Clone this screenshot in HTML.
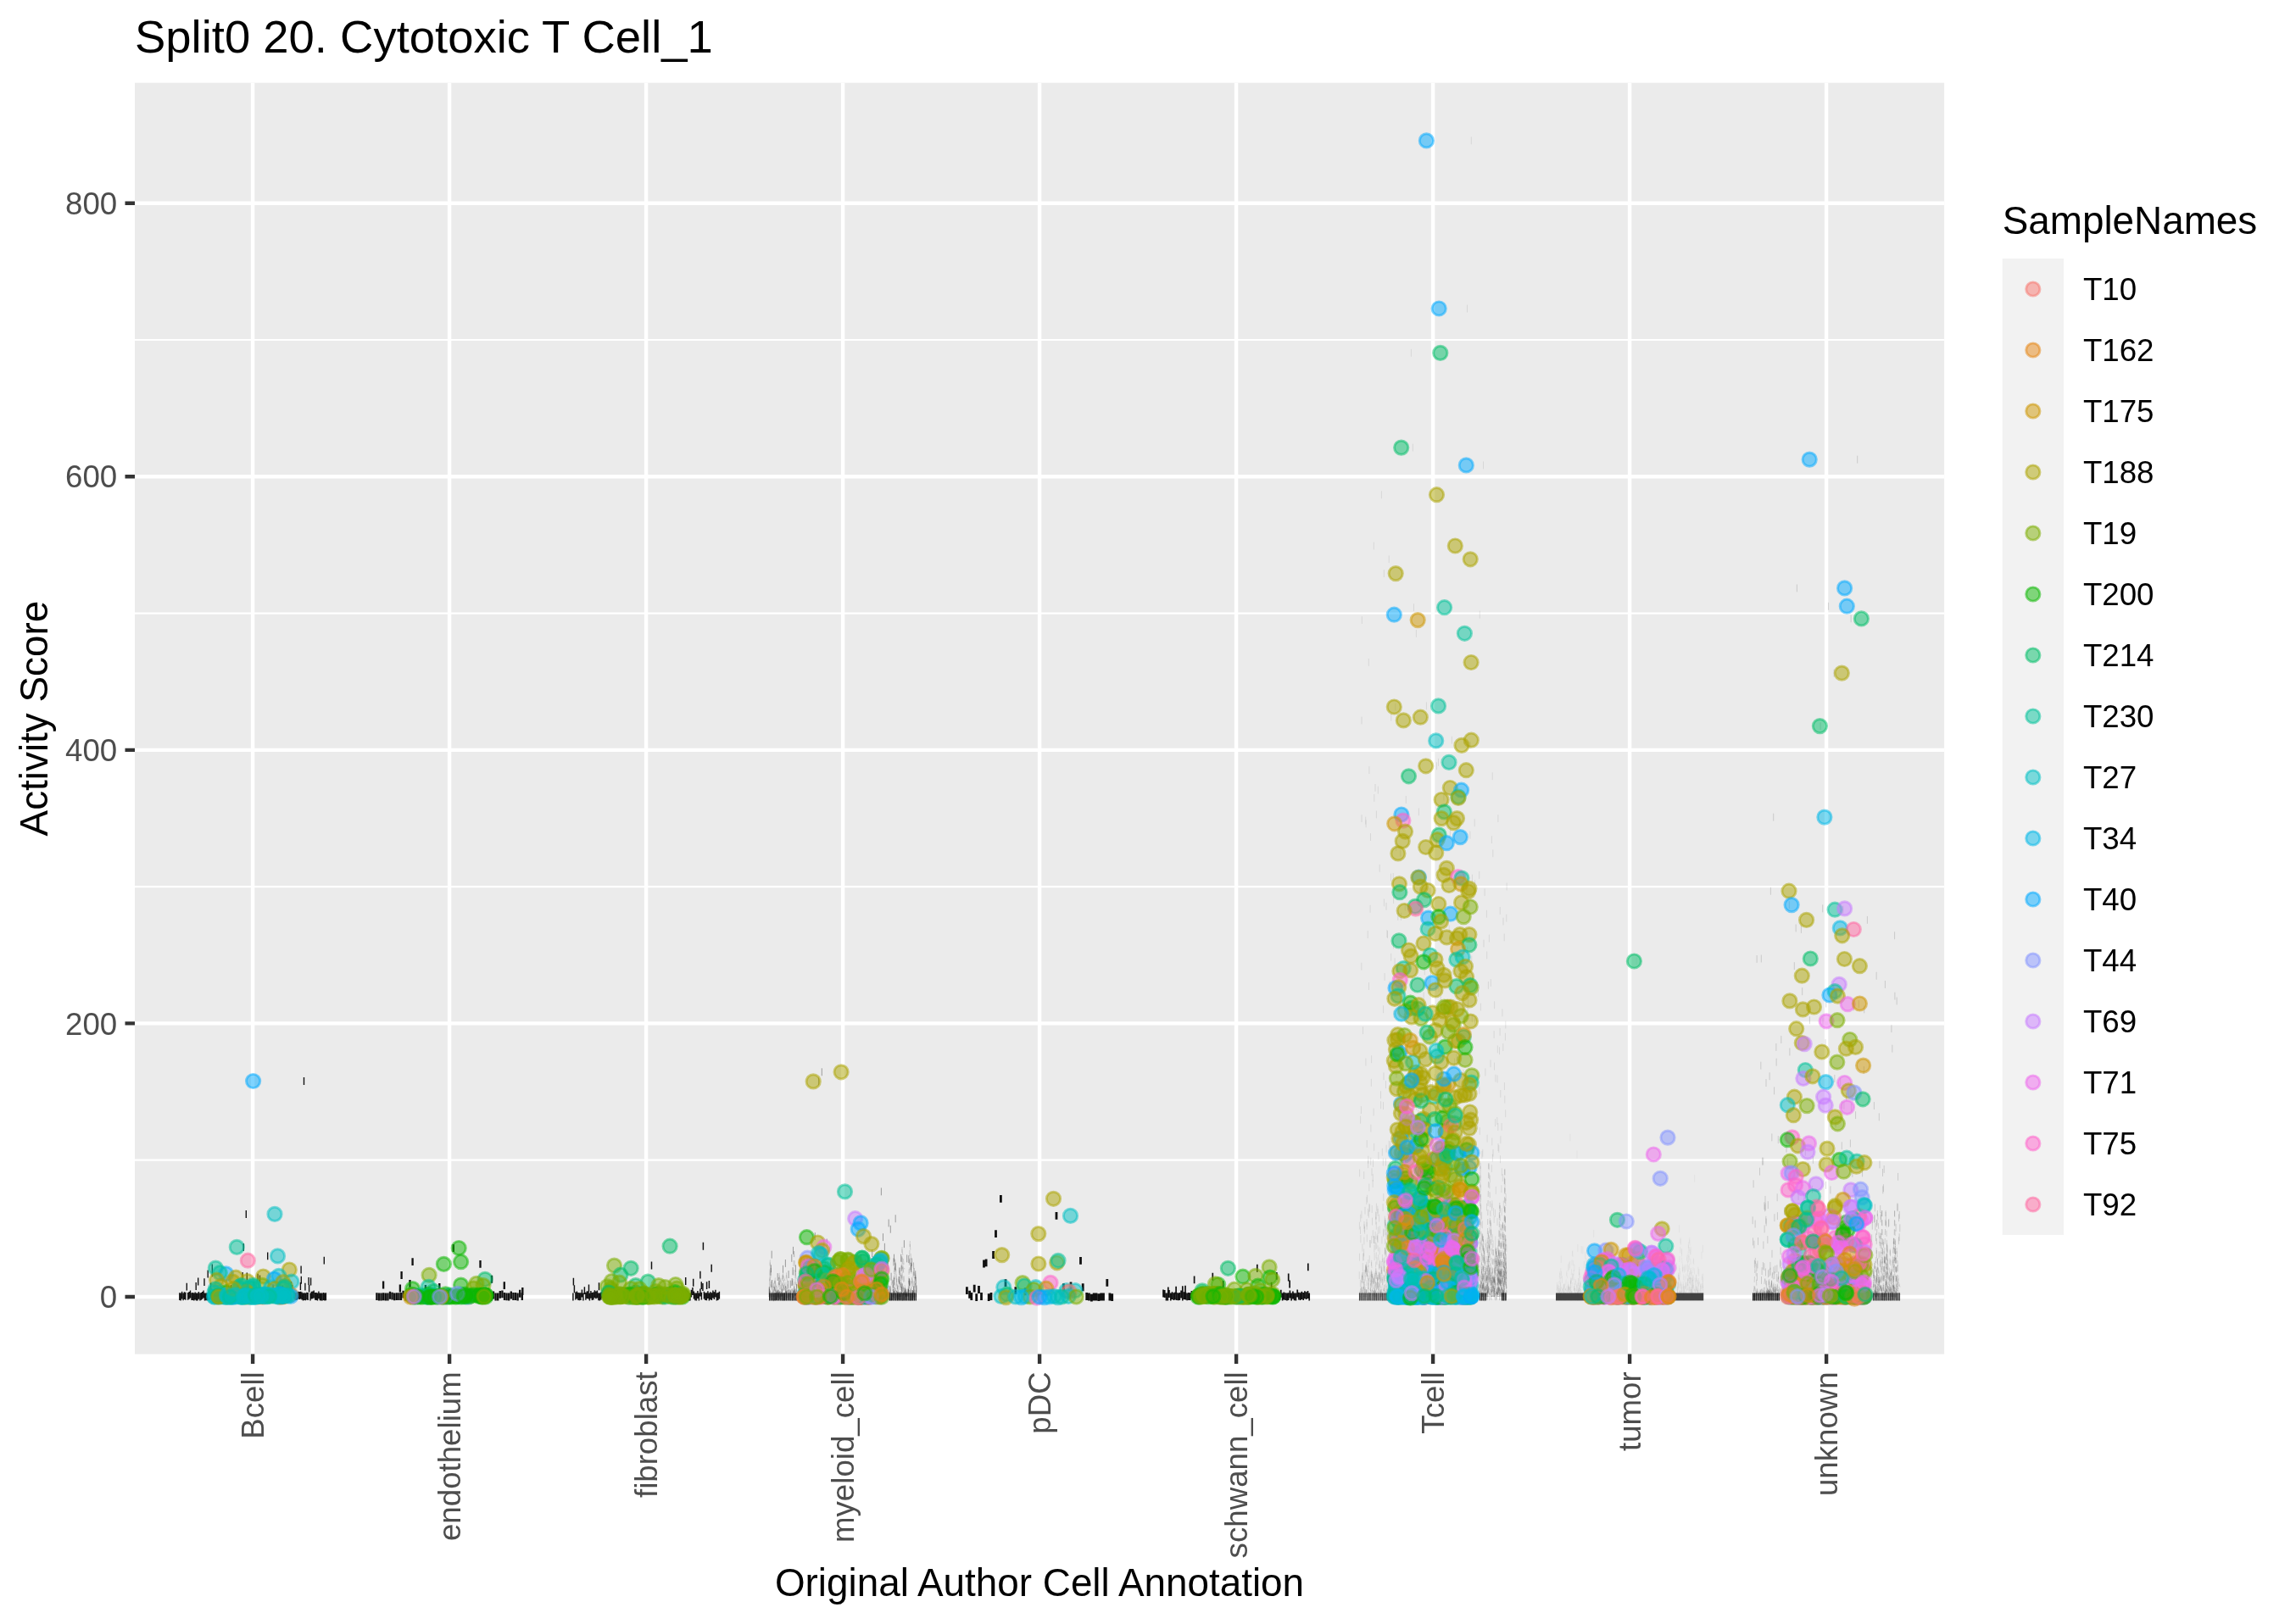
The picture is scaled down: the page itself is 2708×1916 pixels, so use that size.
<!DOCTYPE html><html><head><meta charset="utf-8"><title>plot</title><style>
html,body{margin:0;padding:0;background:#fff}svg{display:block;will-change:transform}text{font-family:"Liberation Sans",sans-serif}
.c0{fill:#F8766D;stroke:#F8766D}
.c1{fill:#E68613;stroke:#E68613}
.c2{fill:#CD9600;stroke:#CD9600}
.c3{fill:#ABA300;stroke:#ABA300}
.c4{fill:#7CAE00;stroke:#7CAE00}
.c5{fill:#0CB702;stroke:#0CB702}
.c6{fill:#00BE67;stroke:#00BE67}
.c7{fill:#00C19A;stroke:#00C19A}
.c8{fill:#00BFC4;stroke:#00BFC4}
.c9{fill:#00B8E7;stroke:#00B8E7}
.c10{fill:#00A9FF;stroke:#00A9FF}
.c11{fill:#8494FF;stroke:#8494FF}
.c12{fill:#C77CFF;stroke:#C77CFF}
.c13{fill:#ED68ED;stroke:#ED68ED}
.c14{fill:#FF61CC;stroke:#FF61CC}
.c15{fill:#FF68A1;stroke:#FF68A1}
</style></head><body>
<svg width="2708" height="1916" viewBox="0 0 2708 1916">
<rect width="2708" height="1916" fill="#fff"/>
<rect x="159.0" y="97.7" width="2134.1" height="1499.9" fill="#EBEBEB"/>
<path d="M159.0 1368.7H2293.1M159.0 1046.2H2293.1M159.0 723.6H2293.1M159.0 401.0H2293.1" stroke="#fff" stroke-width="2.2" fill="none"/>
<path d="M159.0 1530.0H2293.1M159.0 1207.4H2293.1M159.0 884.9H2293.1M159.0 562.3H2293.1M159.0 239.8H2293.1M298.1 97.7V1597.6M530.1 97.7V1597.6M762.1 97.7V1597.6M994.1 97.7V1597.6M1226.1 97.7V1597.6M1458.1 97.7V1597.6M1690.1 97.7V1597.6M1922.1 97.7V1597.6M2154.1 97.7V1597.6" stroke="#fff" stroke-width="4.4" fill="none"/>
<path d="M358.5 1271.0v8.9M290.3 1428.0v8.9M287.2 1467.0v8.9M315.7 1477.4v8.9M382.3 1482.7v8.9M250.3 1491.6v8.9M355.1 1493.6v8.9M245.2 1498.5v8.9M250.4 1497.3v8.9M286.1 1500.9v8.9M291.3 1501.5v8.9M304.1 1502.7v8.9M306.5 1504.6v8.9M355.3 1505.8v8.9M364.1 1507.0v8.9M366.6 1507.6v8.9M233.7 1507.6v8.9M241.0 1508.2v8.9M343.4 1511.9v8.9M359.9 1513.7v8.9M354.4 1513.1v8.9M231.2 1513.1v8.9M289.6 1514.3v8.9M329.2 1520.4v8.9M250.0 1520.4v8.9M361.8 1524.7v8.9M384.4 1525.3v8.9M241.5 1525.5v8.9M275.5 1524.7v8.9M286.8 1514.5v8.9M272.6 1516.0v8.9M285.4 1525.5v8.9M312.2 1522.9v8.9M373.1 1525.0v8.9M248.6 1513.6v8.9M221.7 1524.9v8.9M339.1 1522.9v8.9M305.2 1525.4v8.9M315.1 1524.6v8.9M268.4 1525.0v8.9M251.4 1524.1v8.9M213.2 1525.5v8.9M274.1 1525.5v8.9M298.1 1524.3v8.9M291.0 1524.5v8.9M261.3 1525.5v8.9M349.0 1525.2v8.9M267.0 1524.9v8.9M242.9 1525.4v8.9M244.3 1525.4v8.9M240.1 1522.6v8.9M223.1 1523.9v8.9M353.3 1524.0v8.9M224.5 1522.6v8.9M264.1 1525.5v8.9M228.8 1525.5v8.9M332.1 1525.3v8.9M334.9 1525.5v8.9M308.0 1520.3v8.9M310.8 1525.5v8.9M245.8 1525.3v8.9M337.7 1523.8v8.9M296.7 1524.0v8.9M344.8 1516.1v8.9M231.6 1525.5v8.9M309.4 1524.7v8.9M233.0 1525.5v8.9M346.2 1523.2v8.9M295.3 1523.4v8.9M343.4 1525.5v8.9M254.2 1522.8v8.9M366.0 1525.5v8.9M350.4 1524.6v8.9M293.9 1525.5v8.9M375.9 1523.4v8.9M271.2 1523.6v8.9M322.1 1515.4v8.9M259.9 1525.5v8.9M257.1 1524.9v8.9M278.3 1520.4v8.9M217.5 1524.2v8.9M370.2 1522.5v8.9M368.8 1523.4v8.9M378.7 1525.5v8.9M234.4 1523.9v8.9M299.5 1512.0v8.9M383.0 1525.5v8.9M320.7 1524.7v8.9M220.3 1513.7v8.9M292.4 1519.4v8.9M279.7 1512.1v8.9M230.2 1524.5v8.9M276.9 1525.5v8.9M326.4 1525.1v8.9M333.5 1516.4v8.9M216.1 1525.4v8.9M357.5 1525.5v8.9M374.5 1525.5v8.9M356.1 1524.6v8.9M364.6 1515.7v8.9M313.7 1524.6v8.9M336.3 1525.5v8.9M354.7 1523.7v8.9M235.9 1525.5v8.9M381.6 1525.0v8.9M288.2 1523.8v8.9M360.3 1525.4v8.9M303.8 1525.4v8.9M367.4 1523.7v8.9M371.7 1524.9v8.9M327.8 1522.5v8.9M323.6 1525.5v8.9M262.7 1522.5v8.9M380.1 1525.5v8.9M300.9 1522.8v8.9M342.0 1525.5v8.9M269.8 1524.7v8.9M281.1 1516.0v8.9M319.3 1523.5v8.9M340.5 1525.5v8.9M330.6 1524.5v8.9M238.7 1523.9v8.9M347.6 1524.5v8.9M306.6 1525.3v8.9M316.5 1525.3v8.9M226.0 1525.2v8.9M252.8 1524.1v8.9M325.0 1525.2v8.9M363.2 1525.1v8.9M265.6 1524.5v8.9M214.6 1523.7v8.9M282.5 1524.7v8.9M218.9 1524.8v8.9M317.9 1523.6v8.9M284.0 1524.2v8.9M237.3 1524.9v8.9M377.3 1525.4v8.9M358.9 1525.2v8.9M258.5 1523.9v8.9M227.4 1525.1v8.9M211.8 1525.2v8.9M351.9 1523.7v8.9M302.3 1525.1v8.9M255.7 1524.9v8.9M247.2 1524.6v8.9" stroke="#111" stroke-width="1.37" fill="none"/>
<path d="M534.8 1468.0v8.9M486.6 1484.2v8.9M566.5 1486.9v8.9M473.6 1500.0v8.9M580.0 1504.8v8.9M452.1 1511.6v8.9M594.8 1512.2v8.9M483.5 1509.9v8.9M471.9 1515.6v8.9M501.9 1516.1v8.9M518.3 1513.9v8.9M616.3 1519.0v8.9M553.5 1525.5v8.9M527.5 1525.5v8.9M595.0 1525.0v8.9M550.9 1523.1v8.9M582.0 1523.5v8.9M597.6 1525.4v8.9M486.0 1524.3v8.9M592.4 1522.4v8.9M548.3 1525.0v8.9M488.5 1524.5v8.9M467.8 1525.2v8.9M615.8 1525.2v8.9M600.2 1525.5v8.9M454.8 1525.5v8.9M543.1 1525.4v8.9M491.1 1525.5v8.9M584.6 1525.5v8.9M574.2 1525.5v8.9M498.9 1525.5v8.9M537.9 1523.6v8.9M473.0 1525.1v8.9M608.0 1525.0v8.9M576.8 1523.8v8.9M519.7 1522.7v8.9M545.7 1525.3v8.9M460.0 1523.8v8.9M465.2 1525.4v8.9M540.5 1525.2v8.9M556.1 1525.5v8.9M524.9 1523.0v8.9M480.8 1525.2v8.9M530.1 1525.3v8.9M587.2 1525.5v8.9M449.6 1525.5v8.9M509.3 1525.5v8.9M483.4 1525.5v8.9M602.8 1523.6v8.9M447.0 1525.5v8.9M563.9 1523.6v8.9M558.7 1525.5v8.9M496.3 1525.5v8.9M566.5 1525.3v8.9M517.1 1524.4v8.9M532.7 1525.5v8.9M504.1 1523.7v8.9M475.6 1522.7v8.9M522.3 1525.2v8.9M561.3 1524.9v8.9M452.2 1525.3v8.9M457.4 1525.5v8.9M514.5 1523.3v8.9M493.7 1525.4v8.9M579.4 1525.5v8.9M571.7 1525.4v8.9M605.4 1525.1v8.9M506.7 1525.5v8.9M478.2 1525.5v8.9M569.1 1524.7v8.9M610.6 1525.5v8.9M462.6 1524.7v8.9M589.8 1522.9v8.9M511.9 1524.4v8.9M501.5 1525.8v8.9M613.2 1521.8v8.9M535.3 1524.6v8.9M470.4 1525.2v8.9M444.4 1525.2v8.9" stroke="#111" stroke-width="2.34" fill="none"/>
<path d="M829.4 1465.8v8.9M768.5 1488.6v8.9M839.2 1491.8v8.9M825.9 1499.7v8.9M676.4 1507.7v8.9M827.3 1512.2v8.9M808.7 1507.1v8.9M817.7 1508.8v8.9M706.5 1513.3v8.9M833.6 1512.2v8.9M836.4 1511.1v8.9M694.5 1515.6v8.9M711.9 1520.1v8.9M804.9 1523.5v8.9M717.9 1523.5v8.9M677.4 1516.3v8.9M803.4 1525.5v8.9M816.9 1519.0v8.9M846.9 1525.0v8.9M698.4 1525.1v8.9M779.4 1525.5v8.9M704.4 1522.6v8.9M821.4 1525.5v8.9M732.9 1524.2v8.9M764.4 1523.5v8.9M734.4 1525.5v8.9M788.4 1525.4v8.9M749.4 1525.3v8.9M744.9 1524.0v8.9M701.4 1522.3v8.9M770.4 1525.5v8.9M687.9 1525.5v8.9M689.4 1518.2v8.9M743.4 1525.5v8.9M752.4 1523.5v8.9M762.9 1524.5v8.9M813.9 1525.5v8.9M738.9 1523.3v8.9M812.4 1525.5v8.9M710.4 1522.2v8.9M720.9 1525.4v8.9M719.4 1525.0v8.9M786.9 1523.2v8.9M726.9 1515.4v8.9M783.9 1525.5v8.9M705.9 1525.4v8.9M773.4 1523.5v8.9M728.4 1522.5v8.9M818.4 1523.5v8.9M683.4 1525.3v8.9M686.4 1521.5v8.9M755.4 1523.7v8.9M792.9 1524.6v8.9M696.9 1522.9v8.9M695.4 1525.5v8.9M768.9 1525.5v8.9M690.9 1524.8v8.9M776.4 1523.0v8.9M827.4 1524.7v8.9M809.4 1520.8v8.9M761.4 1524.2v8.9M824.4 1525.5v8.9M815.4 1521.7v8.9M780.9 1525.5v8.9M750.9 1522.7v8.9M785.4 1525.1v8.9M759.9 1524.4v8.9M782.4 1525.5v8.9M722.4 1525.3v8.9M708.9 1524.6v8.9M800.4 1523.7v8.9M801.9 1525.5v8.9M843.9 1521.7v8.9M747.9 1515.9v8.9M702.9 1523.4v8.9M713.4 1525.5v8.9M675.9 1525.5v8.9M789.9 1525.5v8.9M707.4 1525.5v8.9M840.9 1522.6v8.9M839.4 1525.2v8.9M716.4 1525.5v8.9M777.9 1525.0v8.9M806.4 1525.0v8.9M822.9 1523.0v8.9M810.9 1522.7v8.9M825.9 1520.5v8.9M774.9 1525.5v8.9M758.4 1523.4v8.9M845.4 1525.5v8.9M753.9 1525.1v8.9M680.4 1523.4v8.9M794.4 1525.5v8.9M807.9 1524.6v8.9M765.9 1524.3v8.9M771.9 1525.5v8.9M791.4 1521.9v8.9M737.4 1525.4v8.9M746.4 1522.7v8.9M684.9 1525.2v8.9M831.9 1525.2v8.9M723.9 1525.5v8.9M741.9 1524.4v8.9M678.9 1524.6v8.9M725.4 1521.7v8.9M756.9 1525.3v8.9M740.4 1525.5v8.9M735.9 1525.5v8.9M731.4 1524.6v8.9M714.9 1523.8v8.9M798.9 1525.3v8.9M836.4 1525.5v8.9M828.9 1514.0v8.9M699.9 1524.6v8.9M693.9 1523.5v8.9M767.4 1523.5v8.9M729.9 1524.3v8.9M834.9 1523.2v8.9M795.9 1523.6v8.9M842.4 1524.2v8.9M833.4 1525.3v8.9M692.4 1523.2v8.9M797.4 1525.2v8.9M819.9 1525.4v8.9M830.4 1523.7v8.9M837.9 1524.3v8.9M848.4 1523.7v8.9M681.9 1525.0v8.9" stroke="#111" stroke-width="1.46" fill="none"/>
<path d="M969.3 1260.3v8.9M965.5 1271.4v8.9M1039.4 1401.4v8.9M1056.2 1433.3v8.9M1048.2 1438.5v8.9M1050.3 1445.8v8.9M961.3 1454.2v8.9M1066.4 1463.2v8.9M1041.5 1455.2v8.9M975.2 1461.5v8.9M1043.4 1466.8v8.9M935.5 1470.9v8.9M1054.5 1479.7v8.9M1020.8 1485.6v8.9M1028.7 1474.1v8.9M1062.7 1479.7v8.9M1069.7 1480.4v8.9M1075.4 1484.5v8.9M979.8 1487.7v8.9M998.9 1481.4v8.9M1029.5 1482.5v8.9M1054.0 1484.5v8.9M990.6 1491.9v8.9M961.6 1487.7v8.9M1047.3 1489.8v8.9M939.6 1515.0v8.9M1072.6 1508.2v8.9M1076.3 1522.2v8.9M1073.8 1525.5v8.9M1004.2 1518.7v8.9M910.6 1510.0v8.9M957.0 1520.6v8.9M1049.4 1524.3v8.9M917.2 1502.1v8.9M969.9 1518.1v8.9M951.6 1501.3v8.9M925.1 1525.2v8.9M967.8 1518.7v8.9M978.6 1512.1v8.9M1019.6 1491.7v8.9M947.1 1521.1v8.9M1078.0 1496.1v8.9M972.4 1499.7v8.9M1048.6 1525.3v8.9M1007.6 1525.3v8.9M923.9 1525.5v8.9M991.4 1524.9v8.9M1003.4 1524.7v8.9M1025.8 1525.4v8.9M976.1 1494.1v8.9M1077.2 1523.2v8.9M1057.7 1523.2v8.9M1060.6 1505.9v8.9M1005.9 1524.6v8.9M908.1 1522.6v8.9M909.0 1495.9v8.9M921.8 1524.5v8.9M1049.0 1516.8v8.9M941.7 1525.5v8.9M1039.9 1519.3v8.9M922.2 1520.5v8.9M986.4 1524.3v8.9M930.1 1499.1v8.9M1047.8 1524.0v8.9M971.9 1525.5v8.9M976.5 1522.9v8.9M1022.1 1525.4v8.9M932.2 1510.7v8.9M1063.5 1518.2v8.9M1045.3 1519.2v8.9M971.1 1520.0v8.9M1022.9 1519.1v8.9M942.1 1516.4v8.9M1021.6 1520.3v8.9M974.4 1499.9v8.9M909.4 1492.3v8.9M1025.4 1522.2v8.9M1060.2 1524.1v8.9M987.3 1525.1v8.9M907.7 1520.6v8.9M922.6 1525.5v8.9M1021.2 1523.1v8.9M918.1 1524.5v8.9M1071.4 1520.7v8.9M1009.6 1525.5v8.9M915.2 1524.2v8.9M990.2 1525.5v8.9M1072.2 1511.2v8.9M995.6 1525.5v8.9M913.5 1525.2v8.9M924.7 1525.4v8.9M1075.5 1525.5v8.9M999.3 1524.5v8.9M938.4 1492.4v8.9M914.8 1525.1v8.9M946.2 1512.1v8.9M1071.0 1520.7v8.9M964.9 1522.1v8.9M1009.2 1525.5v8.9M1075.9 1524.5v8.9M1040.7 1511.4v8.9M1041.1 1525.0v8.9M977.7 1521.6v8.9M1013.4 1524.9v8.9M1042.0 1511.1v8.9M955.8 1525.5v8.9M963.2 1525.2v8.9M932.6 1522.5v8.9M942.5 1505.5v8.9M970.7 1519.1v8.9M988.5 1525.4v8.9M964.1 1496.8v8.9M1014.6 1523.5v8.9M1007.1 1524.3v8.9M1005.5 1525.5v8.9M1055.2 1518.9v8.9M1004.7 1519.9v8.9M1066.0 1519.3v8.9M962.0 1524.2v8.9M1044.0 1511.8v8.9M1023.3 1525.5v8.9M916.0 1524.6v8.9M1046.5 1522.1v8.9M1073.0 1525.5v8.9M1079.7 1499.4v8.9M956.6 1519.5v8.9M919.7 1523.3v8.9M969.5 1515.1v8.9M1080.1 1506.7v8.9M915.6 1525.1v8.9M986.0 1525.5v8.9M1037.8 1515.7v8.9M1050.2 1517.5v8.9M1006.7 1522.2v8.9M1000.1 1525.5v8.9M993.5 1525.5v8.9M965.3 1525.5v8.9M1032.4 1525.5v8.9M1067.6 1519.5v8.9M1008.8 1507.4v8.9M1049.8 1525.5v8.9M1062.2 1525.3v8.9M952.5 1517.6v8.9M928.9 1522.4v8.9M912.7 1525.2v8.9M961.2 1519.2v8.9M955.0 1519.5v8.9M1005.1 1525.5v8.9M1043.2 1525.5v8.9M1046.9 1525.2v8.9M1016.7 1522.0v8.9M988.1 1507.2v8.9M916.8 1522.5v8.9M962.8 1521.6v8.9M936.7 1517.9v8.9M1018.3 1524.3v8.9M1028.3 1501.2v8.9M1078.8 1521.5v8.9M1002.2 1519.6v8.9M1043.6 1525.4v8.9M929.3 1510.9v8.9M1026.6 1491.2v8.9M911.0 1524.6v8.9M1046.1 1525.0v8.9M1015.9 1521.2v8.9M1056.9 1525.5v8.9M969.0 1500.0v8.9M1030.3 1525.4v8.9M1001.4 1524.1v8.9M918.9 1507.0v8.9M907.3 1518.2v8.9M992.2 1503.7v8.9M968.2 1525.2v8.9M953.3 1495.2v8.9M1027.0 1525.5v8.9M1019.2 1525.5v8.9M1054.4 1523.1v8.9M1033.2 1523.3v8.9M1059.3 1525.5v8.9M967.0 1524.8v8.9M995.1 1504.0v8.9M974.8 1491.9v8.9M1051.9 1524.6v8.9M1059.8 1524.0v8.9M1063.9 1514.2v8.9M984.4 1519.7v8.9M1034.1 1524.4v8.9M923.5 1492.9v8.9M939.2 1525.5v8.9M1061.8 1524.6v8.9M1023.7 1525.5v8.9M924.3 1525.4v8.9M985.6 1525.5v8.9M983.5 1496.9v8.9M1068.5 1521.4v8.9M1058.5 1524.0v8.9M1018.8 1522.7v8.9M982.7 1522.2v8.9M930.5 1524.6v8.9M984.8 1525.5v8.9M1050.7 1525.4v8.9M935.9 1522.7v8.9M919.3 1524.3v8.9M1013.8 1524.0v8.9M1073.4 1525.4v8.9M917.7 1521.6v8.9M996.4 1525.0v8.9M944.6 1516.4v8.9M1032.0 1504.1v8.9M1036.6 1498.0v8.9M997.6 1525.5v8.9M1035.7 1512.6v8.9M1024.1 1524.8v8.9M976.9 1518.6v8.9M1067.2 1523.7v8.9M950.8 1525.4v8.9M1080.5 1521.5v8.9M1032.8 1523.9v8.9M1008.4 1520.7v8.9M1045.7 1523.3v8.9M979.0 1520.5v8.9M945.8 1524.0v8.9M1013.0 1521.9v8.9M1010.9 1516.4v8.9M936.3 1522.2v8.9M1068.9 1525.3v8.9M998.0 1525.5v8.9M973.6 1505.5v8.9M1010.5 1525.5v8.9M956.2 1525.3v8.9M1036.2 1519.8v8.9M950.0 1508.6v8.9M945.0 1525.3v8.9M937.1 1520.3v8.9M949.6 1525.5v8.9M1077.6 1517.3v8.9M993.9 1524.3v8.9M1061.0 1495.6v8.9M1065.6 1524.8v8.9M930.9 1521.3v8.9M1011.7 1510.5v8.9M1066.4 1525.4v8.9M1042.8 1525.5v8.9M1063.1 1524.4v8.9M927.6 1523.4v8.9M938.8 1523.0v8.9M1042.4 1524.9v8.9M960.3 1523.8v8.9M1017.5 1525.5v8.9M945.4 1525.1v8.9M1051.1 1501.7v8.9M966.6 1525.2v8.9M1052.7 1525.2v8.9M1055.6 1525.1v8.9M1001.8 1525.5v8.9M977.3 1518.1v8.9M927.2 1523.6v8.9M941.3 1524.9v8.9M931.8 1525.5v8.9M997.2 1519.8v8.9M1034.5 1521.9v8.9M926.0 1525.2v8.9M980.6 1521.5v8.9M1053.5 1521.0v8.9M1064.3 1525.5v8.9M948.3 1484.8v8.9M910.2 1475.7v8.9M973.2 1488.5v8.9M1074.3 1489.7v8.9M1071.8 1481.2v8.9M1038.2 1481.8v8.9M1027.9 1484.2v8.9M926.4 1486.0v8.9M1074.7 1492.1v8.9M933.8 1479.9v8.9M952.1 1483.6v8.9M1015.4 1479.9v8.9M1037.4 1482.4v8.9M959.5 1484.8v8.9M1035.3 1487.9v8.9M1056.0 1489.7v8.9M962.4 1489.7v8.9M935.1 1495.2v8.9M1003.0 1498.2v8.9M955.4 1499.5v8.9M950.4 1501.9v8.9M1014.2 1500.1v8.9M1008.0 1500.7v8.9M970.3 1499.5v8.9M951.2 1493.4v8.9M986.9 1495.2v8.9M993.1 1492.7v8.9M952.9 1504.3v8.9M981.9 1510.4v8.9M985.2 1507.4v8.9M1053.1 1510.4v8.9M1054.8 1507.4v8.9M1033.7 1510.4v8.9M1000.9 1509.2v8.9M1025.0 1507.4v8.9M934.2 1508.0v8.9M1022.5 1513.5v8.9M964.5 1516.5v8.9M1080.9 1516.5v8.9M926.8 1517.1v8.9M934.6 1525.5v8.9M958.3 1525.5v8.9M940.0 1525.5v8.9M979.4 1525.5v8.9M912.3 1526.3v8.9M966.1 1525.5v8.9M914.4 1525.7v8.9M999.7 1521.4v8.9M1064.7 1525.7v8.9M980.2 1522.6v8.9M967.4 1525.1v8.9" stroke="#111" stroke-width="0.37" fill="none"/>
<path d="M928.1 1518.7L926.5 1530.0M928.1 1519.3L929.6 1523.8M934.0 1520.5L932.8 1530.0M934.0 1520.9L935.1 1525.4M936.6 1476.0L934.5 1530.0M936.6 1476.2L938.6 1523.0M921.1 1508.3L917.6 1530.0M921.1 1510.7L924.6 1521.8M912.4 1520.9L911.1 1530.0M912.4 1523.4L913.7 1527.8M938.4 1501.2L936.2 1530.0M938.4 1502.1L940.0 1523.6M909.0 1512.7L907.0 1530.0M909.0 1514.7L912.1 1528.5M910.2 1523.3L907.5 1530.0M910.2 1526.9L913.0 1529.7M908.3 1486.5L907.0 1530.0M908.3 1489.4L909.7 1520.1M908.1 1504.4L907.0 1530.0M908.1 1506.7L910.8 1522.8M924.8 1515.3L922.8 1530.0M924.8 1517.4L926.9 1524.5M912.8 1517.8L910.3 1530.0M912.8 1518.2L915.3 1524.1M930.4 1519.2L927.8 1530.0M930.4 1521.4L933.1 1527.3M919.4 1511.2L918.1 1530.0M919.4 1514.6L920.8 1524.0M927.6 1501.4L926.1 1530.0M927.6 1504.3L929.2 1518.1M912.6 1513.6L910.2 1530.0M912.6 1517.4L914.9 1526.5M915.4 1517.0L913.8 1530.0M915.4 1517.9L917.1 1522.5M914.3 1507.4L912.7 1530.0M914.3 1510.7L915.8 1521.2M913.8 1510.7L911.0 1530.0M913.8 1511.6L916.6 1524.7M924.8 1509.7L921.9 1530.0M924.8 1513.3L927.6 1523.1M934.4 1510.3L931.4 1530.0M934.4 1510.9L937.4 1524.1M923.7 1502.1L920.4 1530.0M923.7 1504.6L927.1 1513.9M924.0 1516.6L921.3 1530.0M924.0 1518.8L926.7 1522.2M913.9 1516.3L912.7 1530.0M913.9 1517.8L915.2 1524.9M920.5 1523.4L919.4 1530.0M920.5 1526.2L921.6 1526.2M922.3 1522.5L920.9 1530.0M922.3 1526.1L923.6 1529.6M938.6 1521.3L937.4 1530.0M938.6 1524.2L939.9 1528.1M919.4 1501.9L916.4 1530.0M919.4 1504.8L922.4 1529.8M915.9 1520.7L913.6 1530.0M915.9 1522.8L918.2 1528.0M923.2 1503.7L921.3 1530.0M923.2 1505.1L925.0 1524.8" stroke="#1a1a1a" stroke-opacity="0.22" stroke-width=".7" stroke-dasharray="7 4" fill="none"/>
<path d="M1068.1 1523.5L1064.8 1530.0M1068.1 1524.4L1071.4 1528.6M1070.8 1523.7L1067.3 1530.0M1070.8 1525.4L1074.3 1527.0M1064.6 1522.9L1063.0 1530.0M1064.6 1523.5L1066.3 1526.0M1076.2 1507.4L1073.1 1530.0M1076.2 1509.7L1079.3 1526.6M1079.9 1502.5L1078.2 1530.0M1079.9 1504.3L1081.0 1529.6M1079.8 1514.0L1077.6 1530.0M1079.8 1514.1L1081.0 1522.0M1052.2 1509.5L1049.6 1530.0M1052.2 1511.9L1054.8 1519.6M1079.0 1506.3L1076.9 1530.0M1079.0 1507.2L1081.0 1516.4M1065.5 1517.3L1063.2 1530.0M1065.5 1518.5L1067.8 1529.0M1068.7 1520.4L1065.7 1530.0M1068.7 1523.3L1071.8 1528.1M1064.1 1482.4L1062.3 1530.0M1064.1 1483.8L1065.8 1516.2M1056.8 1519.7L1053.6 1530.0M1056.8 1522.1L1060.0 1526.1M1071.8 1521.7L1069.8 1530.0M1071.8 1521.9L1073.8 1525.0M1060.7 1511.2L1058.2 1530.0M1060.7 1511.8L1063.2 1522.1M1077.5 1489.1L1076.2 1530.0M1077.5 1489.9L1078.7 1519.5M1067.2 1522.4L1064.2 1530.0M1067.2 1525.6L1070.1 1528.9M1073.9 1521.7L1072.7 1530.0M1073.9 1525.6L1075.1 1528.3M1060.9 1495.2L1059.3 1530.0M1060.9 1498.7L1062.5 1515.1M1060.0 1505.7L1057.4 1530.0M1060.0 1509.3L1062.7 1518.6M1065.1 1490.3L1062.1 1530.0M1065.1 1494.3L1068.1 1526.4M1056.2 1491.1L1053.5 1530.0M1056.2 1492.7L1058.8 1520.7M1073.2 1484.2L1070.7 1530.0M1073.2 1484.8L1075.6 1510.2M1057.6 1511.3L1054.9 1530.0M1057.6 1515.1L1060.2 1529.2M1055.7 1485.2L1053.2 1530.0M1055.7 1486.4L1058.2 1520.5M1064.0 1471.1L1061.3 1530.0M1064.0 1474.0L1066.8 1497.4M1075.2 1518.2L1073.7 1530.0M1075.2 1521.8L1076.6 1526.1M1072.8 1509.2L1071.2 1530.0M1072.8 1509.3L1074.3 1529.4M1063.4 1490.5L1061.7 1530.0M1063.4 1492.5L1065.1 1527.6M1057.3 1523.1L1055.9 1530.0M1057.3 1523.3L1058.6 1529.7M1074.5 1511.1L1071.7 1530.0M1074.5 1511.2L1077.3 1526.9M1069.3 1523.8L1067.5 1530.0M1069.3 1523.9L1071.1 1528.8M1076.0 1523.6L1073.8 1530.0M1076.0 1526.0L1078.2 1526.9M1055.2 1494.1L1052.2 1530.0M1055.2 1494.5L1058.2 1516.8M1073.3 1464.0L1071.3 1530.0M1073.3 1467.8L1075.3 1495.4" stroke="#1a1a1a" stroke-opacity="0.22" stroke-width=".7" stroke-dasharray="7 4" fill="none"/>
<path d="M907.0 1530.0H940.0" stroke="#1a1a1a" stroke-width="8.9" stroke-dasharray="1.3 .5" stroke-opacity="0.97" fill="none"/>
<path d="M1049.0 1530.0H1081.3" stroke="#1a1a1a" stroke-width="8.9" stroke-dasharray="1.3 .5" stroke-opacity="0.97" fill="none"/>
<path d="M1180.4 1409.9v8.9M1246.0 1429.9v8.9M1174.5 1451.2v8.9M1171.6 1476.1v8.9M1160.5 1486.5v8.9M1163.1 1485.4v8.9M1274.5 1482.9v8.9M1305.8 1508.9v8.9M1186.0 1509.2v8.9M1263.0 1512.6v8.9M1277.2 1514.3v8.9M1254.5 1514.3v8.9M1149.2 1515.7v8.9M1154.5 1517.1v8.9M1140.4 1518.2v8.9M1197.9 1518.2v8.9M1209.2 1519.4v8.9M1143.6 1522.8v8.9M1145.8 1525.0v8.9M1151.7 1526.2v8.9M1157.5 1525.0v8.9M1166.2 1526.2v8.9M1169.0 1525.0v8.9M1281.7 1525.0v8.9M1284.5 1525.6v8.9M1287.4 1526.7v8.9M1290.2 1525.6v8.9M1293.0 1525.6v8.9M1295.9 1526.2v8.9M1298.7 1525.6v8.9M1301.5 1525.6v8.9M1308.9 1525.6v8.9M1311.7 1526.2v8.9" stroke="#111" stroke-width="2.80" fill="none"/>
<path d="M1482.8 1491.8v8.9M1542.8 1490.4v8.9M1430.3 1501.8v8.9M1505.8 1500.9v8.9M1519.7 1502.6v8.9M1408.6 1505.4v8.9M1442.6 1511.1v8.9M1521.1 1510.5v8.9M1499.6 1512.8v8.9M1377.8 1518.4v8.9M1398.0 1516.7v8.9M1394.8 1517.3v8.9M1387.1 1517.8v8.9M1535.2 1524.1v8.9M1442.3 1525.3v8.9M1524.9 1523.6v8.9M1480.9 1525.5v8.9M1414.2 1525.0v8.9M1544.2 1525.5v8.9M1466.9 1523.6v8.9M1526.6 1525.4v8.9M1484.5 1525.1v8.9M1459.9 1521.8v8.9M1463.4 1525.4v8.9M1440.5 1525.5v8.9M1430.0 1525.1v8.9M1452.8 1525.5v8.9M1372.0 1521.5v8.9M1512.6 1525.5v8.9M1424.7 1525.3v8.9M1456.3 1525.4v8.9M1435.3 1524.6v8.9M1380.8 1525.5v8.9M1422.9 1525.2v8.9M1431.7 1524.9v8.9M1507.3 1524.6v8.9M1428.2 1524.9v8.9M1410.6 1522.7v8.9M1521.4 1522.5v8.9M1454.6 1523.3v8.9M1531.9 1524.7v8.9M1540.7 1524.2v8.9M1426.5 1525.5v8.9M1379.0 1522.0v8.9M1493.3 1525.2v8.9M1438.8 1522.0v8.9M1458.1 1522.0v8.9M1486.2 1525.5v8.9M1472.2 1525.3v8.9M1444.0 1525.3v8.9M1394.8 1525.5v8.9M1477.4 1525.3v8.9M1528.4 1525.5v8.9M1542.5 1523.0v8.9M1405.4 1522.9v8.9M1489.7 1524.4v8.9M1433.5 1525.1v8.9M1498.5 1522.9v8.9M1503.8 1525.5v8.9M1479.2 1525.5v8.9M1510.8 1521.8v8.9M1537.2 1525.0v8.9M1389.6 1525.4v8.9M1375.5 1525.5v8.9M1386.0 1524.5v8.9M1449.3 1525.5v8.9M1377.3 1525.5v8.9M1519.6 1525.2v8.9M1502.0 1524.6v8.9M1447.6 1525.5v8.9M1517.9 1525.5v8.9M1451.1 1524.1v8.9M1400.1 1525.4v8.9M1465.1 1525.5v8.9M1445.8 1524.4v8.9M1396.6 1524.2v8.9M1495.0 1524.3v8.9M1523.1 1525.5v8.9M1391.3 1525.1v8.9M1415.9 1522.5v8.9M1500.3 1524.4v8.9M1475.7 1521.9v8.9M1393.1 1522.5v8.9M1488.0 1525.5v8.9M1533.7 1525.2v8.9M1403.6 1525.2v8.9M1407.1 1525.1v8.9M1491.5 1523.5v8.9M1419.4 1525.4v8.9M1437.0 1525.5v8.9M1421.2 1525.5v8.9M1516.1 1525.2v8.9M1408.9 1523.3v8.9M1496.8 1524.5v8.9M1373.7 1522.0v8.9M1530.2 1521.6v8.9M1482.7 1525.5v8.9M1505.6 1524.8v8.9M1387.8 1525.0v8.9M1401.9 1525.1v8.9M1382.5 1524.2v8.9M1398.3 1524.6v8.9M1514.3 1524.6v8.9M1468.6 1524.8v8.9M1412.4 1524.5v8.9M1384.3 1525.2v8.9M1538.9 1523.3v8.9M1417.7 1525.2v8.9M1470.4 1524.4v8.9M1535.4 1523.8v8.9M1461.6 1523.2v8.9M1473.9 1525.0v8.9M1509.1 1525.0v8.9" stroke="#111" stroke-width="1.70" fill="none"/>
<path d="M1735.3 161.4v8.9M1730.5 359.6v8.9M1664.4 411.9v8.9M1666.4 523.6v8.9M1749.5 544.5v8.9M1629.4 579.3v8.9M1620.3 639.6v8.9M1638.2 655.3v8.9M1632.3 672.2v8.9M1667.5 712.3v8.9M1745.3 720.7v8.9M1606.3 727.1v8.9M1670.4 742.9v8.9M1614.3 777.0v8.9M1645.8 829.5v8.9M1682.4 828.4v8.9M1606.0 845.5v8.9M1640.8 841.7v8.9M1727.0 869.4v8.9M1734.2 875.0v8.9M1712.3 868.7v8.9M1696.5 894.9v8.9M1694.5 899.3v8.9M1614.9 904.2v8.9M1760.2 911.3v8.9M1622.0 925.0v8.9M1625.3 927.7v8.9M1658.3 939.0v8.9M1702.9 935.7v8.9M1620.8 937.0v8.9M1623.4 956.5v8.9M1610.7 963.6v8.9M1611.1 967.4v8.9M1673.4 953.4v8.9M1606.0 961.2v8.9M1766.9 961.2v8.9M1739.2 966.3v8.9M1710.4 976.7v8.9M1694.3 988.0v8.9M1733.9 980.7v8.9M1759.4 986.2v8.9M1689.8 990.2v8.9M1616.5 983.1v8.9M1646.6 995.1v8.9M1651.7 1001.7v8.9M1760.8 1002.4v8.9M1627.2 1019.9v8.9M1744.7 1027.9v8.9M1640.5 1030.6v8.9M1697.6 1031.0v8.9M1643.2 1030.1v8.9M1736.4 1031.7v8.9M1715.3 1038.3v8.9M1682.0 1040.1v8.9M1739.6 1038.3v8.9M1751.1 1048.3v8.9M1777.1 1041.6v8.9M1674.8 1046.1v8.9M1730.9 1043.9v8.9M1729.7 1047.2v8.9M1643.6 1057.2v8.9M1733.1 1062.0v8.9M1632.4 1060.5v8.9M1657.3 1065.6v8.9M1635.0 1064.9v8.9M1616.1 1067.8v8.9M1769.2 1070.0v8.9M1753.4 1073.8v8.9M1652.4 1077.1v8.9M1776.8 1078.7v8.9M1648.8 1077.1v8.9M1773.0 1082.6v8.9M1709.2 1091.5v8.9M1635.9 1097.1v8.9M1774.2 1101.5v8.9M1613.2 1098.2v8.9M1636.5 1098.2v8.9M1756.4 1102.6v8.9M1711.7 1105.5v8.9M1643.5 1110.4v8.9M1750.0 1108.6v8.9M1669.1 1115.2v8.9M1730.7 1116.6v8.9M1681.1 1123.7v8.9M1753.7 1122.5v8.9M1735.8 1127.6v8.9M1640.7 1124.8v8.9M1691.7 1127.6v8.9M1645.1 1130.3v8.9M1605.8 1135.8v8.9M1647.9 1138.1v8.9M1669.8 1138.1v8.9M1687.5 1141.4v8.9M1647.8 1140.3v8.9M1708.2 1145.8v8.9M1680.3 1141.4v8.9M1633.1 1148.0v8.9M1734.3 1151.8v8.9M1638.8 1157.6v8.9M1758.3 1155.1v8.9M1614.5 1159.1v8.9M1755.4 1158.0v8.9M1693.7 1160.9v8.9M1697.0 1161.3v8.9M1718.9 1160.2v8.9M1731.2 1163.5v8.9M1665.4 1152.5v8.9M1707.8 1525.4v8.9M1659.7 1497.2v8.9M1740.0 1475.3v8.9M1666.9 1490.2v8.9M1739.8 1500.1v8.9M1715.4 1518.1v8.9M1646.4 1497.8v8.9M1724.9 1524.7v8.9M1655.9 1482.5v8.9M1742.4 1521.2v8.9M1608.9 1459.5v8.9M1730.8 1522.1v8.9M1756.7 1508.5v8.9M1641.1 1525.5v8.9M1628.5 1287.3v8.9M1755.1 1488.2v8.9M1771.3 1523.6v8.9M1640.9 1505.5v8.9M1664.7 1283.2v8.9M1755.2 1517.1v8.9M1701.3 1458.4v8.9M1718.6 1523.0v8.9M1733.6 1447.5v8.9M1620.6 1348.9v8.9M1763.4 1525.5v8.9M1748.9 1525.3v8.9M1704.6 1479.5v8.9M1734.9 1523.3v8.9M1699.8 1421.5v8.9M1637.0 1452.9v8.9M1699.2 1523.8v8.9M1625.0 1457.1v8.9M1642.8 1428.6v8.9M1756.5 1525.5v8.9M1735.1 1502.7v8.9M1610.0 1423.8v8.9M1625.5 1513.2v8.9M1733.6 1508.7v8.9M1678.4 1511.9v8.9M1668.9 1521.2v8.9M1616.6 1514.1v8.9M1719.1 1456.6v8.9M1644.4 1503.1v8.9M1763.8 1458.5v8.9M1635.0 1524.4v8.9M1742.1 1525.5v8.9M1693.5 1477.4v8.9M1610.6 1493.9v8.9M1748.0 1504.1v8.9M1752.2 1520.1v8.9M1688.2 1525.5v8.9M1659.3 1525.5v8.9M1683.2 1431.8v8.9M1688.7 1522.1v8.9M1693.6 1522.7v8.9M1695.1 1473.6v8.9M1743.2 1353.2v8.9M1691.2 1504.8v8.9M1733.8 1360.4v8.9M1758.5 1442.3v8.9M1633.5 1472.0v8.9M1751.2 1514.4v8.9M1752.3 1467.0v8.9M1604.9 1457.2v8.9M1746.7 1437.4v8.9M1776.7 1511.7v8.9M1667.0 1480.9v8.9M1723.0 1498.8v8.9M1619.7 1511.7v8.9M1752.7 1505.1v8.9M1631.2 1525.5v8.9M1710.0 1515.8v8.9M1770.8 1524.6v8.9M1715.5 1476.4v8.9M1736.6 1461.3v8.9M1766.3 1233.5v8.9M1742.6 1506.1v8.9M1708.4 1390.0v8.9M1691.3 1451.0v8.9M1641.0 1509.5v8.9M1645.7 1513.4v8.9M1621.8 1458.6v8.9M1603.1 1525.5v8.9M1710.9 1427.6v8.9M1753.9 1465.3v8.9M1747.9 1357.8v8.9M1664.9 1516.0v8.9M1692.7 1522.2v8.9M1698.7 1451.0v8.9M1733.5 1525.2v8.9M1672.1 1262.4v8.9M1688.1 1523.9v8.9M1762.3 1524.0v8.9M1754.9 1523.2v8.9M1659.9 1496.8v8.9M1622.6 1429.6v8.9M1712.1 1515.7v8.9M1635.8 1450.4v8.9M1652.9 1481.7v8.9M1768.7 1525.3v8.9M1619.3 1451.3v8.9M1707.2 1508.8v8.9M1606.3 1503.4v8.9M1658.9 1333.3v8.9M1774.9 1495.0v8.9M1693.8 1494.0v8.9M1768.1 1460.8v8.9M1664.8 1478.7v8.9M1760.5 1500.2v8.9M1608.1 1478.1v8.9M1775.2 1436.4v8.9M1603.2 1500.2v8.9M1721.2 1511.7v8.9M1770.1 1449.3v8.9M1694.4 1417.7v8.9M1624.0 1483.4v8.9M1693.2 1469.2v8.9M1680.2 1477.0v8.9M1612.8 1525.2v8.9M1728.0 1481.2v8.9M1704.4 1426.8v8.9M1720.0 1465.5v8.9M1738.4 1421.9v8.9M1678.6 1514.5v8.9M1678.5 1525.5v8.9M1614.0 1507.9v8.9M1734.4 1435.0v8.9M1677.4 1481.4v8.9M1671.5 1430.9v8.9M1661.0 1524.5v8.9M1727.2 1331.8v8.9M1676.7 1525.5v8.9M1682.6 1509.7v8.9M1761.4 1504.2v8.9M1679.2 1454.2v8.9M1721.6 1445.3v8.9M1737.7 1525.5v8.9M1684.3 1504.2v8.9M1744.6 1439.2v8.9M1623.6 1524.8v8.9M1684.9 1499.7v8.9M1658.2 1502.5v8.9M1663.7 1330.9v8.9M1683.1 1388.6v8.9M1650.1 1449.9v8.9M1758.9 1451.1v8.9M1615.5 1462.9v8.9M1701.9 1507.5v8.9M1737.6 1500.6v8.9M1672.9 1183.6v8.9M1633.8 1436.9v8.9M1665.1 1511.7v8.9M1735.2 1525.5v8.9M1695.4 1321.0v8.9M1661.9 1522.5v8.9M1626.8 1487.6v8.9M1756.2 1457.0v8.9M1684.3 1331.1v8.9M1657.5 1502.1v8.9M1727.6 1408.8v8.9M1762.4 1502.8v8.9M1648.4 1429.4v8.9M1666.1 1493.3v8.9M1676.8 1348.6v8.9M1744.5 1515.4v8.9M1685.4 1525.5v8.9M1731.4 1486.3v8.9M1777.0 1522.4v8.9M1719.9 1525.5v8.9M1728.4 1525.4v8.9M1737.1 1442.8v8.9M1630.4 1480.1v8.9M1695.3 1525.1v8.9M1707.6 1488.6v8.9M1670.5 1374.0v8.9M1628.9 1493.7v8.9M1702.5 1499.6v8.9M1762.9 1522.3v8.9M1735.7 1424.6v8.9M1730.1 1373.9v8.9M1628.7 1521.5v8.9M1716.3 1410.4v8.9M1714.6 1523.8v8.9M1692.3 1436.1v8.9M1629.4 1504.5v8.9M1690.9 1494.2v8.9M1613.4 1425.8v8.9M1646.6 1525.5v8.9M1662.9 1504.2v8.9M1719.4 1524.1v8.9M1730.6 1509.2v8.9M1622.2 1465.6v8.9M1714.5 1298.2v8.9M1685.2 1500.9v8.9M1677.3 1463.2v8.9M1738.5 1330.4v8.9M1627.1 1471.5v8.9M1767.6 1501.0v8.9M1726.1 1513.9v8.9M1684.5 1513.9v8.9M1607.8 1500.9v8.9M1705.0 1501.4v8.9M1635.4 1497.9v8.9M1654.2 1327.0v8.9M1621.1 1478.1v8.9M1686.8 1525.1v8.9M1715.8 1420.5v8.9M1626.4 1516.4v8.9M1736.7 1524.9v8.9M1662.0 1494.4v8.9M1768.4 1501.4v8.9M1758.6 1500.8v8.9M1707.7 1506.8v8.9M1627.5 1525.1v8.9M1666.9 1525.5v8.9M1643.4 1497.8v8.9M1632.5 1519.3v8.9M1608.2 1512.4v8.9M1728.3 1470.7v8.9M1670.8 1515.2v8.9M1753.3 1502.1v8.9M1767.8 1350.9v8.9M1679.8 1460.7v8.9M1732.7 1467.9v8.9M1610.8 1492.4v8.9M1676.9 1471.6v8.9M1733.2 1289.4v8.9M1615.6 1525.4v8.9M1761.8 1521.8v8.9M1641.5 1523.3v8.9M1698.3 1418.9v8.9M1613.9 1517.0v8.9M1706.3 1489.8v8.9M1683.8 1499.3v8.9M1689.0 1507.8v8.9M1675.8 1525.5v8.9M1703.7 1495.5v8.9M1618.9 1525.5v8.9M1776.2 1524.8v8.9M1739.4 1485.5v8.9M1620.9 1468.7v8.9M1676.4 1518.4v8.9M1721.8 1292.9v8.9M1604.5 1447.0v8.9M1761.3 1510.8v8.9M1661.7 1426.8v8.9M1634.6 1525.2v8.9M1702.3 1485.4v8.9M1711.6 1505.5v8.9M1663.1 1521.2v8.9M1766.6 1503.2v8.9M1751.5 1525.5v8.9M1701.1 1497.1v8.9M1659.8 1494.4v8.9M1609.6 1446.9v8.9M1716.4 1523.7v8.9M1642.5 1436.9v8.9M1622.8 1435.7v8.9M1716.2 1510.8v8.9M1754.3 1524.6v8.9M1675.0 1496.6v8.9M1665.6 1438.9v8.9M1701.7 1484.5v8.9M1652.8 1392.9v8.9M1636.4 1454.0v8.9M1729.3 1449.2v8.9M1679.5 1506.5v8.9M1632.7 1515.4v8.9M1695.7 1525.3v8.9M1697.5 1457.4v8.9M1628.2 1502.0v8.9M1690.7 1433.3v8.9M1766.5 1507.0v8.9M1757.7 1524.0v8.9M1609.0 1440.9v8.9M1654.4 1521.0v8.9M1689.4 1525.2v8.9M1672.4 1483.0v8.9M1754.4 1512.5v8.9M1731.8 1523.5v8.9M1707.3 1525.5v8.9M1677.8 1509.1v8.9M1680.7 1490.0v8.9M1755.8 1517.9v8.9M1746.2 1409.3v8.9M1758.4 1458.0v8.9M1772.2 1525.2v8.9M1633.6 1525.5v8.9M1674.5 1522.5v8.9M1724.4 1525.5v8.9M1629.9 1458.5v8.9M1618.7 1503.4v8.9M1639.8 1346.2v8.9M1717.2 1524.9v8.9M1771.4 1497.1v8.9M1698.5 1427.6v8.9M1674.9 1515.0v8.9M1754.0 1525.5v8.9M1709.7 1475.8v8.9M1683.6 1497.0v8.9M1669.6 1520.7v8.9M1735.3 1471.7v8.9M1683.0 1456.3v8.9M1630.7 1525.5v8.9M1661.3 1493.9v8.9M1607.0 1518.2v8.9M1706.5 1517.4v8.9M1615.0 1419.9v8.9M1607.7 1525.5v8.9M1609.7 1523.7v8.9M1702.7 1487.8v8.9M1747.4 1500.1v8.9M1775.8 1204.6v8.9M1776.0 1524.7v8.9M1709.3 1517.1v8.9M1697.1 1492.6v8.9M1614.4 1427.9v8.9M1718.2 1432.1v8.9M1637.3 1467.4v8.9M1704.0 1509.2v8.9M1631.9 1450.7v8.9M1680.4 1522.0v8.9M1728.7 1373.0v8.9M1653.2 1525.5v8.9M1645.3 1436.3v8.9M1773.3 1416.6v8.9M1681.6 1525.4v8.9M1768.8 1452.2v8.9M1707.4 1523.4v8.9M1638.2 1345.8v8.9M1770.4 1497.1v8.9M1719.6 1524.9v8.9M1642.0 1449.2v8.9M1636.7 1525.4v8.9M1659.5 1522.5v8.9M1630.8 1506.7v8.9M1615.4 1525.4v8.9M1759.9 1416.4v8.9M1763.2 1494.9v8.9M1648.0 1499.9v8.9M1774.4 1277.1v8.9M1711.2 1525.5v8.9M1616.2 1504.1v8.9M1766.2 1518.6v8.9M1603.3 1525.5v8.9M1727.5 1477.0v8.9M1608.6 1473.5v8.9M1603.6 1379.5v8.9M1636.8 1425.3v8.9M1729.0 1465.6v8.9M1667.4 1519.4v8.9M1636.0 1521.6v8.9M1657.2 1502.1v8.9M1746.5 1421.9v8.9M1621.5 1524.4v8.9M1716.6 1490.5v8.9M1725.5 1525.4v8.9M1694.7 1471.6v8.9M1734.6 1467.9v8.9M1731.9 1216.3v8.9M1728.9 1525.5v8.9M1756.8 1470.9v8.9M1719.8 1500.3v8.9M1684.2 1524.0v8.9M1672.8 1309.1v8.9M1657.0 1460.1v8.9M1736.5 1501.7v8.9M1665.0 1507.8v8.9M1750.9 1512.6v8.9M1675.6 1523.1v8.9M1617.3 1272.8v8.9M1671.2 1497.2v8.9M1606.1 1522.7v8.9M1699.4 1461.0v8.9M1726.2 1492.5v8.9M1751.9 1260.5v8.9M1624.7 1506.3v8.9M1617.7 1458.1v8.9M1762.7 1484.9v8.9M1775.3 1434.2v8.9M1655.1 1374.1v8.9M1741.8 1513.8v8.9M1636.1 1525.2v8.9M1682.7 1466.6v8.9M1651.8 1315.6v8.9M1634.7 1500.2v8.9M1653.0 1509.9v8.9M1729.2 1507.5v8.9M1637.2 1507.4v8.9M1687.4 1525.5v8.9M1717.8 1474.8v8.9M1619.9 1524.8v8.9M1645.0 1523.2v8.9M1689.2 1497.3v8.9M1710.7 1521.1v8.9M1627.6 1487.2v8.9M1660.1 1520.0v8.9M1681.4 1497.5v8.9M1613.8 1363.8v8.9M1742.3 1505.0v8.9M1628.3 1521.6v8.9M1655.7 1525.4v8.9M1627.8 1503.5v8.9M1665.7 1501.4v8.9M1622.9 1515.4v8.9M1686.2 1381.5v8.9M1670.9 1523.1v8.9M1629.2 1487.7v8.9M1639.5 1517.7v8.9M1755.6 1498.5v8.9M1723.3 1497.8v8.9M1744.4 1515.6v8.9M1734.8 1507.8v8.9M1773.4 1523.8v8.9M1648.5 1498.4v8.9M1642.9 1484.3v8.9M1649.8 1524.0v8.9M1647.7 1525.3v8.9M1642.1 1502.3v8.9M1759.7 1419.7v8.9M1622.4 1523.7v8.9M1737.3 1452.4v8.9M1742.9 1498.6v8.9M1628.4 1524.0v8.9M1610.1 1525.5v8.9M1663.9 1525.0v8.9M1733.3 1402.5v8.9M1666.5 1520.5v8.9M1716.2 1485.2v8.9M1633.2 1434.7v8.9M1770.0 1521.0v8.9M1670.2 1502.6v8.9M1760.3 1456.3v8.9M1656.1 1454.3v8.9M1665.8 1525.5v8.9M1751.3 1517.2v8.9M1631.8 1408.1v8.9M1669.5 1522.1v8.9M1734.1 1482.1v8.9M1654.5 1511.0v8.9M1696.2 1472.8v8.9M1603.9 1523.5v8.9M1748.5 1440.4v8.9M1692.8 1511.9v8.9M1603.4 1441.6v8.9M1724.5 1488.2v8.9M1649.3 1432.3v8.9M1687.7 1520.5v8.9M1661.6 1470.8v8.9M1745.4 1525.5v8.9M1651.4 1352.1v8.9M1774.1 1498.6v8.9M1743.3 1425.5v8.9M1738.2 1525.5v8.9M1653.6 1501.2v8.9M1689.5 1472.3v8.9M1656.4 1510.6v8.9M1738.7 1449.6v8.9M1738.9 1498.7v8.9M1603.7 1525.3v8.9M1726.4 1453.5v8.9M1764.1 1487.5v8.9M1752.9 1525.3v8.9M1716.1 1475.2v8.9M1604.7 1432.7v8.9M1736.8 1376.5v8.9M1710.2 1523.4v8.9M1738.8 1524.5v8.9M1629.1 1521.5v8.9M1729.9 1472.9v8.9M1678.3 1525.5v8.9M1637.9 1448.8v8.9M1713.9 1525.2v8.9M1730.0 1498.8v8.9M1674.3 1491.9v8.9M1611.8 1521.4v8.9M1669.4 1399.9v8.9M1678.7 1525.3v8.9M1609.8 1521.0v8.9M1772.0 1500.0v8.9M1749.1 1466.2v8.9M1750.3 1517.9v8.9M1746.4 1183.6v8.9M1624.9 1507.3v8.9M1661.2 1423.7v8.9M1721.4 1522.1v8.9M1769.5 1363.3v8.9M1705.8 1523.0v8.9M1757.1 1524.8v8.9M1672.2 1488.9v8.9M1683.4 1478.5v8.9M1770.3 1525.4v8.9M1694.6 1491.0v8.9M1652.1 1518.8v8.9M1720.1 1486.0v8.9M1698.0 1509.1v8.9M1665.5 1520.8v8.9M1651.9 1507.9v8.9M1706.6 1498.7v8.9M1774.0 1499.2v8.9M1722.9 1525.2v8.9M1674.6 1423.8v8.9M1771.6 1500.5v8.9M1698.1 1508.4v8.9M1611.5 1495.4v8.9M1708.6 1470.4v8.9M1638.5 1479.2v8.9M1774.7 1509.0v8.9M1707.5 1500.5v8.9M1603.8 1525.3v8.9M1663.4 1439.9v8.9M1688.0 1430.5v8.9M1619.1 1392.0v8.9M1608.7 1382.1v8.9M1606.5 1504.9v8.9M1752.8 1487.9v8.9M1684.0 1497.5v8.9M1693.3 1523.8v8.9M1775.1 1524.3v8.9M1736.3 1197.2v8.9M1639.4 1504.4v8.9M1634.1 1474.4v8.9M1604.2 1525.1v8.9M1773.8 1461.6v8.9M1741.7 1512.0v8.9M1619.8 1522.9v8.9M1710.4 1519.8v8.9M1677.6 1525.5v8.9M1680.9 1522.6v8.9M1650.0 1354.5v8.9M1629.2 1523.8v8.9M1708.7 1524.3v8.9M1754.8 1499.3v8.9M1630.6 1525.5v8.9M1768.6 1524.7v8.9M1762.2 1434.1v8.9M1658.5 1525.5v8.9M1667.3 1439.5v8.9M1687.1 1362.1v8.9M1631.1 1420.2v8.9M1686.0 1525.5v8.9M1741.6 1459.4v8.9M1764.9 1524.1v8.9M1695.8 1524.6v8.9M1723.7 1431.7v8.9M1701.0 1525.5v8.9M1688.3 1497.3v8.9M1673.6 1499.5v8.9M1760.9 1521.5v8.9M1742.2 1520.3v8.9M1663.2 1485.8v8.9M1621.0 1501.6v8.9M1692.9 1496.8v8.9M1657.6 1460.5v8.9M1633.7 1496.3v8.9M1713.7 1512.3v8.9M1691.9 1517.5v8.9M1706.9 1416.6v8.9M1662.4 1513.4v8.9M1763.7 1467.3v8.9M1654.6 1439.6v8.9M1719.5 1497.5v8.9M1707.1 1482.6v8.9M1767.1 1461.7v8.9M1626.2 1500.8v8.9M1749.3 1495.3v8.9M1776.9 1468.1v8.9M1741.9 1522.8v8.9M1749.4 1517.2v8.9M1728.5 1513.1v8.9M1635.1 1350.7v8.9M1739.4 1495.8v8.9M1630.0 1494.3v8.9M1690.2 1418.8v8.9M1698.8 1522.6v8.9M1765.1 1497.5v8.9M1705.1 1420.2v8.9M1618.2 1422.1v8.9M1759.3 1374.2v8.9M1623.4 1419.7v8.9M1672.3 1358.2v8.9M1609.4 1497.9v8.9M1671.0 1484.0v8.9M1619.5 1368.0v8.9M1631.7 1449.5v8.9M1657.1 1389.1v8.9M1725.7 1525.5v8.9M1637.6 1519.6v8.9M1772.7 1525.4v8.9M1741.4 1488.3v8.9M1723.4 1498.5v8.9M1668.7 1464.9v8.9M1638.9 1493.2v8.9M1748.1 1455.3v8.9M1646.2 1520.9v8.9M1650.9 1519.1v8.9M1742.0 1434.6v8.9M1642.6 1500.8v8.9M1773.9 1525.5v8.9M1760.0 1513.6v8.9M1641.9 1479.6v8.9M1652.4 1447.7v8.9M1633.0 1487.3v8.9M1644.1 1497.4v8.9M1755.7 1492.4v8.9M1627.0 1500.7v8.9M1704.7 1507.1v8.9M1720.3 1515.3v8.9M1636.3 1519.7v8.9M1732.1 1520.6v8.9M1739.3 1499.2v8.9M1754.6 1515.6v8.9M1714.3 1453.2v8.9M1771.2 1425.4v8.9M1740.4 1524.9v8.9M1649.4 1453.2v8.9M1703.1 1514.3v8.9M1731.3 1500.8v8.9M1662.6 1505.5v8.9M1671.7 1491.8v8.9M1674.0 1440.3v8.9M1747.1 1522.9v8.9M1721.0 1273.0v8.9M1663.5 1489.3v8.9M1675.7 1501.4v8.9M1749.5 1500.6v8.9M1638.0 1421.0v8.9M1742.3 1524.1v8.9M1697.2 1424.0v8.9M1612.3 1456.4v8.9M1665.2 1519.1v8.9M1646.9 1408.1v8.9M1685.8 1503.3v8.9M1764.0 1524.5v8.9M1679.9 1397.8v8.9M1700.4 1517.4v8.9M1727.3 1525.5v8.9M1769.4 1421.9v8.9M1770.5 1510.4v8.9M1644.3 1453.3v8.9M1676.5 1289.0v8.9M1614.1 1492.8v8.9M1734.5 1524.2v8.9M1638.7 1505.0v8.9M1713.3 1495.3v8.9M1605.7 1510.9v8.9M1732.9 1512.0v8.9M1643.7 1473.0v8.9M1670.1 1525.5v8.9M1693.1 1520.6v8.9M1683.7 1491.4v8.9M1749.0 1480.8v8.9M1625.4 1447.3v8.9M1661.5 1524.3v8.9M1765.3 1502.0v8.9M1770.2 1518.0v8.9M1725.1 1185.0v8.9M1655.5 1487.4v8.9M1612.7 1497.3v8.9M1731.5 1461.6v8.9M1649.1 1525.5v8.9M1709.4 1416.7v8.9M1770.7 1506.4v8.9M1687.3 1504.7v8.9M1681.2 1522.9v8.9M1772.9 1458.2v8.9M1656.5 1188.3v8.9M1745.8 1511.4v8.9M1743.1 1486.5v8.9M1632.0 1265.3v8.9M1642.2 1522.2v8.9M1648.1 1421.7v8.9M1701.8 1520.6v8.9M1664.6 1467.9v8.9M1651.2 1309.9v8.9M1713.3 1524.7v8.9M1725.3 1523.8v8.9M1655.6 1428.2v8.9M1776.3 1461.5v8.9M1722.0 1462.0v8.9M1705.4 1524.4v8.9M1609.2 1525.3v8.9M1691.8 1438.2v8.9M1709.1 1470.3v8.9M1626.7 1500.5v8.9M1760.1 1467.0v8.9M1693.0 1502.6v8.9M1680.8 1421.4v8.9M1753.9 1525.3v8.9M1639.6 1445.5v8.9M1642.4 1522.4v8.9M1760.6 1505.7v8.9M1725.8 1515.2v8.9M1649.5 1497.5v8.9M1700.9 1510.6v8.9M1691.1 1525.5v8.9M1759.0 1524.9v8.9M1734.7 1506.3v8.9M1681.7 1470.4v8.9M1752.1 1462.6v8.9M1700.7 1523.2v8.9M1726.8 1505.4v8.9M1771.7 1525.5v8.9M1620.3 1458.1v8.9M1765.4 1525.3v8.9M1672.6 1525.5v8.9M1681.5 1524.8v8.9M1624.8 1422.7v8.9M1721.1 1425.8v8.9M1660.6 1467.3v8.9M1661.1 1497.9v8.9M1762.6 1493.1v8.9M1713.1 1523.7v8.9M1691.5 1479.5v8.9M1624.5 1511.6v8.9M1737.0 1524.0v8.9M1696.6 1525.2v8.9M1624.3 1525.5v8.9M1607.3 1490.0v8.9M1651.5 1504.7v8.9M1681.3 1508.6v8.9M1771.1 1325.0v8.9M1604.4 1509.8v8.9M1620.5 1525.5v8.9M1774.3 1388.2v8.9M1738.6 1524.8v8.9M1668.4 1520.3v8.9M1735.4 1438.5v8.9M1686.7 1450.8v8.9M1700.3 1502.3v8.9M1741.5 1478.3v8.9M1625.1 1426.0v8.9M1619.4 1524.9v8.9M1605.3 1524.8v8.9M1641.6 1512.5v8.9M1710.6 1380.1v8.9M1699.1 1515.4v8.9M1659.0 1486.9v8.9M1723.1 1525.3v8.9M1675.9 1398.4v8.9M1616.4 1463.1v8.9M1606.4 1501.1v8.9M1656.6 1516.1v8.9M1757.6 1503.3v8.9M1692.0 1496.6v8.9M1711.9 1462.2v8.9M1608.5 1517.8v8.9M1769.0 1525.2v8.9M1640.6 1524.7v8.9M1733.7 1287.3v8.9M1668.2 1504.3v8.9M1679.6 1389.9v8.9M1745.9 1465.6v8.9M1723.9 1512.5v8.9M1717.7 1509.7v8.9M1637.5 1520.8v8.9M1660.5 1438.0v8.9M1747.3 1459.9v8.9M1641.3 1498.4v8.9M1607.4 1524.7v8.9M1721.9 1511.4v8.9M1653.1 1522.4v8.9M1671.6 1507.5v8.9M1769.6 1502.2v8.9M1606.8 1505.1v8.9M1736.2 1506.2v8.9M1730.5 1436.9v8.9M1741.1 1522.5v8.9M1634.8 1510.2v8.9M1649.9 1487.6v8.9M1654.0 1522.7v8.9M1614.3 1525.2v8.9M1638.6 1419.8v8.9M1652.3 1524.3v8.9M1720.7 1222.3v8.9M1673.2 1521.6v8.9M1611.3 1491.5v8.9M1737.8 1520.5v8.9M1606.2 1518.9v8.9M1751.0 1475.9v8.9M1665.9 1188.4v8.9M1704.6 1290.5v8.9M1626.1 1524.1v8.9M1607.9 1478.8v8.9M1682.5 1509.2v8.9M1622.3 1522.4v8.9M1633.3 1439.2v8.9M1768.4 1483.7v8.9M1735.9 1434.2v8.9M1710.3 1520.5v8.9M1727.9 1510.5v8.9M1690.4 1521.1v8.9M1684.1 1473.5v8.9M1744.9 1503.4v8.9M1654.9 1502.3v8.9M1744.0 1523.1v8.9M1694.0 1524.6v8.9M1611.0 1497.4v8.9M1608.8 1511.8v8.9M1635.3 1525.5v8.9M1735.0 1503.6v8.9M1658.1 1525.3v8.9M1618.5 1436.6v8.9M1749.9 1511.0v8.9M1685.6 1501.9v8.9M1712.2 1340.4v8.9M1610.5 1491.9v8.9M1685.3 1513.7v8.9M1607.2 1525.5v8.9M1750.8 1519.5v8.9M1667.6 1524.4v8.9M1660.2 1501.0v8.9M1685.0 1507.6v8.9M1632.2 1525.5v8.9M1679.0 1483.9v8.9M1689.9 1502.0v8.9M1754.1 1338.7v8.9M1660.0 1467.0v8.9M1757.0 1462.7v8.9M1753.2 1523.8v8.9M1630.9 1484.8v8.9M1713.6 1435.8v8.9M1623.2 1429.7v8.9M1746.8 1510.7v8.9M1720.6 1451.5v8.9M1657.4 1525.4v8.9M1669.2 1501.4v8.9M1617.6 1510.6v8.9M1773.1 1525.5v8.9M1645.2 1475.8v8.9M1706.8 1524.3v8.9M1646.3 1354.5v8.9M1634.2 1471.3v8.9M1719.1 1518.5v8.9M1629.7 1525.3v8.9M1701.5 1515.7v8.9M1722.7 1421.7v8.9M1689.6 1521.8v8.9M1694.1 1433.6v8.9M1622.1 1453.1v8.9M1615.9 1525.1v8.9M1687.8 1524.1v8.9M1736.9 1490.3v8.9M1750.5 1482.3v8.9M1686.1 1471.1v8.9M1748.6 1503.0v8.9M1748.1 1455.2v8.9M1768.9 1496.6v8.9M1640.2 1503.0v8.9M1626.6 1432.8v8.9M1715.9 1440.1v8.9M1690.6 1519.8v8.9M1671.1 1375.8v8.9M1739.1 1429.9v8.9M1615.8 1500.2v8.9M1688.5 1524.9v8.9M1748.2 1525.1v8.9M1742.7 1323.9v8.9M1756.6 1494.9v8.9M1717.3 1501.8v8.9M1639.9 1467.1v8.9M1633.9 1443.8v8.9M1757.2 1485.1v8.9M1727.4 1511.7v8.9M1749.8 1522.9v8.9M1730.3 1503.2v8.9M1679.7 1497.1v8.9M1765.8 1317.9v8.9M1726.9 1496.8v8.9M1740.6 1521.0v8.9M1764.4 1525.5v8.9M1614.7 1525.1v8.9M1640.1 1513.7v8.9M1695.5 1498.7v8.9M1650.2 1502.5v8.9M1765.5 1484.9v8.9M1687.2 1411.2v8.9M1612.1 1441.8v8.9M1714.1 1524.3v8.9M1646.7 1434.4v8.9M1656.9 1523.0v8.9M1668.1 1464.4v8.9M1717.5 1440.6v8.9M1663.3 1524.1v8.9M1688.9 1223.8v8.9M1645.5 1437.3v8.9M1750.7 1502.2v8.9M1752.4 1505.7v8.9M1610.3 1523.3v8.9M1683.3 1487.0v8.9M1611.4 1521.6v8.9M1628.0 1522.7v8.9M1677.9 1525.5v8.9M1660.4 1468.2v8.9M1728.2 1185.7v8.9M1713.5 1522.6v8.9M1775.5 1507.3v8.9M1724.7 1525.4v8.9M1649.0 1456.7v8.9M1700.2 1524.4v8.9M1685.7 1514.2v8.9M1627.4 1509.6v8.9M1763.1 1507.5v8.9M1699.7 1319.3v8.9M1686.4 1469.4v8.9M1693.0 1510.0v8.9M1732.0 1525.5v8.9M1636.9 1436.8v8.9M1677.7 1525.5v8.9M1763.0 1480.3v8.9M1690.8 1501.7v8.9M1621.2 1503.6v8.9M1663.8 1521.1v8.9M1621.3 1518.8v8.9M1637.7 1523.7v8.9M1732.2 1510.4v8.9M1650.8 1515.5v8.9M1614.2 1508.8v8.9M1632.3 1505.2v8.9M1611.6 1488.8v8.9M1706.7 1525.5v8.9M1702.8 1514.9v8.9M1759.2 1525.3v8.9M1710.8 1435.9v8.9M1664.0 1470.0v8.9M1712.8 1498.9v8.9M1638.1 1511.6v8.9M1658.2 1522.6v8.9M1712.5 1520.3v8.9M1721.5 1473.9v8.9M1647.4 1504.6v8.9M1660.9 1494.4v8.9M1668.5 1457.7v8.9M1727.8 1501.6v8.9M1747.0 1525.3v8.9M1658.7 1497.5v8.9M1745.5 1525.0v8.9M1751.8 1482.0v8.9M1769.9 1340.3v8.9M1688.8 1419.3v8.9M1733.4 1499.6v8.9M1737.5 1524.3v8.9M1675.3 1494.1v8.9M1671.8 1496.9v8.9M1771.8 1508.3v8.9M1671.9 1481.3v8.9M1641.4 1511.7v8.9M1717.6 1200.6v8.9M1763.5 1427.0v8.9M1640.8 1498.2v8.9M1615.2 1481.1v8.9M1658.6 1284.2v8.9M1682.8 1521.4v8.9M1667.8 1523.2v8.9M1685.9 1515.4v8.9M1772.6 1525.5v8.9M1761.1 1463.4v8.9M1624.6 1523.0v8.9M1686.6 1452.9v8.9M1702.6 1513.5v8.9M1654.7 1452.0v8.9M1706.0 1318.4v8.9M1612.0 1438.2v8.9M1630.3 1354.8v8.9M1683.9 1508.5v8.9M1614.7 1523.8v8.9M1727.7 1520.2v8.9M1688.6 1500.1v8.9M1683.5 1477.5v8.9M1620.0 1505.8v8.9M1703.4 1500.9v8.9M1714.2 1455.2v8.9M1643.8 1497.0v8.9M1752.6 1519.9v8.9M1697.9 1525.5v8.9M1765.9 1480.9v8.9M1722.0 1491.9v8.9M1770.6 1498.0v8.9M1644.8 1509.7v8.9M1708.3 1517.9v8.9M1675.5 1462.6v8.9M1747.5 1525.5v8.9M1674.1 1477.4v8.9M1637.8 1421.3v8.9M1742.5 1467.7v8.9M1741.0 1495.2v8.9M1694.8 1429.7v8.9M1709.6 1288.0v8.9M1711.8 1516.5v8.9M1720.5 1501.0v8.9M1708.1 1441.6v8.9M1712.7 1379.7v8.9M1642.7 1525.5v8.9M1698.4 1523.2v8.9M1667.5 1516.4v8.9M1751.6 1525.2v8.9M1765.7 1523.5v8.9M1740.2 1525.5v8.9M1736.1 1503.7v8.9M1640.3 1524.6v8.9M1729.6 1504.5v8.9M1629.8 1520.8v8.9M1711.1 1525.4v8.9M1735.5 1524.9v8.9M1634.3 1523.6v8.9M1705.7 1496.7v8.9M1704.8 1523.2v8.9M1666.2 1504.5v8.9M1772.4 1504.6v8.9M1719.3 1507.9v8.9M1641.7 1429.7v8.9M1605.9 1428.5v8.9M1744.1 1523.4v8.9M1736.0 1499.4v8.9M1712.0 1516.1v8.9M1640.4 1466.2v8.9M1747.6 1429.8v8.9M1739.0 1506.8v8.9M1712.6 1521.7v8.9M1604.8 1522.9v8.9M1644.9 1520.3v8.9M1722.4 1524.8v8.9M1732.6 1522.4v8.9M1707.5 1433.5v8.9M1773.5 1525.5v8.9M1664.5 1417.2v8.9M1687.2 1525.2v8.9M1680.1 1505.4v8.9M1645.4 1367.6v8.9M1616.7 1365.7v8.9M1651.6 1520.4v8.9M1738.3 1450.8v8.9M1657.8 1520.0v8.9M1675.2 1300.1v8.9M1651.1 1525.4v8.9M1724.2 1525.5v8.9M1627.3 1446.4v8.9M1702.4 1449.8v8.9M1722.5 1525.5v8.9M1617.8 1502.7v8.9M1660.7 1429.2v8.9M1725.4 1355.9v8.9M1622.7 1525.5v8.9M1623.7 1499.7v8.9M1643.3 1520.1v8.9M1704.9 1514.8v8.9M1657.9 1501.0v8.9M1670.3 1518.5v8.9M1607.6 1498.5v8.9M1670.6 1423.1v8.9M1615.1 1525.0v8.9M1716.0 1314.4v8.9M1654.3 1525.2v8.9M1756.0 1501.2v8.9M1615.3 1421.2v8.9M1776.4 1525.0v8.9M1632.1 1483.8v8.9M1617.5 1505.0v8.9M1728.8 1438.9v8.9M1613.6 1369.3v8.9M1616.9 1326.7v8.9M1692.1 1266.9v8.9M1704.2 1217.0v8.9M1726.5 1396.5v8.9M1689.3 1276.8v8.9M1760.4 1361.6v8.9M1771.9 1190.4v8.9M1775.7 1309.3v8.9M1713.0 1218.7v8.9M1674.7 1230.6v8.9M1762.5 1253.6v8.9M1684.4 1323.7v8.9M1605.4 1305.1v8.9M1653.5 1294.3v8.9M1647.2 1355.8v8.9M1724.8 1264.4v8.9M1661.4 1315.9v8.9M1762.1 1216.2v8.9M1716.9 1272.7v8.9M1775.4 1218.7v8.9M1690.0 1275.2v8.9M1659.1 1241.9v8.9M1776.1 1408.1v8.9M1731.1 1183.8v8.9M1634.5 1275.2v8.9M1676.2 1286.0v8.9M1769.8 1286.0v8.9M1744.8 1281.8v8.9M1731.7 1178.8v8.9M1610.9 1248.6v8.9M1678.8 1356.6v8.9M1672.7 1280.2v8.9M1607.5 1211.2v8.9M1712.4 1328.4v8.9M1679.1 1170.5v8.9M1762.6 1181.3v8.9M1722.6 1359.9v8.9M1695.2 1223.7v8.9M1704.3 1195.4v8.9M1715.6 1248.6v8.9M1625.9 1359.1v8.9M1661.1 1194.2v8.9M1664.4 1385.7v8.9M1628.6 1299.3v8.9M1696.3 1331.7v8.9M1617.6 1245.3v8.9M1639.3 1373.2v8.9M1718.7 1246.9v8.9M1706.4 1409.8v8.9M1644.2 1191.8v8.9M1698.6 1270.2v8.9M1687.9 1198.7v8.9M1612.6 1409.8v8.9M1764.3 1399.8v8.9M1724.3 1237.8v8.9M1699.3 1175.5v8.9M1748.8 1355.8v8.9M1620.1 1307.6v8.9M1745.3 1330.0v8.9M1663.6 1270.2v8.9M1656.0 1394.8v8.9M1614.8 1396.5v8.9M1766.1 1268.5v8.9M1656.8 1246.1v8.9M1761.0 1355.8v8.9M1678.2 1213.7v8.9M1675.1 1315.1v8.9M1766.8 1325.0v8.9M1661.8 1339.2v8.9M1634.4 1366.6v8.9M1728.6 1275.2v8.9M1648.3 1222.8v8.9M1763.9 1267.7v8.9M1664.0 1239.5v8.9M1686.3 1339.7v8.9M1759.8 1342.5v8.9M1714.7 1401.5v8.9M1772.8 1231.1v8.9M1647.0 1262.7v8.9M1771.3 1378.2v8.9M1758.0 1250.3v8.9M1667.7 1378.2v8.9M1772.3 1384.9v8.9M1757.4 1386.5v8.9M1631.5 1300.1v8.9M1769.1 1212.9v8.9M1637.4 1173.8v8.9M1666.7 1379.9v8.9M1619.2 1384.9v8.9M1700.5 1345.0v8.9M1674.4 1232.0v8.9M1739.5 1201.2v8.9M1710.5 1191.8v8.9M1718.3 1222.8v8.9M1618.0 1378.2v8.9M1724.9 1394.0v8.9M1631.3 1366.6v8.9M1743.5 1167.2v8.9M1612.2 1345.0v8.9M1726.0 1261.9v8.9M1763.6 1320.1v8.9M1668.8 1374.9v8.9M1639.1 1370.7v8.9M1668.0 1386.5v8.9M1717.1 1325.9v8.9M1723.5 1346.6v8.9M1767.0 1349.1v8.9M1690.3 1328.4v8.9M1713.4 1401.5v8.9M1774.8 1292.6v8.9M1768.5 1235.3v8.9M1604.6 1316.7v8.9M1674.2 1235.3v8.9M1718.0 1243.6v8.9M1639.2 1394.8v8.9M1631.6 1186.3v8.9M1670.7 1300.9v8.9M1684.6 1311.7v8.9M1738.1 1399.2v8.9M1656.3 1402.0v8.9M1775.0 1397.4v8.9M1641.2 1401.1v8.9M1770.9 1398.3v8.9M1711.0 1399.7v8.9M1743.4 1402.9v8.9M1744.3 1407.6v8.9M1671.4 1414.0v8.9M1611.8 1412.2v8.9M1775.9 1414.0v8.9M1722.2 1418.6v8.9M1753.5 1419.6v8.9M1706.1 1422.3v8.9M1692.6 1426.9v8.9M1678.9 1424.2v8.9M1761.6 1425.1v8.9M1768.2 1430.6v8.9M1766.0 1437.1v8.9M1725.9 1431.6v8.9M1623.3 1441.7v8.9M1721.3 1438.0v8.9M1737.9 1445.4v8.9M1677.0 1437.1v8.9M1609.1 1444.5v8.9M1680.6 1449.1v8.9M1620.4 1458.3v8.9M1732.8 1459.3v8.9M1652.5 1458.3v8.9M1767.9 1451.0v8.9M1697.3 1462.0v8.9M1711.4 1466.6v8.9M1754.5 1469.4v8.9M1606.9 1467.6v8.9M1726.6 1469.4v8.9M1745.6 1465.7v8.9M1642.3 1472.2v8.9M1673.1 1483.3v8.9M1737.2 1485.1v8.9M1603.5 1478.7v8.9M1681.0 1482.3v8.9M1699.6 1478.7v8.9M1613.7 1486.0v8.9M1695.0 1485.1v8.9M1731.6 1486.0v8.9M1764.8 1490.7v8.9M1764.6 1480.5v8.9M1740.7 1493.4v8.9M1774.5 1506.4v8.9M1758.7 1504.5v8.9M1768.3 1506.4v8.9M1712.9 1509.1v8.9M1759.5 1497.1v8.9M1743.8 1499.0v8.9M1716.5 1504.5v8.9M1731.0 1514.7v8.9M1729.8 1524.8v8.9M1663.0 1524.8v8.9M1609.3 1525.7v8.9M1751.0 1526.7v8.9M1759.7 1521.1v8.9M1646.1 1524.8v8.9M1626.3 1524.8v8.9M1623.5 1524.8v8.9M1719.0 1524.8v8.9M1753.0 1524.8v8.9M1620.7 1525.7v8.9M1648.6 1524.8v8.9M1675.4 1525.3v8.9M1678.0 1523.0v8.9" stroke="#111" stroke-width="0.09" fill="none"/>
<path d="M1604.8 1519.7L1603.0 1530.0M1604.8 1520.2L1607.8 1528.2M1622.9 1501.6L1621.9 1530.0M1622.9 1502.1L1624.0 1518.5M1618.6 1521.1L1616.4 1530.0M1618.6 1522.6L1620.8 1524.7M1605.7 1518.0L1604.5 1530.0M1605.7 1520.2L1606.9 1523.1M1632.0 1520.4L1629.6 1530.0M1632.0 1521.9L1634.3 1524.4M1629.5 1496.2L1627.8 1530.0M1629.5 1497.9L1631.1 1519.3M1617.6 1499.1L1616.4 1530.0M1617.6 1500.8L1618.9 1511.7M1618.4 1502.8L1615.5 1530.0M1618.4 1506.1L1621.3 1518.0M1617.7 1486.7L1616.2 1530.0M1617.7 1489.1L1619.2 1529.6M1610.9 1518.2L1609.1 1530.0M1610.9 1521.2L1612.8 1529.9M1635.5 1521.1L1632.2 1530.0M1635.5 1524.9L1638.9 1526.7M1634.3 1439.1L1632.1 1530.0M1634.3 1442.6L1636.4 1528.1M1632.1 1492.7L1629.2 1530.0M1632.1 1493.3L1635.1 1528.1M1622.8 1496.0L1620.1 1530.0M1622.8 1496.7L1625.6 1518.4M1638.9 1515.2L1635.8 1530.0M1638.9 1519.1L1641.0 1524.0M1619.9 1507.7L1617.7 1530.0M1619.9 1508.2L1622.0 1529.0M1614.1 1518.3L1610.8 1530.0M1614.1 1519.7L1617.3 1523.8M1624.3 1455.5L1621.0 1530.0M1624.3 1458.4L1627.5 1510.0M1612.8 1499.1L1611.0 1530.0M1612.8 1502.4L1614.6 1529.2M1626.9 1511.6L1624.9 1530.0M1626.9 1513.7L1629.0 1519.1M1639.8 1510.7L1636.4 1530.0M1639.8 1514.6L1641.0 1523.9M1624.3 1517.4L1621.3 1530.0M1624.3 1519.3L1627.3 1524.2M1637.2 1494.7L1634.4 1530.0M1637.2 1496.9L1639.9 1527.2M1620.5 1522.1L1619.1 1530.0M1620.5 1526.0L1622.0 1528.2M1608.9 1506.9L1607.7 1530.0M1608.9 1509.3L1610.0 1526.8M1611.8 1493.6L1608.5 1530.0M1611.8 1493.7L1615.1 1514.4M1625.0 1504.0L1622.9 1530.0M1625.0 1504.0L1627.0 1524.5M1622.8 1511.7L1619.4 1530.0M1622.8 1513.1L1626.3 1520.7" stroke="#1a1a1a" stroke-opacity="0.14" stroke-width=".7" stroke-dasharray="7 4" fill="none"/>
<path d="M1770.3 1463.9L1768.1 1530.0M1770.3 1465.9L1772.5 1496.5M1749.5 1514.3L1748.5 1530.0M1749.5 1516.3L1750.6 1525.7M1774.7 1422.5L1772.7 1530.0M1774.7 1424.5L1776.7 1523.2M1768.6 1496.2L1767.2 1530.0M1768.6 1499.7L1770.0 1529.1M1751.8 1499.4L1748.3 1530.0M1751.8 1499.9L1755.3 1525.1M1769.7 1508.4L1766.4 1530.0M1769.7 1508.5L1773.1 1526.9M1755.3 1452.4L1754.0 1530.0M1755.3 1455.1L1756.5 1488.7M1775.2 1461.7L1774.1 1530.0M1775.2 1463.6L1776.4 1521.1M1749.7 1513.4L1746.8 1530.0M1749.7 1515.7L1752.5 1528.7M1754.6 1521.4L1751.3 1530.0M1754.6 1524.4L1757.9 1527.6M1774.8 1378.9L1773.3 1530.0M1774.8 1379.9L1776.4 1512.7M1764.8 1489.7L1762.5 1530.0M1764.8 1492.8L1767.1 1517.2M1755.4 1482.0L1752.1 1530.0M1755.4 1482.2L1758.8 1516.0M1750.2 1471.8L1748.1 1530.0M1750.2 1475.1L1752.3 1506.6M1774.8 1491.1L1772.3 1530.0M1774.8 1495.0L1777.0 1511.2M1756.1 1519.8L1752.8 1530.0M1756.1 1520.1L1759.4 1524.4M1774.0 1482.8L1770.6 1530.0M1774.0 1485.3L1777.0 1508.9M1763.9 1514.4L1762.7 1530.0M1763.9 1517.4L1765.1 1525.8M1749.7 1492.9L1748.1 1530.0M1749.7 1493.9L1751.4 1510.5M1764.5 1471.6L1761.5 1530.0M1764.5 1473.3L1767.6 1514.2M1759.0 1507.2L1756.0 1530.0M1759.0 1510.7L1761.9 1525.9M1767.3 1514.8L1766.3 1530.0M1767.3 1517.5L1768.4 1522.9M1755.9 1372.0L1753.1 1530.0M1755.9 1373.3L1758.7 1457.9M1771.3 1518.3L1768.0 1530.0M1771.3 1520.0L1774.6 1528.1M1757.3 1495.4L1755.0 1530.0M1757.3 1496.6L1759.6 1528.8M1764.9 1476.0L1762.2 1530.0M1764.9 1477.5L1767.7 1502.2M1746.5 1518.7L1745.5 1530.0M1746.5 1521.0L1747.6 1526.5M1752.8 1495.7L1751.8 1530.0M1752.8 1495.8L1753.8 1510.2M1772.6 1521.3L1769.9 1530.0M1772.6 1523.3L1775.2 1527.2M1771.2 1485.0L1767.9 1530.0M1771.2 1487.8L1774.6 1505.3M1749.5 1458.3L1747.7 1530.0M1749.5 1462.0L1751.3 1496.0M1775.0 1470.5L1773.0 1530.0M1775.0 1472.6L1777.0 1502.1M1747.7 1494.6L1745.3 1530.0M1747.7 1497.4L1750.2 1522.7M1764.2 1473.4L1762.2 1530.0M1764.2 1476.1L1766.1 1499.3M1757.1 1495.6L1754.9 1530.0M1757.1 1499.0L1759.3 1524.4M1754.6 1505.1L1752.0 1530.0M1754.6 1505.7L1757.2 1515.4M1761.1 1474.2L1759.1 1530.0M1761.1 1474.3L1763.1 1517.1M1763.1 1520.4L1759.7 1530.0M1763.1 1522.7L1766.6 1527.4M1746.9 1513.2L1745.0 1530.0M1746.9 1515.8L1748.7 1528.2M1760.6 1512.0L1758.1 1530.0M1760.6 1514.8L1763.0 1524.4M1768.5 1487.0L1767.3 1530.0M1768.5 1489.6L1769.7 1517.5M1768.8 1418.9L1766.9 1530.0M1768.8 1422.3L1770.7 1514.7M1765.5 1523.8L1762.4 1530.0M1765.5 1525.6L1768.6 1528.3M1760.9 1506.3L1759.4 1530.0M1760.9 1509.1L1762.5 1521.1M1747.6 1512.0L1745.0 1530.0M1747.6 1513.1L1751.0 1526.8M1763.3 1506.3L1760.0 1530.0M1763.3 1510.2L1766.7 1528.2M1752.7 1516.9L1750.6 1530.0M1752.7 1518.0L1754.9 1524.7M1772.6 1521.2L1771.5 1530.0M1772.6 1521.6L1773.6 1528.4M1750.0 1502.5L1748.1 1530.0M1750.0 1505.4L1751.9 1514.1M1775.3 1503.3L1772.7 1530.0M1775.3 1503.8L1777.0 1520.2M1772.5 1441.8L1771.2 1530.0M1772.5 1442.5L1773.9 1482.3M1766.9 1469.4L1765.8 1530.0M1766.9 1471.9L1768.1 1529.2M1768.1 1463.8L1766.3 1530.0M1768.1 1463.9L1769.9 1500.9M1776.0 1487.2L1774.0 1530.0M1776.0 1488.5L1777.0 1509.1M1775.1 1506.7L1773.5 1530.0M1775.1 1510.7L1776.6 1524.0M1759.3 1509.9L1756.5 1530.0M1759.3 1513.8L1762.1 1524.3M1771.7 1504.6L1769.6 1530.0M1771.7 1507.8L1773.7 1515.2M1768.7 1477.6L1765.6 1530.0M1768.7 1481.3L1771.7 1500.1M1761.9 1505.4L1760.9 1530.0M1761.9 1507.5L1763.0 1524.7M1746.0 1372.0L1745.0 1530.0M1746.0 1375.7L1747.8 1528.5M1756.8 1465.8L1754.1 1530.0M1756.8 1468.5L1759.5 1511.2M1748.7 1456.4L1745.8 1530.0M1748.7 1458.3L1751.6 1505.2M1770.1 1498.1L1767.9 1530.0M1770.1 1500.0L1772.3 1515.9M1768.1 1508.5L1765.1 1530.0M1768.1 1510.0L1771.0 1521.3M1757.3 1436.8L1754.0 1530.0M1757.3 1439.9L1760.7 1508.7M1756.5 1502.4L1754.0 1530.0M1756.5 1502.5L1759.1 1521.0M1773.9 1521.5L1770.6 1530.0M1773.9 1523.8L1777.0 1524.9M1767.7 1475.8L1764.8 1530.0M1767.7 1477.5L1770.6 1526.2M1771.6 1444.3L1768.8 1530.0M1771.6 1445.2L1774.4 1504.3M1761.4 1506.8L1759.2 1530.0M1761.4 1508.6L1763.7 1516.4" stroke="#1a1a1a" stroke-opacity="0.20" stroke-width=".7" stroke-dasharray="7 4" fill="none"/>
<path d="M1603.0 1530.0H1641.0" stroke="#1a1a1a" stroke-width="8.9" stroke-dasharray="1.3 .5" stroke-opacity="0.76" fill="none"/>
<path d="M1745.0 1530.0H1753.0" stroke="#1a1a1a" stroke-width="8.9" stroke-dasharray="1.3 .5" stroke-opacity="0.90" fill="none"/>
<path d="M1771.0 1530.0H1777.0" stroke="#1a1a1a" stroke-width="8.9" stroke-dasharray="1.3 .5" stroke-opacity="0.90" fill="none"/>
<path d="M1930.1 1129.5v8.9M1851.9 1337.7v8.9M1860.0 1357.5v8.9M1998.7 1385.8v8.9M1911.7 1434.8v8.9M1900.8 1436.5v8.9M1980.6 1445.3v8.9M1879.7 1451.0v8.9M1924.4 1465.7v8.9M1966.9 1471.4v8.9M1994.1 1470.8v8.9M1959.1 1469.9v8.9M1860.9 1468.0v8.9M1865.1 1469.9v8.9M1869.6 1476.5v8.9M1983.6 1473.6v8.9M1909.2 1477.9v8.9M1951.6 1525.5v8.9M1931.5 1488.0v8.9M1986.0 1525.5v8.9M1996.8 1525.5v8.9M1874.0 1522.6v8.9M1884.8 1525.3v8.9M1993.6 1524.0v8.9M1996.1 1522.2v8.9M1997.5 1524.4v8.9M1973.0 1513.0v8.9M1854.4 1501.9v8.9M1985.0 1521.4v8.9M1940.5 1515.6v8.9M1914.8 1524.6v8.9M1913.1 1523.5v8.9M1898.9 1524.4v8.9M1888.1 1525.4v8.9M2008.6 1502.6v8.9M1974.3 1525.4v8.9M1910.2 1524.8v8.9M1855.5 1524.9v8.9M1977.5 1489.5v8.9M1973.1 1490.0v8.9M1970.6 1517.5v8.9M2008.7 1520.8v8.9M1895.6 1522.1v8.9M1891.3 1494.8v8.9M1918.1 1524.8v8.9M1922.8 1483.3v8.9M1874.6 1520.9v8.9M1926.2 1522.0v8.9M1889.1 1522.1v8.9M1921.2 1516.5v8.9M1897.6 1525.5v8.9M1943.6 1514.9v8.9M1882.1 1521.3v8.9M1976.8 1525.3v8.9M1846.7 1525.2v8.9M1909.9 1525.3v8.9M1966.3 1522.8v8.9M1987.8 1512.2v8.9M1962.6 1524.4v8.9M1861.4 1507.9v8.9M1983.8 1522.8v8.9M1914.5 1522.9v8.9M1840.3 1525.1v8.9M1949.2 1523.5v8.9M1900.2 1525.1v8.9M1936.2 1525.5v8.9M1881.3 1525.5v8.9M1871.4 1515.4v8.9M1896.6 1524.0v8.9M1944.7 1494.8v8.9M1882.3 1525.1v8.9M1929.7 1524.7v8.9M1902.4 1521.1v8.9M1879.0 1525.5v8.9M1993.6 1507.5v8.9M1912.2 1494.9v8.9M1983.7 1514.7v8.9M1841.2 1481.2v8.9M1897.8 1525.5v8.9M1916.4 1484.8v8.9M1863.4 1513.9v8.9M1840.2 1525.1v8.9M1892.8 1525.4v8.9M1897.0 1525.5v8.9M1907.3 1513.0v8.9M1935.5 1518.2v8.9M1930.5 1525.1v8.9M1900.0 1521.2v8.9M1911.2 1523.0v8.9M1869.2 1511.3v8.9M1872.2 1514.8v8.9M1880.1 1488.2v8.9M1975.7 1524.1v8.9M1872.4 1524.5v8.9M1915.3 1518.4v8.9M1903.9 1510.6v8.9M1937.6 1524.7v8.9M1949.6 1524.7v8.9M1970.7 1525.5v8.9M1883.9 1524.6v8.9M1943.5 1524.5v8.9M1844.4 1525.5v8.9M1925.4 1502.3v8.9M1904.4 1525.5v8.9M1909.7 1524.9v8.9M1952.6 1487.6v8.9M1964.4 1512.8v8.9M1902.2 1525.5v8.9M1846.6 1525.4v8.9M1840.3 1525.2v8.9M1971.7 1511.4v8.9M1968.7 1486.3v8.9M1844.8 1515.1v8.9M1859.5 1515.5v8.9M1872.4 1507.8v8.9M1881.9 1525.4v8.9M1979.3 1525.5v8.9M2002.8 1494.6v8.9M1917.9 1525.4v8.9M1974.7 1525.4v8.9M1843.9 1515.6v8.9M1908.4 1509.6v8.9M1976.2 1515.0v8.9M1870.3 1513.0v8.9M1898.7 1522.6v8.9M1944.0 1524.5v8.9M1947.2 1488.5v8.9M1973.3 1521.9v8.9M1876.8 1482.3v8.9M1930.7 1483.1v8.9M1985.3 1525.4v8.9M1849.9 1525.2v8.9M1853.1 1525.5v8.9M1882.7 1523.5v8.9M1937.6 1523.6v8.9M1839.9 1525.3v8.9M1893.8 1525.5v8.9M2006.5 1525.5v8.9M1994.3 1518.5v8.9M1950.3 1513.9v8.9M1877.9 1502.2v8.9M1959.4 1508.6v8.9M1858.7 1525.5v8.9M1836.5 1515.4v8.9M1936.5 1510.6v8.9M1913.5 1508.6v8.9M1883.0 1521.5v8.9M1976.9 1525.2v8.9M1882.3 1524.1v8.9M1911.5 1524.4v8.9M1968.4 1519.5v8.9M1973.7 1525.3v8.9M1883.6 1486.9v8.9M1968.1 1519.1v8.9M1994.8 1520.7v8.9M1931.9 1524.9v8.9M1870.2 1525.5v8.9M1942.2 1501.4v8.9M1857.4 1525.3v8.9M1905.0 1524.0v8.9M1994.7 1501.0v8.9M1917.1 1498.7v8.9M1980.7 1523.5v8.9M1972.1 1513.9v8.9M1940.9 1525.5v8.9M1908.0 1481.4v8.9M1953.1 1525.3v8.9M1906.4 1509.0v8.9M1843.2 1524.2v8.9M1963.9 1524.1v8.9M1897.5 1513.8v8.9M1930.4 1522.1v8.9M1924.3 1493.1v8.9M1942.7 1512.0v8.9M2008.8 1524.9v8.9M1884.1 1525.2v8.9M1985.9 1517.4v8.9M1923.3 1524.6v8.9M1915.9 1523.7v8.9M1905.3 1525.4v8.9M1973.6 1522.3v8.9M1990.9 1508.5v8.9M1838.2 1525.4v8.9M1890.9 1525.5v8.9M1845.4 1525.0v8.9M1900.0 1525.5v8.9M1860.4 1520.3v8.9M1985.3 1524.5v8.9M1912.1 1525.5v8.9M2003.3 1507.9v8.9M2008.1 1513.4v8.9M1936.8 1511.9v8.9M1919.1 1496.0v8.9M1931.9 1492.1v8.9M2008.4 1511.3v8.9M2003.7 1496.8v8.9M1965.7 1497.7v8.9M1932.5 1506.4v8.9M1872.1 1507.5v8.9M1970.4 1514.4v8.9M1893.7 1525.0v8.9M1862.3 1525.5v8.9M1942.1 1525.1v8.9M1895.2 1525.5v8.9M1978.3 1518.1v8.9M1978.7 1525.4v8.9M1947.4 1506.8v8.9M1860.2 1524.9v8.9M1929.5 1524.3v8.9M1914.2 1523.2v8.9M1849.2 1515.6v8.9M1840.1 1506.3v8.9M1838.6 1522.8v8.9M1884.5 1519.4v8.9M1994.0 1525.5v8.9M1975.9 1525.2v8.9M1999.0 1521.7v8.9M1929.6 1513.6v8.9M1858.2 1525.0v8.9M1867.1 1524.8v8.9M1968.5 1524.7v8.9M1975.0 1525.4v8.9M1872.0 1489.0v8.9M1871.7 1522.0v8.9M1906.1 1525.5v8.9M1925.9 1508.9v8.9M1854.2 1522.8v8.9M1987.7 1491.8v8.9M1919.8 1525.5v8.9M1840.6 1515.2v8.9M1836.5 1512.8v8.9M1910.6 1523.6v8.9M1965.0 1525.1v8.9M1958.6 1516.5v8.9M1962.9 1525.5v8.9M1877.6 1509.0v8.9M1978.2 1513.4v8.9M1900.5 1524.4v8.9M1907.8 1525.2v8.9M1899.2 1515.8v8.9M1909.9 1492.3v8.9M1928.7 1525.0v8.9M1956.5 1510.7v8.9M1891.8 1525.5v8.9M1989.0 1524.9v8.9M1932.9 1525.5v8.9M1851.1 1517.9v8.9M2006.8 1522.3v8.9M1885.8 1525.2v8.9M1906.9 1525.5v8.9M2002.1 1523.6v8.9M1955.9 1525.4v8.9M1905.9 1500.3v8.9M1891.7 1521.0v8.9M1911.7 1519.4v8.9M1881.2 1517.4v8.9M1964.3 1525.0v8.9M1986.7 1522.3v8.9M1845.2 1525.4v8.9M1872.7 1525.5v8.9M1908.1 1525.2v8.9M1960.7 1525.5v8.9M1883.2 1525.3v8.9M1981.9 1524.0v8.9M1967.8 1525.5v8.9M1852.6 1510.4v8.9M1895.7 1525.5v8.9M2005.4 1516.8v8.9M1915.3 1488.2v8.9M1898.3 1525.1v8.9M1896.5 1513.6v8.9M1955.0 1524.6v8.9M1982.7 1512.4v8.9M2002.4 1509.9v8.9M1841.6 1499.5v8.9M1995.8 1525.2v8.9M1950.3 1521.7v8.9M1884.3 1515.0v8.9M1948.2 1521.5v8.9M1880.3 1491.0v8.9M1900.8 1525.5v8.9M1917.8 1525.4v8.9M1890.0 1524.4v8.9M1866.8 1524.4v8.9M1894.0 1499.1v8.9M1945.2 1522.6v8.9M2005.1 1525.1v8.9M1948.8 1525.5v8.9M1853.2 1520.8v8.9M1968.9 1525.5v8.9M1945.8 1521.6v8.9M1867.6 1524.3v8.9M1872.7 1525.5v8.9M1965.6 1494.5v8.9M2005.9 1514.8v8.9M1868.4 1487.7v8.9M1861.6 1523.1v8.9M1851.6 1487.5v8.9M1886.4 1499.8v8.9M1894.6 1507.6v8.9M1984.4 1491.2v8.9M1983.0 1517.8v8.9M1982.0 1523.2v8.9M1850.6 1489.3v8.9M1950.1 1507.7v8.9M1853.3 1522.9v8.9M1892.1 1509.8v8.9M1985.2 1511.7v8.9M1840.8 1496.2v8.9M1847.8 1517.0v8.9M1970.4 1510.7v8.9M1960.9 1509.4v8.9M2007.0 1476.5v8.9M1952.4 1480.8v8.9M1923.0 1472.1v8.9M1866.9 1470.4v8.9M2008.3 1468.7v8.9M1949.8 1473.9v8.9M1940.5 1478.2v8.9M1849.6 1491.3v8.9M1870.9 1484.3v8.9M1917.5 1486.9v8.9M1936.3 1489.6v8.9M1945.6 1493.0v8.9M1932.7 1494.8v8.9M1914.3 1489.6v8.9M1856.8 1491.3v8.9M1882.5 1481.7v8.9M1862.5 1494.8v8.9M1896.8 1491.3v8.9M1875.1 1503.5v8.9M1960.5 1495.7v8.9M1899.3 1496.5v8.9M1862.6 1502.6v8.9M1842.4 1505.2v8.9M1946.0 1500.0v8.9M1951.2 1509.6v8.9M1876.5 1508.7v8.9M2000.4 1503.5v8.9M1956.6 1504.4v8.9M1992.7 1500.0v8.9M2000.1 1510.5v8.9M1995.6 1507.8v8.9M1940.2 1508.7v8.9M1908.2 1511.3v8.9M1852.5 1511.3v8.9M1990.7 1507.8v8.9M1954.7 1513.9v8.9M1949.2 1512.2v8.9M1912.0 1496.5v8.9M1934.5 1525.3v8.9M2008.3 1525.3v8.9M2002.9 1525.3v8.9M1885.8 1525.3v8.9M1860.8 1526.1v8.9M1905.5 1525.3v8.9M1861.2 1525.3v8.9M1927.0 1525.3v8.9M1905.4 1522.7v8.9M1962.4 1523.5v8.9M1933.4 1525.3v8.9M2003.9 1525.3v8.9M1953.9 1525.3v8.9M1841.3 1525.3v8.9M1883.4 1526.1v8.9M1959.8 1525.3v8.9M1899.2 1525.3v8.9M1902.8 1525.3v8.9M1943.4 1525.3v8.9M2007.9 1525.3v8.9M1878.6 1525.3v8.9" stroke="#111" stroke-width="0.05" fill="none"/>
<path d="M1864.7 1520.9L1861.6 1530.0M1864.7 1524.8L1866.0 1526.3M1861.9 1520.5L1858.7 1530.0M1861.9 1521.8L1865.0 1528.2M1847.9 1498.6L1845.9 1530.0M1847.9 1501.3L1850.0 1520.5M1863.0 1497.4L1860.9 1530.0M1863.0 1500.8L1865.1 1528.9M1863.3 1515.7L1861.0 1530.0M1863.3 1519.5L1865.5 1528.5M1837.1 1522.7L1835.8 1530.0M1837.1 1524.4L1838.5 1527.2M1855.4 1502.5L1853.0 1530.0M1855.4 1503.1L1857.7 1522.1M1839.7 1500.1L1837.7 1530.0M1839.7 1502.0L1841.8 1529.8M1850.4 1516.7L1847.3 1530.0M1850.4 1519.9L1853.4 1524.1M1861.1 1513.0L1858.1 1530.0M1861.1 1514.1L1864.1 1525.3M1837.6 1515.8L1835.0 1530.0M1837.6 1518.6L1840.4 1527.1M1850.2 1517.5L1848.4 1530.0M1850.2 1518.2L1852.0 1529.1M1861.5 1522.3L1860.0 1530.0M1861.5 1525.9L1863.0 1527.5M1838.6 1516.9L1836.7 1530.0M1838.6 1519.8L1840.4 1527.2M1846.9 1519.4L1843.6 1530.0M1846.9 1521.4L1850.2 1528.9M1858.5 1509.0L1857.1 1530.0M1858.5 1511.0L1859.9 1523.0M1856.7 1517.0L1854.7 1530.0M1856.7 1520.2L1858.8 1528.7M1863.8 1517.7L1860.6 1530.0M1863.8 1521.2L1866.0 1523.9M1861.2 1516.0L1857.8 1530.0M1861.2 1518.1L1864.6 1529.9M1856.9 1516.6L1855.5 1530.0M1856.9 1518.5L1858.2 1523.4M1842.1 1521.5L1840.1 1530.0M1842.1 1522.9L1844.0 1525.5M1843.3 1518.3L1841.0 1530.0M1843.3 1520.1L1845.7 1529.2M1864.0 1511.0L1861.6 1530.0M1864.0 1512.9L1866.0 1520.6M1850.2 1519.0L1848.2 1530.0M1850.2 1522.8L1852.2 1528.5M1850.6 1514.9L1849.6 1530.0M1850.6 1518.2L1851.7 1521.5M1839.2 1517.4L1837.7 1530.0M1839.2 1519.6L1840.7 1524.2M1854.7 1475.2L1852.0 1530.0M1854.7 1475.9L1857.5 1525.1M1845.1 1513.9L1843.2 1530.0M1845.1 1514.9L1847.0 1529.2M1852.9 1507.3L1851.3 1530.0M1852.9 1507.5L1854.5 1518.4M1841.4 1518.5L1837.9 1530.0M1841.4 1519.5L1844.9 1525.1" stroke="#1a1a1a" stroke-opacity="0.06" stroke-width=".7" stroke-dasharray="7 4" fill="none"/>
<path d="M1986.9 1520.5L1984.8 1530.0M1986.9 1523.0L1988.9 1526.7M1986.8 1517.1L1984.5 1530.0M1986.8 1517.3L1989.0 1525.5M1997.0 1504.1L1995.9 1530.0M1997.0 1505.4L1998.1 1526.0M1979.6 1507.9L1978.0 1530.0M1979.6 1511.7L1981.4 1528.3M1997.4 1484.2L1995.3 1530.0M1997.4 1485.4L1999.6 1517.0M1989.9 1480.5L1987.4 1530.0M1989.9 1482.7L1992.4 1523.8M1993.0 1507.0L1991.8 1530.0M1993.0 1507.4L1994.2 1523.8M1982.1 1460.0L1979.1 1530.0M1982.1 1461.7L1985.0 1505.3M1980.0 1501.9L1978.9 1530.0M1980.0 1502.8L1981.2 1519.6M2000.9 1516.8L1998.7 1530.0M2000.9 1519.4L2003.0 1528.0M1997.1 1513.2L1995.9 1530.0M1997.1 1516.1L1998.4 1522.2M1994.1 1496.3L1991.3 1530.0M1994.1 1498.7L1996.9 1509.9M2001.2 1517.8L1999.4 1530.0M2001.2 1518.0L2003.0 1528.3M2004.3 1511.3L2001.3 1530.0M2004.3 1512.9L2007.2 1521.6M1989.1 1512.7L1987.1 1530.0M1989.1 1515.6L1991.0 1529.7M2000.9 1520.0L1998.1 1530.0M2000.9 1520.8L2003.6 1524.5M1986.1 1492.4L1985.0 1530.0M1986.1 1494.5L1987.3 1514.7M2007.6 1503.2L2006.3 1530.0M2007.6 1505.7L2008.8 1519.9M1996.3 1510.0L1993.7 1530.0M1996.3 1510.0L1999.0 1524.0M1981.3 1496.0L1980.2 1530.0M1981.3 1499.8L1982.4 1526.4M1996.6 1523.3L1994.7 1530.0M1996.6 1526.2L1998.5 1529.8M2001.1 1504.0L1998.7 1530.0M2001.1 1507.9L2003.5 1527.8M1979.6 1501.0L1978.0 1530.0M1979.6 1504.1L1982.3 1517.1M1991.5 1465.3L1989.5 1530.0M1991.5 1468.9L1993.5 1518.5M2003.6 1517.5L2000.8 1530.0M2003.6 1520.3L2006.5 1529.8M1995.9 1513.1L1994.4 1530.0M1995.9 1515.9L1997.3 1525.4M1992.8 1460.0L1990.0 1530.0M1992.8 1462.7L1995.5 1527.5M1984.0 1522.8L1982.3 1530.0M1984.0 1526.2L1985.7 1526.9M1982.1 1523.0L1979.2 1530.0M1982.1 1525.0L1985.0 1529.2M1993.6 1520.5L1991.1 1530.0M1993.6 1524.1L1996.0 1524.8" stroke="#1a1a1a" stroke-opacity="0.06" stroke-width=".7" stroke-dasharray="7 4" fill="none"/>
<rect x="1835.0" y="1525.5" width="174.2" height="8.9" fill="#3a3a3a" fill-opacity="0.96"/>
<path d="M2190.7 537.7v8.9M2119.4 689.5v8.9M2156.6 710.8v8.9M2183.1 725.4v8.9M2163.2 789.7v8.9M2147.2 852.2v8.9M2091.7 959.7v8.9M2088.4 1046.8v8.9M2110.3 1063.2v8.9M2173.8 1068.7v8.9M2149.7 1067.4v8.9M2202.4 1080.9v8.9M2118.2 1090.5v8.9M2124.4 1092.0v8.9M2234.6 1099.3v8.9M2077.3 1126.6v8.9M2072.1 1127.0v8.9M2116.3 1135.2v8.9M2213.2 1146.8v8.9M2223.4 1157.0v8.9M2125.7 1165.2v8.9M2166.4 1169.6v8.9M2234.9 1170.7v8.9M2237.2 1176.5v8.9M2192.3 1180.2v8.9M2153.7 1179.6v8.9M2186.2 1183.5v8.9M2198.7 1186.4v8.9M2150.0 1200.4v8.9M2134.4 1199.3v8.9M2230.9 1209.2v8.9M2153.0 1226.1v8.9M2121.5 1227.2v8.9M2100.8 1222.1v8.9M2094.9 1231.0v8.9M2231.8 1232.7v8.9M2110.9 1236.5v8.9M2095.2 1248.7v8.9M2076.8 1252.7v8.9M2198.4 1258.0v8.9M2163.8 1268.0v8.9M2087.2 1265.3v8.9M2170.7 1272.2v8.9M2083.0 1273.1v8.9M2092.6 1282.4v8.9M2182.9 1284.6v8.9M2191.9 1292.4v8.9M2185.0 1289.7v8.9M2177.7 1289.7v8.9M2174.9 1299.7v8.9M2172.5 1299.2v8.9M2210.4 1300.1v8.9M2183.4 1301.9v8.9M2188.6 1311.2v8.9M2216.3 1313.4v8.9M2165.1 1321.4v8.9M2089.8 1337.4v8.9M2097.3 1340.2v8.9M2172.3 1347.3v8.9M2182.4 1344.5v8.9M2129.3 1354.6v8.9M2107.0 1350.7v8.9M2078.5 1365.7v8.9M2138.4 1364.0v8.9M2162.9 1361.7v8.9M2079.7 1365.7v8.9M2108.6 1367.3v8.9M2217.0 1369.5v8.9M2222.2 1375.0v8.9M2220.5 1379.0v8.9M2075.5 1377.7v8.9M2132.8 1371.7v8.9M2184.8 1379.9v8.9M2196.6 1379.5v8.9M2238.6 1383.9v8.9M2068.1 1392.3v8.9M2220.8 1399.4v8.9M2153.5 1393.9v8.9M2221.4 1397.2v8.9M2158.9 1399.4v8.9M2137.3 1398.8v8.9M2167.9 1408.3v8.9M2121.0 1407.2v8.9M2082.0 1410.9v8.9M2096.2 1408.3v8.9M2085.3 1417.2v8.9M2080.9 1418.3v8.9M2082.3 1419.4v8.9M2237.9 1419.4v8.9M2081.6 1420.5v8.9M2104.6 1424.5v8.9M2092.9 1432.2v8.9M2206.6 1434.4v8.9M2083.2 1437.5v8.9M2208.5 1433.8v8.9M2213.3 1438.9v8.9M2176.3 1441.5v8.9M2105.1 1442.6v8.9M2081.1 1445.5v8.9M2165.3 1452.0v8.9M2212.5 1455.3v8.9M2084.8 1458.2v8.9M2139.0 1455.3v8.9M2184.5 1461.5v8.9M2115.0 1460.4v8.9M2239.4 1459.3v8.9M2068.9 1463.7v8.9M2122.3 1461.5v8.9M2106.3 1521.8v8.9M2163.1 1525.3v8.9M2142.2 1525.5v8.9M2162.0 1518.0v8.9M2180.5 1440.3v8.9M2161.3 1525.5v8.9M2171.1 1525.5v8.9M2101.6 1509.4v8.9M2139.6 1495.0v8.9M2198.9 1488.6v8.9M2161.5 1522.9v8.9M2155.4 1513.6v8.9M2212.1 1522.8v8.9M2114.0 1520.0v8.9M2174.7 1511.0v8.9M2149.5 1519.4v8.9M2189.9 1525.5v8.9M2199.1 1525.5v8.9M2086.7 1525.4v8.9M2196.1 1515.1v8.9M2118.3 1524.7v8.9M2071.9 1490.7v8.9M2192.5 1524.6v8.9M2165.7 1510.0v8.9M2167.8 1508.4v8.9M2204.8 1517.8v8.9M2147.4 1525.5v8.9M2068.6 1525.4v8.9M2195.3 1514.4v8.9M2115.6 1511.6v8.9M2089.1 1524.8v8.9M2220.7 1502.5v8.9M2110.7 1520.0v8.9M2155.2 1525.3v8.9M2108.4 1523.3v8.9M2190.2 1456.1v8.9M2226.7 1517.8v8.9M2078.1 1495.2v8.9M2068.8 1525.5v8.9M2199.8 1525.3v8.9M2068.2 1525.5v8.9M2176.6 1524.7v8.9M2069.6 1525.5v8.9M2098.3 1525.5v8.9M2100.6 1505.1v8.9M2201.9 1518.9v8.9M2105.8 1444.4v8.9M2187.1 1495.4v8.9M2240.3 1428.9v8.9M2173.7 1508.6v8.9M2232.7 1524.9v8.9M2229.4 1525.5v8.9M2221.5 1525.5v8.9M2085.5 1498.3v8.9M2152.3 1489.9v8.9M2142.9 1519.5v8.9M2154.9 1448.7v8.9M2117.3 1525.5v8.9M2194.7 1525.5v8.9M2131.2 1520.4v8.9M2148.6 1464.1v8.9M2128.6 1518.8v8.9M2120.3 1505.6v8.9M2087.0 1497.2v8.9M2127.6 1525.5v8.9M2108.9 1498.2v8.9M2100.1 1471.5v8.9M2151.8 1525.0v8.9M2219.8 1501.4v8.9M2129.1 1524.7v8.9M2170.9 1486.6v8.9M2222.4 1525.5v8.9M2232.1 1516.9v8.9M2116.6 1518.9v8.9M2234.2 1515.6v8.9M2173.2 1525.4v8.9M2200.6 1520.5v8.9M2224.1 1482.7v8.9M2232.5 1525.2v8.9M2233.2 1524.5v8.9M2143.1 1520.1v8.9M2178.5 1499.4v8.9M2204.0 1525.5v8.9M2205.5 1522.5v8.9M2186.7 1498.1v8.9M2202.6 1525.5v8.9M2158.5 1525.5v8.9M2094.2 1520.6v8.9M2201.2 1519.1v8.9M2185.2 1525.3v8.9M2183.6 1525.5v8.9M2120.8 1525.2v8.9M2097.8 1525.5v8.9M2126.5 1525.2v8.9M2191.8 1525.5v8.9M2120.6 1488.5v8.9M2204.3 1514.9v8.9M2207.3 1498.5v8.9M2167.6 1525.3v8.9M2189.5 1525.4v8.9M2093.8 1493.1v8.9M2142.5 1523.2v8.9M2229.7 1524.7v8.9M2146.2 1503.1v8.9M2190.9 1510.8v8.9M2187.6 1521.1v8.9M2164.6 1521.4v8.9M2199.3 1525.4v8.9M2069.3 1525.1v8.9M2127.7 1438.1v8.9M2187.9 1525.5v8.9M2170.0 1524.0v8.9M2201.0 1454.8v8.9M2077.5 1506.0v8.9M2149.3 1518.2v8.9M2175.4 1490.3v8.9M2200.5 1509.5v8.9M2160.5 1498.7v8.9M2086.3 1525.0v8.9M2221.7 1519.3v8.9M2170.4 1497.7v8.9M2189.0 1523.9v8.9M2185.3 1464.4v8.9M2084.6 1523.0v8.9M2183.8 1489.2v8.9M2073.5 1460.0v8.9M2134.7 1506.4v8.9M2104.2 1524.2v8.9M2213.0 1525.5v8.9M2154.4 1505.7v8.9M2214.4 1520.5v8.9M2219.1 1520.4v8.9M2115.7 1505.6v8.9M2177.5 1525.1v8.9M2112.3 1525.1v8.9M2212.7 1523.7v8.9M2177.0 1506.3v8.9M2103.2 1512.4v8.9M2208.3 1441.7v8.9M2198.2 1525.1v8.9M2162.4 1524.9v8.9M2074.0 1523.1v8.9M2126.2 1525.4v8.9M2232.0 1525.0v8.9M2192.6 1487.5v8.9M2229.2 1517.8v8.9M2188.5 1525.5v8.9M2204.1 1525.5v8.9M2082.5 1496.5v8.9M2072.4 1502.1v8.9M2172.6 1524.9v8.9M2233.0 1505.2v8.9M2177.3 1513.0v8.9M2148.8 1525.3v8.9M2150.4 1525.4v8.9M2127.2 1523.4v8.9M2114.3 1525.3v8.9M2130.5 1511.0v8.9M2175.9 1493.8v8.9M2227.6 1524.6v8.9M2152.4 1520.2v8.9M2136.4 1524.7v8.9M2175.1 1521.3v8.9M2240.7 1525.5v8.9M2146.9 1523.8v8.9M2145.3 1497.6v8.9M2078.0 1524.9v8.9M2224.0 1522.9v8.9M2226.0 1469.2v8.9M2159.9 1496.2v8.9M2240.1 1455.3v8.9M2195.8 1524.5v8.9M2080.8 1490.2v8.9M2203.6 1513.1v8.9M2215.8 1525.2v8.9M2185.5 1525.4v8.9M2075.4 1525.5v8.9M2123.4 1486.7v8.9M2203.1 1521.6v8.9M2122.2 1523.8v8.9M2188.8 1523.7v8.9M2090.3 1524.3v8.9M2081.3 1518.5v8.9M2234.7 1521.7v8.9M2157.0 1523.1v8.9M2141.8 1523.8v8.9M2076.1 1521.4v8.9M2084.4 1519.0v8.9M2091.9 1494.5v8.9M2113.3 1524.7v8.9M2076.9 1525.0v8.9M2067.4 1525.5v8.9M2069.4 1486.5v8.9M2202.7 1525.0v8.9M2089.6 1510.7v8.9M2233.7 1516.3v8.9M2119.2 1522.5v8.9M2181.9 1524.9v8.9M2139.4 1438.1v8.9M2104.1 1524.2v8.9M2113.1 1466.3v8.9M2118.7 1438.9v8.9M2126.3 1487.3v8.9M2143.2 1525.5v8.9M2228.7 1525.3v8.9M2160.1 1523.0v8.9M2135.4 1524.9v8.9M2151.2 1522.6v8.9M2227.8 1437.9v8.9M2110.2 1506.9v8.9M2109.8 1525.5v8.9M2073.8 1525.3v8.9M2111.7 1523.7v8.9M2207.6 1456.4v8.9M2195.4 1508.0v8.9M2108.1 1524.7v8.9M2194.0 1495.0v8.9M2219.3 1525.2v8.9M2118.9 1507.0v8.9M2147.6 1524.0v8.9M2227.4 1438.9v8.9M2095.4 1525.4v8.9M2125.1 1520.2v8.9M2119.0 1525.5v8.9M2128.3 1525.0v8.9M2232.3 1523.7v8.9M2192.1 1521.8v8.9M2214.9 1525.5v8.9M2096.8 1525.2v8.9M2222.9 1521.6v8.9M2197.5 1525.5v8.9M2222.0 1494.2v8.9M2153.8 1486.9v8.9M2207.8 1517.1v8.9M2127.0 1522.1v8.9M2142.7 1524.9v8.9M2157.7 1522.2v8.9M2111.4 1525.0v8.9M2239.6 1432.3v8.9M2168.3 1503.9v8.9M2087.9 1488.9v8.9M2208.0 1525.4v8.9M2220.0 1518.9v8.9M2112.8 1485.3v8.9M2095.0 1525.5v8.9M2085.6 1522.3v8.9M2206.4 1461.4v8.9M2226.2 1524.6v8.9M2216.1 1519.0v8.9M2114.7 1497.0v8.9M2103.9 1494.4v8.9M2117.1 1524.0v8.9M2210.9 1519.4v8.9M2109.5 1444.2v8.9M2147.7 1470.5v8.9M2173.3 1518.5v8.9M2210.6 1433.7v8.9M2082.7 1525.3v8.9M2213.9 1504.2v8.9M2180.3 1518.4v8.9M2145.8 1522.4v8.9M2216.8 1525.5v8.9M2213.7 1502.9v8.9M2104.8 1523.8v8.9M2181.5 1525.5v8.9M2091.2 1525.5v8.9M2187.4 1523.8v8.9M2168.6 1518.6v8.9M2102.2 1525.5v8.9M2218.6 1430.0v8.9M2160.3 1500.1v8.9M2096.1 1525.5v8.9M2173.0 1523.2v8.9M2079.9 1464.5v8.9M2138.5 1525.5v8.9M2097.5 1521.1v8.9M2212.8 1522.9v8.9M2217.9 1485.6v8.9M2117.5 1503.9v8.9M2137.8 1525.3v8.9M2209.9 1499.0v8.9M2181.7 1520.9v8.9M2230.6 1500.9v8.9M2084.9 1525.1v8.9M2193.3 1525.5v8.9M2237.5 1524.7v8.9M2200.3 1524.8v8.9M2178.2 1525.5v8.9M2070.3 1525.2v8.9M2125.3 1494.7v8.9M2094.0 1521.2v8.9M2105.3 1524.3v8.9M2129.0 1525.4v8.9M2224.7 1525.5v8.9M2226.4 1486.6v8.9M2072.9 1487.5v8.9M2119.6 1524.9v8.9M2159.1 1525.5v8.9M2192.8 1521.9v8.9M2117.8 1525.5v8.9M2197.9 1463.7v8.9M2123.2 1504.5v8.9M2195.6 1523.2v8.9M2083.5 1522.2v8.9M2161.0 1524.9v8.9M2075.2 1525.5v8.9M2215.6 1504.2v8.9M2095.7 1502.9v8.9M2179.8 1502.6v8.9M2138.0 1525.5v8.9M2218.9 1489.3v8.9M2171.4 1485.5v8.9M2143.6 1446.5v8.9M2131.7 1524.9v8.9M2203.3 1513.6v8.9M2159.4 1502.6v8.9M2161.8 1516.3v8.9M2230.7 1525.5v8.9M2197.2 1501.2v8.9M2236.0 1507.5v8.9M2096.6 1514.5v8.9M2169.8 1523.7v8.9M2209.3 1525.5v8.9M2067.2 1435.3v8.9M2121.1 1518.9v8.9M2152.1 1485.4v8.9M2122.0 1524.3v8.9M2240.0 1525.5v8.9M2128.8 1432.0v8.9M2096.9 1522.8v8.9M2137.5 1524.3v8.9M2099.4 1520.0v8.9M2208.8 1524.3v8.9M2083.4 1510.8v8.9M2155.1 1490.1v8.9M2233.5 1464.7v8.9M2157.1 1520.9v8.9M2149.8 1525.5v8.9M2146.0 1517.5v8.9M2205.2 1519.0v8.9M2231.3 1520.7v8.9M2166.9 1520.6v8.9M2164.3 1495.4v8.9M2088.6 1524.4v8.9M2096.4 1430.2v8.9M2235.8 1522.9v8.9M2221.9 1525.5v8.9M2107.4 1513.6v8.9M2160.6 1519.6v8.9M2112.6 1472.0v8.9M2185.7 1518.6v8.9M2196.5 1525.2v8.9M2205.0 1520.7v8.9M2126.9 1510.7v8.9M2121.3 1506.4v8.9M2135.9 1521.0v8.9M2181.2 1525.1v8.9M2235.1 1523.9v8.9M2127.4 1525.5v8.9M2187.2 1485.6v8.9M2151.9 1500.2v8.9M2206.2 1500.3v8.9M2081.5 1523.5v8.9M2222.6 1525.4v8.9M2123.0 1506.3v8.9M2110.0 1512.4v8.9M2084.2 1523.7v8.9M2170.5 1487.4v8.9M2129.8 1525.4v8.9M2131.6 1523.2v8.9M2166.5 1509.3v8.9M2166.0 1525.0v8.9M2218.2 1433.3v8.9M2111.6 1485.9v8.9M2102.3 1524.3v8.9M2101.3 1494.9v8.9M2163.6 1515.2v8.9M2209.5 1497.0v8.9M2133.5 1494.6v8.9M2143.9 1525.5v8.9M2211.1 1433.3v8.9M2081.8 1522.8v8.9M2178.4 1501.5v8.9M2090.5 1525.5v8.9M2146.7 1525.0v8.9M2235.6 1522.4v8.9M2126.7 1520.8v8.9M2236.1 1443.9v8.9M2086.5 1521.1v8.9M2076.2 1525.4v8.9M2134.5 1496.3v8.9M2150.2 1459.8v8.9M2202.0 1525.5v8.9M2092.8 1500.2v8.9M2079.5 1521.8v8.9M2225.7 1494.9v8.9M2103.0 1525.3v8.9M2106.5 1524.6v8.9M2211.6 1487.9v8.9M2148.4 1521.4v8.9M2138.9 1525.4v8.9M2155.8 1522.8v8.9M2140.6 1525.3v8.9M2094.3 1514.9v8.9M2137.1 1522.5v8.9M2182.2 1472.6v8.9M2233.9 1485.4v8.9M2099.7 1485.6v8.9M2113.5 1506.2v8.9M2104.4 1498.1v8.9M2079.4 1489.0v8.9M2138.2 1525.5v8.9M2114.2 1516.8v8.9M2164.8 1525.5v8.9M2224.8 1525.4v8.9M2149.0 1523.3v8.9M2086.0 1510.4v8.9M2072.6 1520.3v8.9M2103.6 1523.5v8.9M2220.1 1525.2v8.9M2168.1 1504.7v8.9M2206.7 1513.7v8.9M2132.4 1524.0v8.9M2204.6 1525.4v8.9M2135.2 1487.6v8.9M2091.4 1519.8v8.9M2071.2 1525.4v8.9M2071.7 1522.7v8.9M2101.1 1523.9v8.9M2162.2 1524.4v8.9M2134.2 1424.4v8.9M2238.1 1420.4v8.9M2217.7 1422.0v8.9M2211.3 1420.4v8.9M2161.1 1419.6v8.9M2179.4 1418.0v8.9M2190.6 1441.2v8.9M2082.8 1434.8v8.9M2211.8 1442.8v8.9M2224.3 1436.8v8.9M2134.9 1432.4v8.9M2158.7 1434.0v8.9M2070.1 1439.6v8.9M2240.8 1444.4v8.9M2122.7 1451.6v8.9M2118.5 1453.2v8.9M2217.2 1458.0v8.9M2202.9 1455.6v8.9M2185.9 1461.2v8.9M2067.5 1460.4v8.9M2193.9 1460.4v8.9M2158.0 1462.0v8.9M2235.3 1463.6v8.9M2181.3 1467.6v8.9M2203.8 1473.2v8.9M2132.3 1474.8v8.9M2135.6 1474.8v8.9M2222.7 1482.0v8.9M2216.0 1476.4v8.9M2090.0 1474.8v8.9M2144.6 1478.0v8.9M2213.5 1474.8v8.9M2235.4 1477.2v8.9M2095.9 1492.4v8.9M2154.0 1490.8v8.9M2099.9 1487.6v8.9M2088.2 1495.6v8.9M2097.6 1500.4v8.9M2175.6 1489.2v8.9M2150.7 1503.6v8.9M2159.6 1495.6v8.9M2200.8 1492.4v8.9M2229.5 1502.0v8.9M2139.7 1507.6v8.9M2140.1 1508.4v8.9M2156.8 1511.6v8.9M2209.7 1510.0v8.9M2223.6 1525.2v8.9M2231.6 1522.8v8.9M2164.1 1519.6v8.9M2180.1 1523.6v8.9M2219.4 1525.2v8.9M2191.4 1522.8v8.9M2141.0 1524.4v8.9M2113.8 1527.6v8.9M2109.1 1525.2v8.9M2083.7 1522.8v8.9M2159.8 1520.4v8.9M2120.4 1521.2v8.9" stroke="#111" stroke-width="0.16" fill="none"/>
<path d="M2087.7 1519.8L2084.9 1530.0M2087.7 1520.9L2090.5 1526.9M2086.8 1509.0L2085.2 1530.0M2086.8 1512.0L2088.4 1523.2M2086.8 1523.0L2084.5 1530.0M2086.8 1523.4L2089.1 1527.4M2091.8 1519.2L2089.7 1530.0M2091.8 1521.7L2093.9 1526.4M2097.4 1505.5L2094.7 1530.0M2097.4 1506.9L2099.0 1529.2M2088.3 1521.5L2085.6 1530.0M2088.3 1524.1L2091.1 1525.6M2069.8 1517.4L2067.9 1530.0M2069.8 1518.8L2071.6 1528.1M2093.0 1517.9L2090.6 1530.0M2093.0 1518.4L2095.4 1526.0M2087.0 1522.7L2085.2 1530.0M2087.0 1523.7L2088.8 1527.6M2070.4 1484.0L2068.4 1530.0M2070.4 1487.7L2072.4 1529.1M2090.5 1501.0L2088.4 1530.0M2090.5 1502.5L2092.6 1519.2M2077.2 1521.2L2073.9 1530.0M2077.2 1523.7L2080.5 1527.4M2081.8 1508.1L2078.9 1530.0M2081.8 1509.3L2084.6 1525.9M2080.3 1523.4L2078.3 1530.0M2080.3 1523.9L2082.4 1527.4M2078.0 1520.1L2076.4 1530.0M2078.0 1521.1L2079.5 1528.6M2094.6 1517.9L2092.2 1530.0M2094.6 1519.2L2096.9 1523.1M2086.0 1522.1L2083.3 1530.0M2086.0 1522.1L2088.7 1525.3M2090.2 1521.6L2088.1 1530.0M2090.2 1525.2L2092.3 1526.1M2091.6 1515.3L2090.1 1530.0M2091.6 1517.9L2093.1 1524.9M2072.5 1523.4L2070.2 1530.0M2072.5 1527.1L2074.8 1528.7M2087.1 1522.9L2083.9 1530.0M2087.1 1526.4L2090.3 1528.7M2089.6 1510.5L2087.5 1530.0M2089.6 1514.1L2091.6 1529.5M2076.6 1522.8L2073.6 1530.0M2076.6 1525.7L2079.7 1529.0M2087.8 1516.8L2085.4 1530.0M2087.8 1518.5L2090.2 1525.5M2084.8 1520.2L2082.9 1530.0M2084.8 1520.8L2086.7 1526.3M2092.6 1521.4L2090.1 1530.0M2092.6 1523.0L2095.1 1529.1" stroke="#1a1a1a" stroke-opacity="0.20" stroke-width=".7" stroke-dasharray="7 4" fill="none"/>
<path d="M2211.9 1523.1L2209.0 1530.0M2211.9 1523.6L2214.7 1528.8M2225.3 1518.7L2222.9 1530.0M2225.3 1520.6L2227.8 1528.5M2230.4 1499.5L2227.0 1530.0M2230.4 1500.8L2233.7 1515.8M2228.7 1503.7L2227.6 1530.0M2228.7 1504.9L2229.8 1523.2M2211.4 1521.5L2209.0 1530.0M2211.4 1521.9L2214.4 1527.1M2217.2 1506.1L2215.2 1530.0M2217.2 1507.1L2219.1 1523.4M2218.3 1454.5L2216.2 1530.0M2218.3 1455.1L2220.5 1496.4M2214.9 1491.3L2212.0 1530.0M2214.9 1495.0L2217.9 1518.0M2232.4 1486.4L2229.4 1530.0M2232.4 1488.8L2235.5 1506.6M2232.3 1512.4L2230.4 1530.0M2232.3 1515.8L2234.3 1520.2M2221.3 1462.4L2218.3 1530.0M2221.3 1465.2L2224.3 1516.3M2218.3 1515.8L2215.5 1530.0M2218.3 1517.6L2221.0 1528.1M2214.4 1484.2L2212.9 1530.0M2214.4 1484.9L2215.9 1515.4M2211.6 1511.6L2210.1 1530.0M2211.6 1515.0L2213.1 1523.9M2224.8 1508.8L2223.8 1530.0M2224.8 1512.2L2225.9 1518.0M2210.2 1504.0L2209.0 1530.0M2210.2 1507.4L2213.2 1515.1M2237.1 1472.0L2235.8 1530.0M2237.1 1476.0L2238.5 1495.7M2229.3 1473.5L2227.7 1530.0M2229.3 1475.3L2231.0 1526.3M2224.1 1428.0L2221.4 1530.0M2224.1 1429.8L2226.9 1510.7M2216.4 1510.5L2214.6 1530.0M2216.4 1512.5L2218.1 1523.3M2222.2 1502.4L2220.1 1530.0M2222.2 1504.4L2224.2 1522.0M2235.3 1470.0L2232.8 1530.0M2235.3 1473.0L2237.8 1519.1M2214.9 1514.9L2213.5 1530.0M2214.9 1518.0L2216.2 1521.7M2229.3 1518.1L2227.9 1530.0M2229.3 1521.2L2230.6 1525.9M2214.4 1428.0L2211.5 1530.0M2214.4 1431.9L2217.2 1469.8M2233.5 1460.5L2230.2 1530.0M2233.5 1461.1L2236.9 1515.5M2226.1 1499.6L2224.7 1530.0M2226.1 1500.7L2227.5 1515.9M2239.0 1508.5L2235.7 1530.0M2239.0 1512.0L2241.0 1518.4M2215.7 1512.4L2213.0 1530.0M2215.7 1515.6L2218.3 1521.2M2213.6 1496.8L2212.5 1530.0M2213.6 1498.1L2214.7 1529.0M2225.3 1520.8L2222.7 1530.0M2225.3 1522.4L2228.0 1525.5M2219.7 1428.0L2218.4 1530.0M2219.7 1428.3L2221.0 1499.4M2225.1 1479.3L2224.0 1530.0M2225.1 1480.0L2226.1 1522.5M2223.0 1482.7L2220.4 1530.0M2223.0 1483.6L2225.7 1519.0M2233.0 1504.5L2231.7 1530.0M2233.0 1506.0L2234.3 1529.6M2223.7 1517.7L2221.9 1530.0M2223.7 1519.0L2225.4 1523.6M2212.5 1521.8L2211.2 1530.0M2212.5 1523.5L2213.8 1527.8M2237.9 1492.9L2236.3 1530.0M2237.9 1493.4L2239.6 1517.8M2235.0 1517.9L2232.1 1530.0M2235.0 1519.3L2237.9 1523.0M2238.7 1519.4L2235.7 1530.0M2238.7 1521.8L2241.0 1527.5M2225.5 1467.4L2223.3 1530.0M2225.5 1469.6L2227.7 1511.4M2210.7 1489.9L2209.5 1530.0M2210.7 1493.5L2212.0 1529.8M2227.0 1516.9L2224.3 1530.0M2227.0 1519.4L2229.7 1524.1M2234.6 1428.0L2233.3 1530.0M2234.6 1428.9L2235.9 1500.3M2237.8 1511.9L2236.3 1530.0M2237.8 1514.0L2239.4 1526.6" stroke="#1a1a1a" stroke-opacity="0.22" stroke-width=".7" stroke-dasharray="7 4" fill="none"/>
<path d="M2067.0 1530.0H2099.0" stroke="#1a1a1a" stroke-width="8.9" stroke-dasharray="1.3 .5" stroke-opacity="1.00" fill="none"/>
<path d="M2209.0 1530.0H2241.0" stroke="#1a1a1a" stroke-width="8.9" stroke-dasharray="1.3 .5" stroke-opacity="0.83" fill="none"/>
<g fill-opacity=".5" stroke-opacity=".5" stroke-width="2.95">
<circle class="c10" cx="298.6" cy="1275.5" r="8.14"/>
<circle class="c8" cx="324.0" cy="1432.4" r="8.14"/>
<circle class="c7" cx="279.3" cy="1471.4" r="8.14"/>
<circle class="c8" cx="327.5" cy="1481.9" r="8.14"/>
<circle class="c15" cx="292.3" cy="1487.2" r="8.14"/>
<circle class="c7" cx="254.3" cy="1496.1" r="8.14"/>
<circle class="c3" cx="341.3" cy="1498.0" r="8.14"/>
<circle class="c10" cx="266.6" cy="1502.9" r="8.14"/>
<circle class="c7" cx="259.3" cy="1501.7" r="8.14"/>
<circle class="c8" cx="328.8" cy="1505.4" r="8.14"/>
<circle class="c3" cx="310.5" cy="1506.0" r="8.14"/>
<circle class="c3" cx="278.2" cy="1507.2" r="8.14"/>
<circle class="c10" cx="323.3" cy="1509.0" r="8.14"/>
<circle class="c3" cx="255.6" cy="1510.2" r="8.14"/>
<circle class="c3" cx="291.6" cy="1511.5" r="8.14"/>
<circle class="c3" cx="274.5" cy="1512.1" r="8.14"/>
<circle class="c8" cx="343.9" cy="1512.1" r="8.14"/>
<circle class="c3" cx="333.7" cy="1512.7" r="8.14"/>
<circle class="c4" cx="309.3" cy="1516.3" r="8.14"/>
<circle class="c7" cx="282.4" cy="1518.2" r="8.14"/>
<circle class="c3" cx="336.7" cy="1517.6" r="8.14"/>
<circle class="c3" cx="260.5" cy="1517.6" r="8.14"/>
<circle class="c8" cx="319.6" cy="1518.8" r="8.14"/>
<circle class="c5" cx="266.6" cy="1524.9" r="8.14"/>
<circle class="c3" cx="254.4" cy="1524.9" r="8.14"/>
<circle class="c1" cx="256.8" cy="1529.1" r="8.14"/>
<circle class="c10" cx="270.2" cy="1529.8" r="8.14"/>
<circle class="c7" cx="296.7" cy="1530.0" r="8.14"/>
<circle class="c8" cx="258.3" cy="1529.2" r="8.14"/>
<circle class="c7" cx="293.8" cy="1519.0" r="8.14"/>
<circle class="c7" cx="282.3" cy="1520.5" r="8.14"/>
<circle class="c2" cx="329.9" cy="1530.0" r="8.14"/>
<circle class="c1" cx="342.5" cy="1527.3" r="8.14"/>
<circle class="c8" cx="264.5" cy="1529.5" r="8.14"/>
<circle class="c8" cx="298.8" cy="1518.1" r="8.14"/>
<circle class="c15" cx="288.7" cy="1529.4" r="8.14"/>
<circle class="c6" cx="292.1" cy="1527.4" r="8.14"/>
<circle class="c7" cx="266.3" cy="1529.9" r="8.14"/>
<circle class="c3" cx="335.4" cy="1529.1" r="8.14"/>
<circle class="c9" cx="255.1" cy="1529.5" r="8.14"/>
<circle class="c3" cx="301.1" cy="1528.5" r="8.14"/>
<circle class="c8" cx="258.0" cy="1530.0" r="8.14"/>
<circle class="c6" cx="266.4" cy="1530.0" r="8.14"/>
<circle class="c15" cx="278.8" cy="1528.7" r="8.14"/>
<circle class="c7" cx="299.5" cy="1528.9" r="8.14"/>
<circle class="c8" cx="283.8" cy="1530.0" r="8.14"/>
<circle class="c8" cx="296.6" cy="1529.7" r="8.14"/>
<circle class="c8" cx="293.8" cy="1529.4" r="8.14"/>
<circle class="c1" cx="304.1" cy="1529.8" r="8.14"/>
<circle class="c8" cx="272.7" cy="1529.8" r="8.14"/>
<circle class="c8" cx="288.6" cy="1527.0" r="8.14"/>
<circle class="c10" cx="265.9" cy="1528.3" r="8.14"/>
<circle class="c3" cx="332.2" cy="1528.5" r="8.14"/>
<circle class="c9" cx="311.7" cy="1527.0" r="8.14"/>
<circle class="c8" cx="263.3" cy="1530.0" r="8.14"/>
<circle class="c8" cx="298.8" cy="1530.0" r="8.14"/>
<circle class="c8" cx="259.0" cy="1529.7" r="8.14"/>
<circle class="c7" cx="274.5" cy="1529.9" r="8.14"/>
<circle class="c8" cx="253.0" cy="1524.7" r="8.14"/>
<circle class="c8" cx="330.7" cy="1530.0" r="8.14"/>
<circle class="c8" cx="327.8" cy="1529.8" r="8.14"/>
<circle class="c8" cx="319.9" cy="1528.2" r="8.14"/>
<circle class="c10" cx="282.9" cy="1528.4" r="8.14"/>
<circle class="c3" cx="324.0" cy="1520.5" r="8.14"/>
<circle class="c8" cx="252.6" cy="1530.0" r="8.14"/>
<circle class="c10" cx="343.0" cy="1529.1" r="8.14"/>
<circle class="c8" cx="285.7" cy="1530.0" r="8.14"/>
<circle class="c8" cx="329.1" cy="1527.6" r="8.14"/>
<circle class="c8" cx="259.9" cy="1527.9" r="8.14"/>
<circle class="c8" cx="253.0" cy="1529.9" r="8.14"/>
<circle class="c8" cx="300.7" cy="1527.2" r="8.14"/>
<circle class="c8" cx="301.4" cy="1530.0" r="8.14"/>
<circle class="c3" cx="258.1" cy="1529.1" r="8.14"/>
<circle class="c1" cx="309.7" cy="1530.0" r="8.14"/>
<circle class="c7" cx="281.2" cy="1527.8" r="8.14"/>
<circle class="c8" cx="338.6" cy="1528.1" r="8.14"/>
<circle class="c7" cx="298.6" cy="1519.9" r="8.14"/>
<circle class="c8" cx="294.6" cy="1530.0" r="8.14"/>
<circle class="c8" cx="305.4" cy="1529.3" r="8.14"/>
<circle class="c8" cx="295.7" cy="1524.8" r="8.14"/>
<circle class="c8" cx="296.1" cy="1528.6" r="8.14"/>
<circle class="c8" cx="312.4" cy="1527.0" r="8.14"/>
<circle class="c8" cx="308.5" cy="1527.8" r="8.14"/>
<circle class="c8" cx="278.0" cy="1530.0" r="8.14"/>
<circle class="c8" cx="316.2" cy="1528.4" r="8.14"/>
<circle class="c7" cx="298.3" cy="1516.4" r="8.14"/>
<circle class="c8" cx="267.4" cy="1530.0" r="8.14"/>
<circle class="c9" cx="286.5" cy="1529.2" r="8.14"/>
<circle class="c7" cx="335.6" cy="1518.2" r="8.14"/>
<circle class="c3" cx="290.7" cy="1523.8" r="8.14"/>
<circle class="c7" cx="284.8" cy="1516.5" r="8.14"/>
<circle class="c8" cx="291.5" cy="1529.0" r="8.14"/>
<circle class="c8" cx="275.1" cy="1530.0" r="8.14"/>
<circle class="c8" cx="285.0" cy="1529.6" r="8.14"/>
<circle class="c7" cx="254.3" cy="1520.9" r="8.14"/>
<circle class="c1" cx="333.1" cy="1529.9" r="8.14"/>
<circle class="c8" cx="297.1" cy="1530.0" r="8.14"/>
<circle class="c8" cx="284.2" cy="1529.9" r="8.14"/>
<circle class="c7" cx="322.2" cy="1529.0" r="8.14"/>
<circle class="c7" cx="334.9" cy="1520.2" r="8.14"/>
<circle class="c6" cx="257.5" cy="1529.0" r="8.14"/>
<circle class="c3" cx="258.0" cy="1530.0" r="8.14"/>
<circle class="c8" cx="271.8" cy="1528.2" r="8.14"/>
<circle class="c8" cx="286.0" cy="1529.9" r="8.14"/>
<circle class="c10" cx="333.0" cy="1529.5" r="8.14"/>
<circle class="c7" cx="269.0" cy="1528.2" r="8.14"/>
<circle class="c8" cx="288.9" cy="1529.8" r="8.14"/>
<circle class="c10" cx="272.9" cy="1529.9" r="8.14"/>
<circle class="c8" cx="267.3" cy="1528.2" r="8.14"/>
<circle class="c6" cx="300.4" cy="1529.4" r="8.14"/>
<circle class="c7" cx="331.2" cy="1527.0" r="8.14"/>
<circle class="c3" cx="290.6" cy="1530.0" r="8.14"/>
<circle class="c10" cx="330.2" cy="1526.9" r="8.14"/>
<circle class="c7" cx="287.7" cy="1529.9" r="8.14"/>
<circle class="c8" cx="318.6" cy="1527.3" r="8.14"/>
<circle class="c8" cx="268.6" cy="1530.0" r="8.14"/>
<circle class="c8" cx="325.4" cy="1529.1" r="8.14"/>
<circle class="c3" cx="275.2" cy="1520.4" r="8.14"/>
<circle class="c8" cx="277.9" cy="1527.9" r="8.14"/>
<circle class="c7" cx="271.2" cy="1530.0" r="8.14"/>
<circle class="c8" cx="339.6" cy="1528.9" r="8.14"/>
<circle class="c8" cx="289.9" cy="1528.3" r="8.14"/>
<circle class="c7" cx="305.6" cy="1528.9" r="8.14"/>
<circle class="c8" cx="301.5" cy="1529.7" r="8.14"/>
<circle class="c8" cx="299.8" cy="1529.8" r="8.14"/>
<circle class="c8" cx="289.0" cy="1529.6" r="8.14"/>
<circle class="c8" cx="303.6" cy="1528.5" r="8.14"/>
<circle class="c8" cx="314.9" cy="1529.7" r="8.14"/>
<circle class="c8" cx="287.1" cy="1529.5" r="8.14"/>
<circle class="c8" cx="328.3" cy="1528.9" r="8.14"/>
<circle class="c8" cx="313.4" cy="1528.2" r="8.14"/>
<circle class="c8" cx="333.2" cy="1529.2" r="8.14"/>
<circle class="c8" cx="334.1" cy="1529.2" r="8.14"/>
<circle class="c8" cx="325.6" cy="1528.1" r="8.14"/>
<circle class="c8" cx="334.0" cy="1528.6" r="8.14"/>
<circle class="c8" cx="309.4" cy="1529.3" r="8.14"/>
<circle class="c8" cx="293.6" cy="1529.9" r="8.14"/>
<circle class="c8" cx="300.8" cy="1529.7" r="8.14"/>
<circle class="c8" cx="334.5" cy="1528.3" r="8.14"/>
<circle class="c8" cx="302.3" cy="1529.5" r="8.14"/>
<circle class="c8" cx="312.5" cy="1529.7" r="8.14"/>
<circle class="c7" cx="301.2" cy="1528.1" r="8.14"/>
<circle class="c7" cx="317.6" cy="1529.5" r="8.14"/>
<circle class="c8" cx="303.9" cy="1529.3" r="8.14"/>
<circle class="c8" cx="308.0" cy="1529.1" r="8.14"/>
<circle class="c5" cx="541.2" cy="1472.5" r="8.14"/>
<circle class="c5" cx="543.6" cy="1488.7" r="8.14"/>
<circle class="c5" cx="523.4" cy="1491.4" r="8.14"/>
<circle class="c4" cx="506.1" cy="1504.4" r="8.14"/>
<circle class="c6" cx="572.1" cy="1509.3" r="8.14"/>
<circle class="c5" cx="543.6" cy="1516.1" r="8.14"/>
<circle class="c4" cx="569.9" cy="1516.6" r="8.14"/>
<circle class="c4" cx="561.9" cy="1514.4" r="8.14"/>
<circle class="c4" cx="558.5" cy="1520.0" r="8.14"/>
<circle class="c5" cx="486.6" cy="1520.6" r="8.14"/>
<circle class="c7" cx="505.3" cy="1518.3" r="8.14"/>
<circle class="c6" cx="511.5" cy="1523.4" r="8.14"/>
<circle class="c7" cx="489.1" cy="1529.9" r="8.14"/>
<circle class="c5" cx="509.3" cy="1530.0" r="8.14"/>
<circle class="c5" cx="565.3" cy="1529.4" r="8.14"/>
<circle class="c5" cx="570.2" cy="1527.5" r="8.14"/>
<circle class="c5" cx="573.1" cy="1528.0" r="8.14"/>
<circle class="c5" cx="515.4" cy="1529.8" r="8.14"/>
<circle class="c5" cx="489.1" cy="1528.8" r="8.14"/>
<circle class="c5" cx="525.5" cy="1526.8" r="8.14"/>
<circle class="c5" cx="520.5" cy="1529.4" r="8.14"/>
<circle class="c5" cx="570.3" cy="1529.0" r="8.14"/>
<circle class="c5" cx="486.9" cy="1529.6" r="8.14"/>
<circle class="c5" cx="525.6" cy="1529.6" r="8.14"/>
<circle class="c5" cx="489.0" cy="1529.9" r="8.14"/>
<circle class="c5" cx="508.8" cy="1530.0" r="8.14"/>
<circle class="c4" cx="568.9" cy="1529.8" r="8.14"/>
<circle class="c6" cx="503.5" cy="1530.0" r="8.14"/>
<circle class="c5" cx="527.6" cy="1530.0" r="8.14"/>
<circle class="c7" cx="503.7" cy="1529.9" r="8.14"/>
<circle class="c5" cx="572.7" cy="1529.9" r="8.14"/>
<circle class="c4" cx="484.8" cy="1528.1" r="8.14"/>
<circle class="c6" cx="541.9" cy="1529.6" r="8.14"/>
<circle class="c4" cx="488.2" cy="1529.5" r="8.14"/>
<circle class="c6" cx="530.9" cy="1528.2" r="8.14"/>
<circle class="c6" cx="543.3" cy="1527.2" r="8.14"/>
<circle class="c5" cx="553.1" cy="1529.7" r="8.14"/>
<circle class="c5" cx="572.7" cy="1528.2" r="8.14"/>
<circle class="c5" cx="504.9" cy="1529.8" r="8.14"/>
<circle class="c5" cx="506.0" cy="1529.7" r="8.14"/>
<circle class="c5" cx="496.2" cy="1529.9" r="8.14"/>
<circle class="c5" cx="505.2" cy="1527.4" r="8.14"/>
<circle class="c5" cx="538.0" cy="1529.7" r="8.14"/>
<circle class="c5" cx="522.3" cy="1529.8" r="8.14"/>
<circle class="c11" cx="551.9" cy="1529.9" r="8.14"/>
<circle class="c5" cx="515.9" cy="1530.0" r="8.14"/>
<circle class="c5" cx="537.5" cy="1530.0" r="8.14"/>
<circle class="c5" cx="544.3" cy="1529.9" r="8.14"/>
<circle class="c5" cx="564.0" cy="1528.0" r="8.14"/>
<circle class="c5" cx="498.6" cy="1530.0" r="8.14"/>
<circle class="c7" cx="495.5" cy="1528.1" r="8.14"/>
<circle class="c6" cx="549.2" cy="1530.0" r="8.14"/>
<circle class="c5" cx="532.3" cy="1530.0" r="8.14"/>
<circle class="c11" cx="525.2" cy="1529.8" r="8.14"/>
<circle class="c6" cx="505.7" cy="1528.9" r="8.14"/>
<circle class="c5" cx="529.9" cy="1530.0" r="8.14"/>
<circle class="c7" cx="510.6" cy="1528.1" r="8.14"/>
<circle class="c5" cx="548.7" cy="1527.1" r="8.14"/>
<circle class="c6" cx="504.6" cy="1529.6" r="8.14"/>
<circle class="c5" cx="517.4" cy="1529.3" r="8.14"/>
<circle class="c5" cx="508.0" cy="1529.8" r="8.14"/>
<circle class="c5" cx="568.3" cy="1530.0" r="8.14"/>
<circle class="c5" cx="558.5" cy="1527.8" r="8.14"/>
<circle class="c5" cx="522.9" cy="1529.9" r="8.14"/>
<circle class="c5" cx="492.9" cy="1530.0" r="8.14"/>
<circle class="c2" cx="520.4" cy="1529.8" r="8.14"/>
<circle class="c5" cx="571.3" cy="1529.5" r="8.14"/>
<circle class="c5" cx="506.4" cy="1530.0" r="8.14"/>
<circle class="c5" cx="512.0" cy="1530.0" r="8.14"/>
<circle class="c5" cx="554.2" cy="1529.1" r="8.14"/>
<circle class="c11" cx="518.6" cy="1530.0" r="8.14"/>
<circle class="c5" cx="548.2" cy="1529.2" r="8.14"/>
<circle class="c5" cx="486.2" cy="1527.4" r="8.14"/>
<circle class="c5" cx="566.6" cy="1528.8" r="8.14"/>
<circle class="c2" cx="484.3" cy="1530.2" r="8.14"/>
<circle class="c11" cx="539.3" cy="1526.3" r="8.14"/>
<circle class="c5" cx="547.2" cy="1529.1" r="8.14"/>
<circle class="c12" cx="488.3" cy="1529.7" r="8.14"/>
<circle class="c4" cx="571.0" cy="1529.7" r="8.14"/>
<circle class="c6" cx="790.1" cy="1470.2" r="8.14"/>
<circle class="c4" cx="724.5" cy="1493.1" r="8.14"/>
<circle class="c6" cx="744.1" cy="1496.3" r="8.14"/>
<circle class="c6" cx="731.9" cy="1504.2" r="8.14"/>
<circle class="c6" cx="764.3" cy="1512.1" r="8.14"/>
<circle class="c6" cx="749.8" cy="1516.6" r="8.14"/>
<circle class="c4" cx="721.5" cy="1511.5" r="8.14"/>
<circle class="c4" cx="730.5" cy="1513.2" r="8.14"/>
<circle class="c4" cx="716.3" cy="1517.8" r="8.14"/>
<circle class="c4" cx="776.9" cy="1516.6" r="8.14"/>
<circle class="c4" cx="796.8" cy="1515.5" r="8.14"/>
<circle class="c4" cx="798.5" cy="1520.0" r="8.14"/>
<circle class="c5" cx="796.2" cy="1524.6" r="8.14"/>
<circle class="c5" cx="752.0" cy="1528.0" r="8.14"/>
<circle class="c6" cx="726.0" cy="1528.0" r="8.14"/>
<circle class="c4" cx="754.2" cy="1520.7" r="8.14"/>
<circle class="c5" cx="797.0" cy="1530.0" r="8.14"/>
<circle class="c4" cx="773.5" cy="1523.5" r="8.14"/>
<circle class="c4" cx="732.9" cy="1529.5" r="8.14"/>
<circle class="c4" cx="766.2" cy="1529.5" r="8.14"/>
<circle class="c5" cx="804.9" cy="1530.0" r="8.14"/>
<circle class="c4" cx="758.1" cy="1527.0" r="8.14"/>
<circle class="c4" cx="756.6" cy="1529.9" r="8.14"/>
<circle class="c4" cx="730.4" cy="1528.7" r="8.14"/>
<circle class="c4" cx="775.2" cy="1527.9" r="8.14"/>
<circle class="c6" cx="742.2" cy="1529.9" r="8.14"/>
<circle class="c4" cx="771.9" cy="1529.9" r="8.14"/>
<circle class="c4" cx="718.3" cy="1529.7" r="8.14"/>
<circle class="c4" cx="723.9" cy="1528.5" r="8.14"/>
<circle class="c4" cx="783.7" cy="1526.8" r="8.14"/>
<circle class="c4" cx="752.0" cy="1529.9" r="8.14"/>
<circle class="c4" cx="722.5" cy="1530.0" r="8.14"/>
<circle class="c4" cx="720.9" cy="1522.7" r="8.14"/>
<circle class="c4" cx="764.5" cy="1529.9" r="8.14"/>
<circle class="c4" cx="740.7" cy="1528.0" r="8.14"/>
<circle class="c4" cx="781.2" cy="1529.0" r="8.14"/>
<circle class="c4" cx="751.5" cy="1530.0" r="8.14"/>
<circle class="c4" cx="734.3" cy="1527.7" r="8.14"/>
<circle class="c6" cx="758.5" cy="1530.0" r="8.14"/>
<circle class="c4" cx="730.8" cy="1526.7" r="8.14"/>
<circle class="c4" cx="724.0" cy="1529.9" r="8.14"/>
<circle class="c4" cx="776.4" cy="1529.5" r="8.14"/>
<circle class="c6" cx="720.6" cy="1527.6" r="8.14"/>
<circle class="c4" cx="720.7" cy="1519.9" r="8.14"/>
<circle class="c4" cx="781.4" cy="1530.0" r="8.14"/>
<circle class="c5" cx="749.8" cy="1529.8" r="8.14"/>
<circle class="c4" cx="789.8" cy="1528.0" r="8.14"/>
<circle class="c5" cx="790.7" cy="1526.9" r="8.14"/>
<circle class="c4" cx="779.0" cy="1528.0" r="8.14"/>
<circle class="c4" cx="750.4" cy="1529.7" r="8.14"/>
<circle class="c4" cx="720.1" cy="1526.0" r="8.14"/>
<circle class="c4" cx="777.1" cy="1528.1" r="8.14"/>
<circle class="c5" cx="791.1" cy="1529.0" r="8.14"/>
<circle class="c6" cx="801.1" cy="1527.3" r="8.14"/>
<circle class="c4" cx="753.3" cy="1530.0" r="8.14"/>
<circle class="c4" cx="722.6" cy="1530.0" r="8.14"/>
<circle class="c4" cx="749.8" cy="1529.2" r="8.14"/>
<circle class="c4" cx="783.8" cy="1527.5" r="8.14"/>
<circle class="c4" cx="763.2" cy="1529.1" r="8.14"/>
<circle class="c6" cx="749.9" cy="1525.3" r="8.14"/>
<circle class="c4" cx="726.6" cy="1528.7" r="8.14"/>
<circle class="c4" cx="765.6" cy="1529.9" r="8.14"/>
<circle class="c4" cx="758.9" cy="1526.1" r="8.14"/>
<circle class="c4" cx="746.4" cy="1529.9" r="8.14"/>
<circle class="c5" cx="774.9" cy="1527.1" r="8.14"/>
<circle class="c4" cx="768.1" cy="1529.6" r="8.14"/>
<circle class="c4" cx="730.7" cy="1528.8" r="8.14"/>
<circle class="c4" cx="721.3" cy="1530.0" r="8.14"/>
<circle class="c4" cx="802.3" cy="1529.7" r="8.14"/>
<circle class="c4" cx="803.8" cy="1529.1" r="8.14"/>
<circle class="c4" cx="775.7" cy="1528.1" r="8.14"/>
<circle class="c4" cx="747.5" cy="1530.0" r="8.14"/>
<circle class="c4" cx="805.1" cy="1526.1" r="8.14"/>
<circle class="c4" cx="744.2" cy="1520.4" r="8.14"/>
<circle class="c4" cx="752.7" cy="1527.9" r="8.14"/>
<circle class="c6" cx="784.4" cy="1530.0" r="8.14"/>
<circle class="c4" cx="726.9" cy="1530.0" r="8.14"/>
<circle class="c4" cx="792.4" cy="1530.0" r="8.14"/>
<circle class="c4" cx="741.0" cy="1529.9" r="8.14"/>
<circle class="c4" cx="739.5" cy="1527.1" r="8.14"/>
<circle class="c5" cx="750.6" cy="1529.6" r="8.14"/>
<circle class="c4" cx="719.5" cy="1530.0" r="8.14"/>
<circle class="c4" cx="732.8" cy="1529.5" r="8.14"/>
<circle class="c6" cx="744.8" cy="1529.4" r="8.14"/>
<circle class="c5" cx="758.5" cy="1527.4" r="8.14"/>
<circle class="c5" cx="776.0" cy="1527.1" r="8.14"/>
<circle class="c6" cx="717.9" cy="1525.0" r="8.14"/>
<circle class="c4" cx="753.7" cy="1530.0" r="8.14"/>
<circle class="c4" cx="728.7" cy="1527.8" r="8.14"/>
<circle class="c4" cx="721.2" cy="1529.9" r="8.14"/>
<circle class="c5" cx="753.7" cy="1529.5" r="8.14"/>
<circle class="c4" cx="753.0" cy="1527.9" r="8.14"/>
<circle class="c4" cx="800.5" cy="1530.0" r="8.14"/>
<circle class="c4" cx="738.2" cy="1529.1" r="8.14"/>
<circle class="c4" cx="777.4" cy="1528.8" r="8.14"/>
<circle class="c4" cx="746.1" cy="1529.9" r="8.14"/>
<circle class="c4" cx="760.3" cy="1526.4" r="8.14"/>
<circle class="c4" cx="731.3" cy="1529.8" r="8.14"/>
<circle class="c5" cx="742.8" cy="1527.2" r="8.14"/>
<circle class="c4" cx="764.1" cy="1529.6" r="8.14"/>
<circle class="c4" cx="726.2" cy="1529.7" r="8.14"/>
<circle class="c4" cx="801.3" cy="1530.0" r="8.14"/>
<circle class="c4" cx="752.8" cy="1528.9" r="8.14"/>
<circle class="c4" cx="772.5" cy="1529.0" r="8.14"/>
<circle class="c4" cx="777.4" cy="1526.1" r="8.14"/>
<circle class="c4" cx="750.2" cy="1529.8" r="8.14"/>
<circle class="c4" cx="758.8" cy="1530.0" r="8.14"/>
<circle class="c6" cx="794.7" cy="1530.0" r="8.14"/>
<circle class="c4" cx="735.6" cy="1529.0" r="8.14"/>
<circle class="c4" cx="787.6" cy="1528.2" r="8.14"/>
<circle class="c5" cx="758.1" cy="1529.8" r="8.14"/>
<circle class="c4" cx="796.9" cy="1530.0" r="8.14"/>
<circle class="c4" cx="784.6" cy="1518.5" r="8.14"/>
<circle class="c4" cx="734.1" cy="1529.1" r="8.14"/>
<circle class="c4" cx="751.1" cy="1527.9" r="8.14"/>
<circle class="c4" cx="805.9" cy="1528.0" r="8.14"/>
<circle class="c4" cx="759.6" cy="1528.7" r="8.14"/>
<circle class="c4" cx="719.0" cy="1527.7" r="8.14"/>
<circle class="c4" cx="797.1" cy="1528.1" r="8.14"/>
<circle class="c4" cx="769.9" cy="1528.6" r="8.14"/>
<circle class="c4" cx="719.6" cy="1529.7" r="8.14"/>
<circle class="c4" cx="731.3" cy="1527.6" r="8.14"/>
<circle class="c4" cx="719.4" cy="1529.7" r="8.14"/>
<circle class="c4" cx="720.5" cy="1529.8" r="8.14"/>
<circle class="c4" cx="794.5" cy="1528.2" r="8.14"/>
<circle class="c4" cx="803.5" cy="1528.7" r="8.14"/>
<circle class="c4" cx="796.7" cy="1528.2" r="8.14"/>
<circle class="c4" cx="751.5" cy="1529.4" r="8.14"/>
<circle class="c3" cx="992.1" cy="1264.8" r="8.14"/>
<circle class="c3" cx="959.2" cy="1275.9" r="8.14"/>
<circle class="c7" cx="996.5" cy="1405.9" r="8.14"/>
<circle class="c12" cx="1008.7" cy="1437.7" r="8.14"/>
<circle class="c10" cx="1015.1" cy="1442.9" r="8.14"/>
<circle class="c10" cx="1012.2" cy="1450.3" r="8.14"/>
<circle class="c3" cx="1018.5" cy="1458.6" r="8.14"/>
<circle class="c3" cx="1027.9" cy="1467.6" r="8.14"/>
<circle class="c5" cx="951.5" cy="1459.7" r="8.14"/>
<circle class="c3" cx="964.5" cy="1466.0" r="8.14"/>
<circle class="c13" cx="971.8" cy="1471.2" r="8.14"/>
<circle class="c3" cx="969.7" cy="1475.4" r="8.14"/>
<circle class="c11" cx="952.3" cy="1484.2" r="8.14"/>
<circle class="c2" cx="950.9" cy="1490.0" r="8.14"/>
<circle class="c8" cx="965.5" cy="1478.5" r="8.14"/>
<circle class="c6" cx="1016.8" cy="1484.2" r="8.14"/>
<circle class="c4" cx="1039.9" cy="1484.8" r="8.14"/>
<circle class="c8" cx="1037.7" cy="1489.0" r="8.14"/>
<circle class="c8" cx="1033.6" cy="1492.1" r="8.14"/>
<circle class="c4" cx="991.7" cy="1485.9" r="8.14"/>
<circle class="c4" cx="1000.1" cy="1486.9" r="8.14"/>
<circle class="c4" cx="1008.4" cy="1489.0" r="8.14"/>
<circle class="c4" cx="1000.1" cy="1496.3" r="8.14"/>
<circle class="c7" cx="977.0" cy="1492.1" r="8.14"/>
<circle class="c7" cx="956.1" cy="1494.2" r="8.14"/>
<circle class="c4" cx="989.4" cy="1519.5" r="8.14"/>
<circle class="c1" cx="993.7" cy="1512.6" r="8.14"/>
<circle class="c4" cx="970.3" cy="1526.6" r="8.14"/>
<circle class="c7" cx="1003.8" cy="1529.9" r="8.14"/>
<circle class="c8" cx="1033.6" cy="1523.1" r="8.14"/>
<circle class="c5" cx="1027.8" cy="1514.5" r="8.14"/>
<circle class="c7" cx="1020.2" cy="1525.0" r="8.14"/>
<circle class="c13" cx="1023.1" cy="1528.7" r="8.14"/>
<circle class="c1" cx="958.2" cy="1506.6" r="8.14"/>
<circle class="c6" cx="959.9" cy="1522.5" r="8.14"/>
<circle class="c4" cx="979.4" cy="1505.7" r="8.14"/>
<circle class="c13" cx="1002.0" cy="1529.6" r="8.14"/>
<circle class="c4" cx="1000.6" cy="1523.2" r="8.14"/>
<circle class="c6" cx="995.3" cy="1516.5" r="8.14"/>
<circle class="c2" cx="1019.3" cy="1496.2" r="8.14"/>
<circle class="c13" cx="1008.2" cy="1525.5" r="8.14"/>
<circle class="c3" cx="951.7" cy="1500.6" r="8.14"/>
<circle class="c4" cx="1001.6" cy="1504.1" r="8.14"/>
<circle class="c1" cx="953.8" cy="1529.8" r="8.14"/>
<circle class="c3" cx="1007.3" cy="1529.8" r="8.14"/>
<circle class="c4" cx="991.1" cy="1530.0" r="8.14"/>
<circle class="c5" cx="1006.1" cy="1529.4" r="8.14"/>
<circle class="c6" cx="985.2" cy="1529.1" r="8.14"/>
<circle class="c4" cx="1015.0" cy="1529.9" r="8.14"/>
<circle class="c1" cx="957.5" cy="1498.5" r="8.14"/>
<circle class="c3" cx="962.8" cy="1527.6" r="8.14"/>
<circle class="c8" cx="961.4" cy="1527.7" r="8.14"/>
<circle class="c6" cx="967.8" cy="1510.3" r="8.14"/>
<circle class="c5" cx="1016.8" cy="1529.1" r="8.14"/>
<circle class="c1" cx="972.9" cy="1527.0" r="8.14"/>
<circle class="c5" cx="961.3" cy="1500.4" r="8.14"/>
<circle class="c13" cx="1030.1" cy="1528.9" r="8.14"/>
<circle class="c4" cx="1030.8" cy="1521.3" r="8.14"/>
<circle class="c4" cx="987.4" cy="1529.9" r="8.14"/>
<circle class="c4" cx="956.2" cy="1523.8" r="8.14"/>
<circle class="c0" cx="1028.0" cy="1525.0" r="8.14"/>
<circle class="c5" cx="1013.1" cy="1528.8" r="8.14"/>
<circle class="c3" cx="992.1" cy="1503.6" r="8.14"/>
<circle class="c5" cx="1007.0" cy="1528.5" r="8.14"/>
<circle class="c1" cx="962.8" cy="1530.0" r="8.14"/>
<circle class="c6" cx="1020.2" cy="1527.3" r="8.14"/>
<circle class="c4" cx="1005.8" cy="1529.9" r="8.14"/>
<circle class="c0" cx="950.5" cy="1515.1" r="8.14"/>
<circle class="c5" cx="995.9" cy="1522.6" r="8.14"/>
<circle class="c1" cx="1024.3" cy="1523.7" r="8.14"/>
<circle class="c6" cx="993.5" cy="1524.5" r="8.14"/>
<circle class="c2" cx="951.9" cy="1523.5" r="8.14"/>
<circle class="c11" cx="988.2" cy="1520.9" r="8.14"/>
<circle class="c13" cx="1033.1" cy="1524.7" r="8.14"/>
<circle class="c4" cx="979.6" cy="1504.3" r="8.14"/>
<circle class="c6" cx="972.0" cy="1496.7" r="8.14"/>
<circle class="c8" cx="952.4" cy="1526.6" r="8.14"/>
<circle class="c13" cx="1029.9" cy="1528.6" r="8.14"/>
<circle class="c4" cx="1018.0" cy="1529.5" r="8.14"/>
<circle class="c1" cx="971.9" cy="1525.1" r="8.14"/>
<circle class="c5" cx="961.3" cy="1529.9" r="8.14"/>
<circle class="c5" cx="1015.3" cy="1527.6" r="8.14"/>
<circle class="c5" cx="976.7" cy="1528.9" r="8.14"/>
<circle class="c3" cx="1003.1" cy="1525.1" r="8.14"/>
<circle class="c8" cx="1038.7" cy="1530.0" r="8.14"/>
<circle class="c5" cx="1019.4" cy="1528.6" r="8.14"/>
<circle class="c2" cx="1014.4" cy="1530.0" r="8.14"/>
<circle class="c4" cx="1012.5" cy="1515.6" r="8.14"/>
<circle class="c2" cx="1023.9" cy="1530.0" r="8.14"/>
<circle class="c7" cx="1020.6" cy="1529.7" r="8.14"/>
<circle class="c3" cx="987.8" cy="1529.8" r="8.14"/>
<circle class="c11" cx="983.6" cy="1530.0" r="8.14"/>
<circle class="c13" cx="1008.5" cy="1528.9" r="8.14"/>
<circle class="c4" cx="1033.6" cy="1496.8" r="8.14"/>
<circle class="c6" cx="975.4" cy="1529.5" r="8.14"/>
<circle class="c2" cx="950.0" cy="1516.6" r="8.14"/>
<circle class="c6" cx="1024.3" cy="1525.2" r="8.14"/>
<circle class="c13" cx="1004.0" cy="1526.6" r="8.14"/>
<circle class="c0" cx="1016.9" cy="1530.0" r="8.14"/>
<circle class="c8" cx="1037.5" cy="1528.9" r="8.14"/>
<circle class="c7" cx="959.6" cy="1515.9" r="8.14"/>
<circle class="c6" cx="993.9" cy="1529.4" r="8.14"/>
<circle class="c0" cx="971.7" cy="1526.1" r="8.14"/>
<circle class="c6" cx="973.3" cy="1529.4" r="8.14"/>
<circle class="c0" cx="984.6" cy="1515.5" r="8.14"/>
<circle class="c4" cx="962.4" cy="1530.0" r="8.14"/>
<circle class="c3" cx="957.9" cy="1529.7" r="8.14"/>
<circle class="c4" cx="1015.0" cy="1527.0" r="8.14"/>
<circle class="c7" cx="949.7" cy="1510.0" r="8.14"/>
<circle class="c4" cx="955.8" cy="1523.5" r="8.14"/>
<circle class="c11" cx="965.8" cy="1529.8" r="8.14"/>
<circle class="c5" cx="972.8" cy="1501.3" r="8.14"/>
<circle class="c5" cx="1020.6" cy="1527.9" r="8.14"/>
<circle class="c4" cx="950.0" cy="1528.8" r="8.14"/>
<circle class="c15" cx="1022.0" cy="1530.0" r="8.14"/>
<circle class="c7" cx="1004.3" cy="1523.4" r="8.14"/>
<circle class="c8" cx="1002.5" cy="1524.3" r="8.14"/>
<circle class="c7" cx="1018.7" cy="1523.8" r="8.14"/>
<circle class="c4" cx="1023.0" cy="1528.7" r="8.14"/>
<circle class="c4" cx="950.5" cy="1516.2" r="8.14"/>
<circle class="c4" cx="983.9" cy="1530.0" r="8.14"/>
<circle class="c7" cx="997.8" cy="1529.1" r="8.14"/>
<circle class="c7" cx="951.7" cy="1526.5" r="8.14"/>
<circle class="c4" cx="1015.4" cy="1529.9" r="8.14"/>
<circle class="c1" cx="1027.4" cy="1503.9" r="8.14"/>
<circle class="c4" cx="970.3" cy="1523.9" r="8.14"/>
<circle class="c8" cx="1012.3" cy="1527.8" r="8.14"/>
<circle class="c13" cx="986.9" cy="1519.6" r="8.14"/>
<circle class="c4" cx="1038.3" cy="1511.2" r="8.14"/>
<circle class="c5" cx="1005.2" cy="1529.5" r="8.14"/>
<circle class="c11" cx="952.7" cy="1530.0" r="8.14"/>
<circle class="c11" cx="1038.8" cy="1520.2" r="8.14"/>
<circle class="c4" cx="972.1" cy="1521.9" r="8.14"/>
<circle class="c1" cx="999.1" cy="1526.7" r="8.14"/>
<circle class="c7" cx="1019.0" cy="1530.0" r="8.14"/>
<circle class="c5" cx="976.1" cy="1529.9" r="8.14"/>
<circle class="c3" cx="983.8" cy="1530.0" r="8.14"/>
<circle class="c15" cx="988.5" cy="1530.0" r="8.14"/>
<circle class="c3" cx="982.4" cy="1524.0" r="8.14"/>
<circle class="c1" cx="989.8" cy="1511.9" r="8.14"/>
<circle class="c5" cx="976.1" cy="1529.9" r="8.14"/>
<circle class="c6" cx="991.8" cy="1529.8" r="8.14"/>
<circle class="c5" cx="959.7" cy="1522.1" r="8.14"/>
<circle class="c8" cx="949.2" cy="1526.9" r="8.14"/>
<circle class="c3" cx="1006.6" cy="1529.6" r="8.14"/>
<circle class="c2" cx="988.2" cy="1523.7" r="8.14"/>
<circle class="c2" cx="1023.8" cy="1524.0" r="8.14"/>
<circle class="c1" cx="1024.5" cy="1530.0" r="8.14"/>
<circle class="c15" cx="952.0" cy="1530.0" r="8.14"/>
<circle class="c1" cx="1012.1" cy="1529.6" r="8.14"/>
<circle class="c4" cx="1020.6" cy="1526.4" r="8.14"/>
<circle class="c8" cx="1022.2" cy="1511.7" r="8.14"/>
<circle class="c4" cx="992.9" cy="1526.9" r="8.14"/>
<circle class="c6" cx="953.6" cy="1526.1" r="8.14"/>
<circle class="c1" cx="1010.3" cy="1522.3" r="8.14"/>
<circle class="c3" cx="951.2" cy="1528.8" r="8.14"/>
<circle class="c0" cx="987.4" cy="1505.6" r="8.14"/>
<circle class="c4" cx="996.6" cy="1526.0" r="8.14"/>
<circle class="c13" cx="973.3" cy="1524.1" r="8.14"/>
<circle class="c1" cx="948.8" cy="1529.9" r="8.14"/>
<circle class="c5" cx="954.9" cy="1515.4" r="8.14"/>
<circle class="c8" cx="953.8" cy="1495.7" r="8.14"/>
<circle class="c5" cx="960.1" cy="1529.1" r="8.14"/>
<circle class="c4" cx="1037.3" cy="1529.4" r="8.14"/>
<circle class="c8" cx="956.6" cy="1525.6" r="8.14"/>
<circle class="c5" cx="1010.9" cy="1530.0" r="8.14"/>
<circle class="c13" cx="1031.7" cy="1504.5" r="8.14"/>
<circle class="c11" cx="954.1" cy="1529.9" r="8.14"/>
<circle class="c4" cx="1033.2" cy="1528.5" r="8.14"/>
<circle class="c7" cx="1035.6" cy="1511.4" r="8.14"/>
<circle class="c4" cx="1023.0" cy="1522.6" r="8.14"/>
<circle class="c13" cx="953.6" cy="1508.1" r="8.14"/>
<circle class="c5" cx="949.8" cy="1529.7" r="8.14"/>
<circle class="c13" cx="1030.9" cy="1499.7" r="8.14"/>
<circle class="c0" cx="965.9" cy="1530.0" r="8.14"/>
<circle class="c7" cx="950.2" cy="1530.0" r="8.14"/>
<circle class="c4" cx="984.3" cy="1527.5" r="8.14"/>
<circle class="c4" cx="980.1" cy="1527.7" r="8.14"/>
<circle class="c13" cx="999.0" cy="1530.0" r="8.14"/>
<circle class="c13" cx="963.2" cy="1529.2" r="8.14"/>
<circle class="c4" cx="999.0" cy="1508.5" r="8.14"/>
<circle class="c4" cx="1038.8" cy="1496.4" r="8.14"/>
<circle class="c5" cx="1032.2" cy="1529.1" r="8.14"/>
<circle class="c1" cx="1031.8" cy="1528.4" r="8.14"/>
<circle class="c1" cx="1006.2" cy="1518.7" r="8.14"/>
<circle class="c15" cx="1000.7" cy="1524.2" r="8.14"/>
<circle class="c3" cx="1012.0" cy="1528.8" r="8.14"/>
<circle class="c4" cx="1031.4" cy="1497.4" r="8.14"/>
<circle class="c2" cx="1014.3" cy="1529.9" r="8.14"/>
<circle class="c4" cx="965.8" cy="1529.0" r="8.14"/>
<circle class="c13" cx="1019.3" cy="1530.0" r="8.14"/>
<circle class="c4" cx="996.1" cy="1529.8" r="8.14"/>
<circle class="c5" cx="1003.5" cy="1530.0" r="8.14"/>
<circle class="c4" cx="1013.9" cy="1501.3" r="8.14"/>
<circle class="c1" cx="1008.3" cy="1525.8" r="8.14"/>
<circle class="c1" cx="1033.4" cy="1528.5" r="8.14"/>
<circle class="c5" cx="982.7" cy="1527.1" r="8.14"/>
<circle class="c7" cx="982.9" cy="1526.6" r="8.14"/>
<circle class="c13" cx="1006.4" cy="1529.0" r="8.14"/>
<circle class="c1" cx="1012.4" cy="1530.0" r="8.14"/>
<circle class="c1" cx="977.5" cy="1529.8" r="8.14"/>
<circle class="c7" cx="966.6" cy="1527.1" r="8.14"/>
<circle class="c6" cx="991.3" cy="1528.8" r="8.14"/>
<circle class="c7" cx="967.9" cy="1528.5" r="8.14"/>
<circle class="c8" cx="1012.6" cy="1529.9" r="8.14"/>
<circle class="c5" cx="1037.9" cy="1526.0" r="8.14"/>
<circle class="c1" cx="1000.2" cy="1529.4" r="8.14"/>
<circle class="c8" cx="1025.2" cy="1520.9" r="8.14"/>
<circle class="c15" cx="983.3" cy="1508.6" r="8.14"/>
<circle class="c6" cx="953.5" cy="1502.4" r="8.14"/>
<circle class="c1" cx="1014.3" cy="1530.0" r="8.14"/>
<circle class="c1" cx="1028.0" cy="1517.1" r="8.14"/>
<circle class="c1" cx="953.1" cy="1529.2" r="8.14"/>
<circle class="c4" cx="965.2" cy="1523.1" r="8.14"/>
<circle class="c0" cx="957.9" cy="1528.1" r="8.14"/>
<circle class="c5" cx="1023.9" cy="1529.9" r="8.14"/>
<circle class="c6" cx="1020.0" cy="1525.9" r="8.14"/>
<circle class="c1" cx="1023.9" cy="1528.3" r="8.14"/>
<circle class="c5" cx="995.9" cy="1525.2" r="8.14"/>
<circle class="c5" cx="967.8" cy="1527.8" r="8.14"/>
<circle class="c5" cx="1015.3" cy="1524.9" r="8.14"/>
<circle class="c13" cx="961.8" cy="1528.5" r="8.14"/>
<circle class="c1" cx="1008.3" cy="1526.3" r="8.14"/>
<circle class="c6" cx="963.9" cy="1520.9" r="8.14"/>
<circle class="c5" cx="996.1" cy="1526.6" r="8.14"/>
<circle class="c8" cx="1033.1" cy="1529.8" r="8.14"/>
<circle class="c13" cx="959.4" cy="1530.0" r="8.14"/>
<circle class="c3" cx="975.8" cy="1510.0" r="8.14"/>
<circle class="c1" cx="961.6" cy="1530.0" r="8.14"/>
<circle class="c3" cx="958.3" cy="1529.7" r="8.14"/>
<circle class="c4" cx="968.8" cy="1524.2" r="8.14"/>
<circle class="c4" cx="984.8" cy="1513.0" r="8.14"/>
<circle class="c5" cx="1000.9" cy="1529.8" r="8.14"/>
<circle class="c4" cx="1012.2" cy="1524.7" r="8.14"/>
<circle class="c2" cx="1001.3" cy="1529.9" r="8.14"/>
<circle class="c4" cx="1037.7" cy="1521.8" r="8.14"/>
<circle class="c5" cx="971.4" cy="1528.8" r="8.14"/>
<circle class="c7" cx="953.8" cy="1500.0" r="8.14"/>
<circle class="c5" cx="1016.1" cy="1529.3" r="8.14"/>
<circle class="c3" cx="955.5" cy="1525.7" r="8.14"/>
<circle class="c3" cx="1032.7" cy="1515.0" r="8.14"/>
<circle class="c4" cx="995.9" cy="1529.8" r="8.14"/>
<circle class="c4" cx="1010.8" cy="1530.0" r="8.14"/>
<circle class="c8" cx="979.4" cy="1528.8" r="8.14"/>
<circle class="c11" cx="959.7" cy="1527.9" r="8.14"/>
<circle class="c6" cx="1027.5" cy="1527.4" r="8.14"/>
<circle class="c0" cx="985.9" cy="1529.3" r="8.14"/>
<circle class="c4" cx="949.6" cy="1528.2" r="8.14"/>
<circle class="c15" cx="969.0" cy="1529.9" r="8.14"/>
<circle class="c1" cx="967.4" cy="1529.5" r="8.14"/>
<circle class="c0" cx="1023.1" cy="1506.1" r="8.14"/>
<circle class="c13" cx="983.7" cy="1529.6" r="8.14"/>
<circle class="c7" cx="1019.8" cy="1529.6" r="8.14"/>
<circle class="c7" cx="999.8" cy="1529.5" r="8.14"/>
<circle class="c13" cx="1026.1" cy="1529.9" r="8.14"/>
<circle class="c4" cx="952.0" cy="1522.6" r="8.14"/>
<circle class="c5" cx="1031.2" cy="1528.0" r="8.14"/>
<circle class="c13" cx="1006.8" cy="1529.3" r="8.14"/>
<circle class="c1" cx="1036.3" cy="1529.9" r="8.14"/>
<circle class="c2" cx="1017.3" cy="1524.2" r="8.14"/>
<circle class="c3" cx="1004.3" cy="1526.4" r="8.14"/>
<circle class="c13" cx="999.0" cy="1529.6" r="8.14"/>
<circle class="c4" cx="995.8" cy="1526.0" r="8.14"/>
<circle class="c5" cx="995.1" cy="1525.4" r="8.14"/>
<circle class="c4" cx="1006.7" cy="1530.0" r="8.14"/>
<circle class="c2" cx="950.8" cy="1489.3" r="8.14"/>
<circle class="c8" cx="967.9" cy="1480.1" r="8.14"/>
<circle class="c7" cx="976.4" cy="1492.9" r="8.14"/>
<circle class="c7" cx="958.1" cy="1494.1" r="8.14"/>
<circle class="c4" cx="991.1" cy="1485.6" r="8.14"/>
<circle class="c4" cx="1000.2" cy="1486.2" r="8.14"/>
<circle class="c4" cx="988.6" cy="1488.7" r="8.14"/>
<circle class="c3" cx="1006.3" cy="1490.5" r="8.14"/>
<circle class="c3" cx="1001.4" cy="1496.6" r="8.14"/>
<circle class="c6" cx="1016.7" cy="1484.4" r="8.14"/>
<circle class="c6" cx="1017.9" cy="1488.0" r="8.14"/>
<circle class="c4" cx="1039.9" cy="1484.4" r="8.14"/>
<circle class="c9" cx="1038.6" cy="1486.8" r="8.14"/>
<circle class="c8" cx="1036.8" cy="1489.3" r="8.14"/>
<circle class="c7" cx="1033.8" cy="1492.3" r="8.14"/>
<circle class="c13" cx="953.3" cy="1494.1" r="8.14"/>
<circle class="c1" cx="960.6" cy="1494.1" r="8.14"/>
<circle class="c5" cx="960.6" cy="1499.6" r="8.14"/>
<circle class="c6" cx="951.4" cy="1502.7" r="8.14"/>
<circle class="c7" cx="970.3" cy="1503.9" r="8.14"/>
<circle class="c1" cx="985.0" cy="1506.3" r="8.14"/>
<circle class="c1" cx="994.1" cy="1504.5" r="8.14"/>
<circle class="c13" cx="1018.5" cy="1505.1" r="8.14"/>
<circle class="c12" cx="1021.6" cy="1503.9" r="8.14"/>
<circle class="c4" cx="1027.7" cy="1497.8" r="8.14"/>
<circle class="c1" cx="1039.9" cy="1499.6" r="8.14"/>
<circle class="c13" cx="1039.9" cy="1497.2" r="8.14"/>
<circle class="c5" cx="1039.9" cy="1508.8" r="8.14"/>
<circle class="c5" cx="1038.6" cy="1514.9" r="8.14"/>
<circle class="c15" cx="950.2" cy="1511.8" r="8.14"/>
<circle class="c4" cx="953.3" cy="1514.9" r="8.14"/>
<circle class="c5" cx="982.5" cy="1511.8" r="8.14"/>
<circle class="c4" cx="991.1" cy="1514.9" r="8.14"/>
<circle class="c4" cx="1000.2" cy="1513.7" r="8.14"/>
<circle class="c0" cx="1015.5" cy="1511.8" r="8.14"/>
<circle class="c1" cx="1016.7" cy="1512.4" r="8.14"/>
<circle class="c1" cx="971.6" cy="1517.9" r="8.14"/>
<circle class="c1" cx="992.9" cy="1521.0" r="8.14"/>
<circle class="c1" cx="1033.8" cy="1521.0" r="8.14"/>
<circle class="c13" cx="963.6" cy="1521.6" r="8.14"/>
<circle class="c0" cx="948.3" cy="1530.0" r="8.14"/>
<circle class="c1" cx="948.3" cy="1530.0" r="8.14"/>
<circle class="c4" cx="951.4" cy="1530.0" r="8.14"/>
<circle class="c4" cx="963.6" cy="1530.0" r="8.14"/>
<circle class="c15" cx="1012.4" cy="1530.7" r="8.14"/>
<circle class="c1" cx="999.0" cy="1530.0" r="8.14"/>
<circle class="c11" cx="1027.7" cy="1530.1" r="8.14"/>
<circle class="c5" cx="1019.7" cy="1525.9" r="8.14"/>
<circle class="c4" cx="1039.9" cy="1530.1" r="8.14"/>
<circle class="c1" cx="1039.9" cy="1527.1" r="8.14"/>
<circle class="c5" cx="979.5" cy="1529.5" r="8.14"/>
<circle class="c3" cx="1242.5" cy="1414.3" r="8.14"/>
<circle class="c8" cx="1262.5" cy="1434.4" r="8.14"/>
<circle class="c3" cx="1224.8" cy="1455.6" r="8.14"/>
<circle class="c3" cx="1181.7" cy="1480.6" r="8.14"/>
<circle class="c3" cx="1224.9" cy="1491.0" r="8.14"/>
<circle class="c3" cx="1246.6" cy="1489.8" r="8.14"/>
<circle class="c7" cx="1248.0" cy="1487.3" r="8.14"/>
<circle class="c14" cx="1239.0" cy="1513.4" r="8.14"/>
<circle class="c4" cx="1206.1" cy="1513.6" r="8.14"/>
<circle class="c7" cx="1208.1" cy="1517.0" r="8.14"/>
<circle class="c8" cx="1183.8" cy="1518.7" r="8.14"/>
<circle class="c8" cx="1221.7" cy="1518.7" r="8.14"/>
<circle class="c2" cx="1233.8" cy="1520.2" r="8.14"/>
<circle class="c4" cx="1219.4" cy="1521.5" r="8.14"/>
<circle class="c8" cx="1257.9" cy="1522.7" r="8.14"/>
<circle class="c8" cx="1268.1" cy="1522.7" r="8.14"/>
<circle class="c0" cx="1260.8" cy="1523.8" r="8.14"/>
<circle class="c6" cx="1187.7" cy="1527.2" r="8.14"/>
<circle class="c8" cx="1180.9" cy="1529.5" r="8.14"/>
<circle class="c3" cx="1186.6" cy="1530.6" r="8.14"/>
<circle class="c9" cx="1209.2" cy="1529.5" r="8.14"/>
<circle class="c10" cx="1231.9" cy="1530.6" r="8.14"/>
<circle class="c8" cx="1243.2" cy="1529.5" r="8.14"/>
<circle class="c8" cx="1260.2" cy="1529.5" r="8.14"/>
<circle class="c4" cx="1214.9" cy="1530.0" r="8.14"/>
<circle class="c14" cx="1222.8" cy="1531.2" r="8.14"/>
<circle class="c4" cx="1269.3" cy="1530.0" r="8.14"/>
<circle class="c8" cx="1197.9" cy="1530.0" r="8.14"/>
<circle class="c9" cx="1204.7" cy="1530.6" r="8.14"/>
<circle class="c9" cx="1237.5" cy="1530.0" r="8.14"/>
<circle class="c7" cx="1252.3" cy="1530.0" r="8.14"/>
<circle class="c10" cx="1226.2" cy="1530.0" r="8.14"/>
<circle class="c8" cx="1247.7" cy="1530.6" r="8.14"/>
<circle class="c6" cx="1448.4" cy="1496.3" r="8.14"/>
<circle class="c4" cx="1497.1" cy="1494.9" r="8.14"/>
<circle class="c5" cx="1465.9" cy="1506.2" r="8.14"/>
<circle class="c4" cx="1480.9" cy="1505.3" r="8.14"/>
<circle class="c5" cx="1497.9" cy="1507.0" r="8.14"/>
<circle class="c4" cx="1500.7" cy="1509.8" r="8.14"/>
<circle class="c5" cx="1436.7" cy="1515.5" r="8.14"/>
<circle class="c4" cx="1433.3" cy="1514.9" r="8.14"/>
<circle class="c5" cx="1483.7" cy="1517.2" r="8.14"/>
<circle class="c6" cx="1418.0" cy="1522.9" r="8.14"/>
<circle class="c4" cx="1456.0" cy="1521.2" r="8.14"/>
<circle class="c4" cx="1470.7" cy="1521.7" r="8.14"/>
<circle class="c4" cx="1486.5" cy="1522.3" r="8.14"/>
<circle class="c6" cx="1442.9" cy="1528.5" r="8.14"/>
<circle class="c4" cx="1445.8" cy="1529.8" r="8.14"/>
<circle class="c5" cx="1490.1" cy="1528.1" r="8.14"/>
<circle class="c5" cx="1500.9" cy="1530.0" r="8.14"/>
<circle class="c4" cx="1440.1" cy="1529.4" r="8.14"/>
<circle class="c5" cx="1413.0" cy="1530.0" r="8.14"/>
<circle class="c4" cx="1499.2" cy="1528.0" r="8.14"/>
<circle class="c4" cx="1431.2" cy="1529.8" r="8.14"/>
<circle class="c5" cx="1497.6" cy="1529.6" r="8.14"/>
<circle class="c4" cx="1433.0" cy="1526.3" r="8.14"/>
<circle class="c4" cx="1473.9" cy="1529.8" r="8.14"/>
<circle class="c4" cx="1466.3" cy="1529.9" r="8.14"/>
<circle class="c4" cx="1420.7" cy="1529.5" r="8.14"/>
<circle class="c4" cx="1441.7" cy="1529.9" r="8.14"/>
<circle class="c5" cx="1418.6" cy="1526.0" r="8.14"/>
<circle class="c5" cx="1414.5" cy="1530.0" r="8.14"/>
<circle class="c5" cx="1463.4" cy="1529.7" r="8.14"/>
<circle class="c5" cx="1445.5" cy="1529.9" r="8.14"/>
<circle class="c5" cx="1415.7" cy="1529.0" r="8.14"/>
<circle class="c4" cx="1483.0" cy="1530.0" r="8.14"/>
<circle class="c5" cx="1438.0" cy="1529.7" r="8.14"/>
<circle class="c4" cx="1496.0" cy="1529.3" r="8.14"/>
<circle class="c5" cx="1460.2" cy="1529.0" r="8.14"/>
<circle class="c6" cx="1489.0" cy="1529.4" r="8.14"/>
<circle class="c4" cx="1418.5" cy="1527.1" r="8.14"/>
<circle class="c4" cx="1494.6" cy="1526.9" r="8.14"/>
<circle class="c5" cx="1419.2" cy="1527.7" r="8.14"/>
<circle class="c5" cx="1479.7" cy="1529.1" r="8.14"/>
<circle class="c6" cx="1479.0" cy="1528.7" r="8.14"/>
<circle class="c5" cx="1470.4" cy="1530.0" r="8.14"/>
<circle class="c4" cx="1500.9" cy="1526.5" r="8.14"/>
<circle class="c5" cx="1449.9" cy="1529.7" r="8.14"/>
<circle class="c4" cx="1431.9" cy="1526.5" r="8.14"/>
<circle class="c4" cx="1425.0" cy="1526.5" r="8.14"/>
<circle class="c4" cx="1483.3" cy="1530.0" r="8.14"/>
<circle class="c5" cx="1487.7" cy="1529.8" r="8.14"/>
<circle class="c5" cx="1472.4" cy="1529.8" r="8.14"/>
<circle class="c4" cx="1444.8" cy="1529.9" r="8.14"/>
<circle class="c5" cx="1501.7" cy="1529.7" r="8.14"/>
<circle class="c4" cx="1459.7" cy="1530.0" r="8.14"/>
<circle class="c5" cx="1471.9" cy="1527.5" r="8.14"/>
<circle class="c4" cx="1444.9" cy="1527.4" r="8.14"/>
<circle class="c5" cx="1496.7" cy="1528.8" r="8.14"/>
<circle class="c4" cx="1448.7" cy="1529.6" r="8.14"/>
<circle class="c5" cx="1490.5" cy="1527.3" r="8.14"/>
<circle class="c5" cx="1446.8" cy="1530.0" r="8.14"/>
<circle class="c4" cx="1439.0" cy="1529.9" r="8.14"/>
<circle class="c4" cx="1436.8" cy="1526.3" r="8.14"/>
<circle class="c5" cx="1444.6" cy="1529.5" r="8.14"/>
<circle class="c4" cx="1416.4" cy="1529.9" r="8.14"/>
<circle class="c4" cx="1457.1" cy="1530.0" r="8.14"/>
<circle class="c4" cx="1473.1" cy="1528.9" r="8.14"/>
<circle class="c4" cx="1433.0" cy="1530.0" r="8.14"/>
<circle class="c4" cx="1463.2" cy="1529.9" r="8.14"/>
<circle class="c4" cx="1490.8" cy="1529.7" r="8.14"/>
<circle class="c4" cx="1423.7" cy="1529.0" r="8.14"/>
<circle class="c6" cx="1458.2" cy="1529.9" r="8.14"/>
<circle class="c5" cx="1489.1" cy="1529.9" r="8.14"/>
<circle class="c4" cx="1414.0" cy="1528.6" r="8.14"/>
<circle class="c4" cx="1466.2" cy="1529.8" r="8.14"/>
<circle class="c4" cx="1469.7" cy="1530.0" r="8.14"/>
<circle class="c5" cx="1428.8" cy="1528.8" r="8.14"/>
<circle class="c4" cx="1478.9" cy="1528.6" r="8.14"/>
<circle class="c4" cx="1485.9" cy="1528.7" r="8.14"/>
<circle class="c4" cx="1452.5" cy="1529.9" r="8.14"/>
<circle class="c4" cx="1443.8" cy="1529.6" r="8.14"/>
<circle class="c4" cx="1474.0" cy="1526.9" r="8.14"/>
<circle class="c5" cx="1414.0" cy="1528.8" r="8.14"/>
<circle class="c4" cx="1430.5" cy="1526.4" r="8.14"/>
<circle class="c4" cx="1424.7" cy="1526.9" r="8.14"/>
<circle class="c4" cx="1484.5" cy="1530.0" r="8.14"/>
<circle class="c4" cx="1461.7" cy="1529.7" r="8.14"/>
<circle class="c5" cx="1425.3" cy="1529.7" r="8.14"/>
<circle class="c5" cx="1501.9" cy="1529.5" r="8.14"/>
<circle class="c4" cx="1494.3" cy="1527.9" r="8.14"/>
<circle class="c4" cx="1494.0" cy="1529.8" r="8.14"/>
<circle class="c4" cx="1442.7" cy="1529.9" r="8.14"/>
<circle class="c4" cx="1466.8" cy="1530.0" r="8.14"/>
<circle class="c4" cx="1473.4" cy="1529.7" r="8.14"/>
<circle class="c4" cx="1473.0" cy="1527.7" r="8.14"/>
<circle class="c6" cx="1462.2" cy="1529.0" r="8.14"/>
<circle class="c5" cx="1439.0" cy="1526.5" r="8.14"/>
<circle class="c4" cx="1480.4" cy="1526.0" r="8.14"/>
<circle class="c5" cx="1481.8" cy="1530.0" r="8.14"/>
<circle class="c4" cx="1455.7" cy="1529.2" r="8.14"/>
<circle class="c5" cx="1444.5" cy="1529.4" r="8.14"/>
<circle class="c5" cx="1441.8" cy="1529.5" r="8.14"/>
<circle class="c4" cx="1429.5" cy="1528.7" r="8.14"/>
<circle class="c4" cx="1420.5" cy="1529.1" r="8.14"/>
<circle class="c5" cx="1439.8" cy="1529.0" r="8.14"/>
<circle class="c4" cx="1474.6" cy="1529.3" r="8.14"/>
<circle class="c4" cx="1447.2" cy="1528.9" r="8.14"/>
<circle class="c4" cx="1440.4" cy="1529.7" r="8.14"/>
<circle class="c4" cx="1472.0" cy="1527.7" r="8.14"/>
<circle class="c5" cx="1477.2" cy="1529.7" r="8.14"/>
<circle class="c4" cx="1443.7" cy="1528.9" r="8.14"/>
<circle class="c4" cx="1473.0" cy="1528.2" r="8.14"/>
<circle class="c4" cx="1418.8" cy="1527.7" r="8.14"/>
<circle class="c4" cx="1415.8" cy="1529.5" r="8.14"/>
<circle class="c5" cx="1430.9" cy="1529.5" r="8.14"/>
<circle class="c10" cx="1682.4" cy="165.9" r="8.14"/>
<circle class="c10" cx="1697.2" cy="364.0" r="8.14"/>
<circle class="c6" cx="1698.8" cy="416.4" r="8.14"/>
<circle class="c6" cx="1652.7" cy="528.1" r="8.14"/>
<circle class="c10" cx="1729.3" cy="548.9" r="8.14"/>
<circle class="c3" cx="1694.5" cy="583.7" r="8.14"/>
<circle class="c3" cx="1716.3" cy="644.0" r="8.14"/>
<circle class="c3" cx="1734.2" cy="659.8" r="8.14"/>
<circle class="c3" cx="1646.2" cy="676.6" r="8.14"/>
<circle class="c7" cx="1703.6" cy="716.7" r="8.14"/>
<circle class="c10" cx="1644.3" cy="725.2" r="8.14"/>
<circle class="c2" cx="1672.2" cy="731.6" r="8.14"/>
<circle class="c7" cx="1727.4" cy="747.3" r="8.14"/>
<circle class="c3" cx="1735.1" cy="781.5" r="8.14"/>
<circle class="c3" cx="1644.3" cy="834.0" r="8.14"/>
<circle class="c7" cx="1696.5" cy="832.9" r="8.14"/>
<circle class="c3" cx="1655.3" cy="849.9" r="8.14"/>
<circle class="c3" cx="1675.3" cy="846.2" r="8.14"/>
<circle class="c8" cx="1693.7" cy="873.9" r="8.14"/>
<circle class="c3" cx="1724.0" cy="879.4" r="8.14"/>
<circle class="c3" cx="1735.3" cy="873.2" r="8.14"/>
<circle class="c7" cx="1709.0" cy="899.4" r="8.14"/>
<circle class="c3" cx="1681.7" cy="903.8" r="8.14"/>
<circle class="c3" cx="1729.3" cy="908.7" r="8.14"/>
<circle class="c6" cx="1661.5" cy="915.8" r="8.14"/>
<circle class="c3" cx="1710.3" cy="929.5" r="8.14"/>
<circle class="c10" cx="1723.6" cy="932.2" r="8.14"/>
<circle class="c3" cx="1700.1" cy="943.5" r="8.14"/>
<circle class="c7" cx="1720.0" cy="940.1" r="8.14"/>
<circle class="c3" cx="1720.0" cy="941.5" r="8.14"/>
<circle class="c10" cx="1652.9" cy="961.0" r="8.14"/>
<circle class="c14" cx="1654.9" cy="968.1" r="8.14"/>
<circle class="c2" cx="1644.7" cy="971.8" r="8.14"/>
<circle class="c6" cx="1703.4" cy="957.9" r="8.14"/>
<circle class="c3" cx="1700.1" cy="965.6" r="8.14"/>
<circle class="c3" cx="1718.5" cy="965.6" r="8.14"/>
<circle class="c3" cx="1714.5" cy="970.7" r="8.14"/>
<circle class="c3" cx="1657.5" cy="981.1" r="8.14"/>
<circle class="c3" cx="1654.2" cy="992.4" r="8.14"/>
<circle class="c6" cx="1697.2" cy="985.1" r="8.14"/>
<circle class="c3" cx="1695.2" cy="990.7" r="8.14"/>
<circle class="c10" cx="1706.3" cy="994.7" r="8.14"/>
<circle class="c10" cx="1722.3" cy="987.6" r="8.14"/>
<circle class="c3" cx="1681.7" cy="999.5" r="8.14"/>
<circle class="c3" cx="1693.7" cy="1006.2" r="8.14"/>
<circle class="c3" cx="1648.9" cy="1006.9" r="8.14"/>
<circle class="c3" cx="1706.3" cy="1024.4" r="8.14"/>
<circle class="c3" cx="1703.0" cy="1032.3" r="8.14"/>
<circle class="c10" cx="1673.5" cy="1035.0" r="8.14"/>
<circle class="c3" cx="1672.8" cy="1035.4" r="8.14"/>
<circle class="c14" cx="1719.6" cy="1034.6" r="8.14"/>
<circle class="c7" cx="1724.0" cy="1036.1" r="8.14"/>
<circle class="c2" cx="1722.9" cy="1042.8" r="8.14"/>
<circle class="c3" cx="1709.0" cy="1044.5" r="8.14"/>
<circle class="c3" cx="1650.4" cy="1042.8" r="8.14"/>
<circle class="c6" cx="1650.9" cy="1052.7" r="8.14"/>
<circle class="c3" cx="1675.3" cy="1046.1" r="8.14"/>
<circle class="c3" cx="1684.1" cy="1050.5" r="8.14"/>
<circle class="c3" cx="1732.9" cy="1048.3" r="8.14"/>
<circle class="c3" cx="1731.8" cy="1051.6" r="8.14"/>
<circle class="c6" cx="1679.7" cy="1061.6" r="8.14"/>
<circle class="c3" cx="1696.8" cy="1066.5" r="8.14"/>
<circle class="c3" cx="1723.6" cy="1064.9" r="8.14"/>
<circle class="c4" cx="1734.2" cy="1070.0" r="8.14"/>
<circle class="c6" cx="1669.1" cy="1069.4" r="8.14"/>
<circle class="c15" cx="1669.7" cy="1072.2" r="8.14"/>
<circle class="c3" cx="1656.2" cy="1074.5" r="8.14"/>
<circle class="c10" cx="1710.7" cy="1078.2" r="8.14"/>
<circle class="c4" cx="1726.2" cy="1081.6" r="8.14"/>
<circle class="c10" cx="1684.6" cy="1083.1" r="8.14"/>
<circle class="c5" cx="1696.8" cy="1081.6" r="8.14"/>
<circle class="c3" cx="1699.6" cy="1087.1" r="8.14"/>
<circle class="c7" cx="1684.1" cy="1096.0" r="8.14"/>
<circle class="c3" cx="1693.0" cy="1101.5" r="8.14"/>
<circle class="c3" cx="1706.3" cy="1105.9" r="8.14"/>
<circle class="c3" cx="1721.8" cy="1102.6" r="8.14"/>
<circle class="c3" cx="1732.9" cy="1102.6" r="8.14"/>
<circle class="c3" cx="1718.5" cy="1107.0" r="8.14"/>
<circle class="c6" cx="1650.0" cy="1109.9" r="8.14"/>
<circle class="c6" cx="1732.9" cy="1114.8" r="8.14"/>
<circle class="c3" cx="1679.0" cy="1113.0" r="8.14"/>
<circle class="c2" cx="1719.6" cy="1119.7" r="8.14"/>
<circle class="c3" cx="1661.5" cy="1121.0" r="8.14"/>
<circle class="c3" cx="1664.2" cy="1128.1" r="8.14"/>
<circle class="c7" cx="1686.8" cy="1127.0" r="8.14"/>
<circle class="c3" cx="1693.0" cy="1132.1" r="8.14"/>
<circle class="c8" cx="1725.1" cy="1129.2" r="8.14"/>
<circle class="c7" cx="1717.8" cy="1132.1" r="8.14"/>
<circle class="c5" cx="1679.0" cy="1134.8" r="8.14"/>
<circle class="c3" cx="1728.5" cy="1140.3" r="8.14"/>
<circle class="c3" cx="1695.2" cy="1142.5" r="8.14"/>
<circle class="c7" cx="1655.3" cy="1142.5" r="8.14"/>
<circle class="c3" cx="1650.9" cy="1145.8" r="8.14"/>
<circle class="c3" cx="1663.7" cy="1144.7" r="8.14"/>
<circle class="c3" cx="1703.0" cy="1150.3" r="8.14"/>
<circle class="c3" cx="1722.9" cy="1145.8" r="8.14"/>
<circle class="c3" cx="1729.6" cy="1152.5" r="8.14"/>
<circle class="c14" cx="1651.3" cy="1156.3" r="8.14"/>
<circle class="c6" cx="1671.9" cy="1162.0" r="8.14"/>
<circle class="c10" cx="1689.0" cy="1159.6" r="8.14"/>
<circle class="c6" cx="1717.8" cy="1163.6" r="8.14"/>
<circle class="c6" cx="1734.0" cy="1162.5" r="8.14"/>
<circle class="c4" cx="1735.1" cy="1165.3" r="8.14"/>
<circle class="c10" cx="1646.0" cy="1165.8" r="8.14"/>
<circle class="c3" cx="1649.8" cy="1164.7" r="8.14"/>
<circle class="c3" cx="1693.0" cy="1168.0" r="8.14"/>
<circle class="c3" cx="1704.1" cy="1156.9" r="8.14"/>
<circle class="c10" cx="1671.5" cy="1529.9" r="8.14"/>
<circle class="c10" cx="1712.8" cy="1501.7" r="8.14"/>
<circle class="c3" cx="1695.9" cy="1479.8" r="8.14"/>
<circle class="c12" cx="1720.5" cy="1494.6" r="8.14"/>
<circle class="c13" cx="1686.2" cy="1504.6" r="8.14"/>
<circle class="c9" cx="1683.6" cy="1522.5" r="8.14"/>
<circle class="c13" cx="1730.1" cy="1502.3" r="8.14"/>
<circle class="c9" cx="1720.8" cy="1529.2" r="8.14"/>
<circle class="c7" cx="1684.4" cy="1486.9" r="8.14"/>
<circle class="c8" cx="1716.6" cy="1525.7" r="8.14"/>
<circle class="c7" cx="1671.0" cy="1463.9" r="8.14"/>
<circle class="c10" cx="1669.0" cy="1526.6" r="8.14"/>
<circle class="c7" cx="1718.7" cy="1513.0" r="8.14"/>
<circle class="c6" cx="1688.4" cy="1530.0" r="8.14"/>
<circle class="c3" cx="1727.6" cy="1291.7" r="8.14"/>
<circle class="c6" cx="1679.4" cy="1492.6" r="8.14"/>
<circle class="c12" cx="1663.9" cy="1528.0" r="8.14"/>
<circle class="c13" cx="1723.3" cy="1510.0" r="8.14"/>
<circle class="c4" cx="1656.5" cy="1287.7" r="8.14"/>
<circle class="c8" cx="1733.0" cy="1521.5" r="8.14"/>
<circle class="c10" cx="1691.4" cy="1462.8" r="8.14"/>
<circle class="c13" cx="1706.1" cy="1527.4" r="8.14"/>
<circle class="c13" cx="1709.2" cy="1451.9" r="8.14"/>
<circle class="c4" cx="1669.6" cy="1353.4" r="8.14"/>
<circle class="c9" cx="1694.2" cy="1530.0" r="8.14"/>
<circle class="c5" cx="1718.8" cy="1529.7" r="8.14"/>
<circle class="c13" cx="1731.6" cy="1483.9" r="8.14"/>
<circle class="c7" cx="1711.5" cy="1527.7" r="8.14"/>
<circle class="c3" cx="1672.3" cy="1426.0" r="8.14"/>
<circle class="c2" cx="1687.8" cy="1457.3" r="8.14"/>
<circle class="c12" cx="1666.7" cy="1528.2" r="8.14"/>
<circle class="c9" cx="1708.7" cy="1461.6" r="8.14"/>
<circle class="c10" cx="1681.0" cy="1433.0" r="8.14"/>
<circle class="c10" cx="1658.5" cy="1530.0" r="8.14"/>
<circle class="c10" cx="1681.9" cy="1507.2" r="8.14"/>
<circle class="c9" cx="1653.1" cy="1428.3" r="8.14"/>
<circle class="c10" cx="1695.8" cy="1517.7" r="8.14"/>
<circle class="c6" cx="1712.8" cy="1513.1" r="8.14"/>
<circle class="c9" cx="1660.2" cy="1516.3" r="8.14"/>
<circle class="c10" cx="1730.6" cy="1525.6" r="8.14"/>
<circle class="c9" cx="1684.3" cy="1518.6" r="8.14"/>
<circle class="c10" cx="1698.0" cy="1461.0" r="8.14"/>
<circle class="c5" cx="1677.6" cy="1507.6" r="8.14"/>
<circle class="c13" cx="1703.4" cy="1462.9" r="8.14"/>
<circle class="c9" cx="1663.6" cy="1528.9" r="8.14"/>
<circle class="c7" cx="1728.8" cy="1530.0" r="8.14"/>
<circle class="c5" cx="1658.0" cy="1481.8" r="8.14"/>
<circle class="c1" cx="1644.6" cy="1498.3" r="8.14"/>
<circle class="c7" cx="1708.8" cy="1508.6" r="8.14"/>
<circle class="c8" cx="1704.3" cy="1524.5" r="8.14"/>
<circle class="c11" cx="1680.1" cy="1530.0" r="8.14"/>
<circle class="c10" cx="1644.7" cy="1529.9" r="8.14"/>
<circle class="c14" cx="1664.2" cy="1436.2" r="8.14"/>
<circle class="c7" cx="1650.0" cy="1526.6" r="8.14"/>
<circle class="c9" cx="1698.5" cy="1527.2" r="8.14"/>
<circle class="c13" cx="1682.9" cy="1478.1" r="8.14"/>
<circle class="c3" cx="1677.5" cy="1357.7" r="8.14"/>
<circle class="c9" cx="1685.1" cy="1509.2" r="8.14"/>
<circle class="c3" cx="1707.0" cy="1364.8" r="8.14"/>
<circle class="c6" cx="1652.1" cy="1446.7" r="8.14"/>
<circle class="c13" cx="1704.6" cy="1476.4" r="8.14"/>
<circle class="c5" cx="1694.0" cy="1518.8" r="8.14"/>
<circle class="c5" cx="1716.4" cy="1471.4" r="8.14"/>
<circle class="c10" cx="1726.4" cy="1461.7" r="8.14"/>
<circle class="c5" cx="1671.2" cy="1441.9" r="8.14"/>
<circle class="c10" cx="1684.4" cy="1516.2" r="8.14"/>
<circle class="c1" cx="1735.0" cy="1485.4" r="8.14"/>
<circle class="c10" cx="1698.8" cy="1503.3" r="8.14"/>
<circle class="c9" cx="1696.6" cy="1516.2" r="8.14"/>
<circle class="c7" cx="1658.8" cy="1509.6" r="8.14"/>
<circle class="c10" cx="1699.8" cy="1530.0" r="8.14"/>
<circle class="c11" cx="1694.7" cy="1520.3" r="8.14"/>
<circle class="c9" cx="1666.4" cy="1529.0" r="8.14"/>
<circle class="c12" cx="1713.5" cy="1480.9" r="8.14"/>
<circle class="c6" cx="1705.7" cy="1465.7" r="8.14"/>
<circle class="c3" cx="1646.4" cy="1238.0" r="8.14"/>
<circle class="c10" cx="1673.6" cy="1510.5" r="8.14"/>
<circle class="c6" cx="1655.1" cy="1394.5" r="8.14"/>
<circle class="c14" cx="1655.7" cy="1455.5" r="8.14"/>
<circle class="c8" cx="1691.1" cy="1514.0" r="8.14"/>
<circle class="c9" cx="1648.2" cy="1517.8" r="8.14"/>
<circle class="c14" cx="1673.8" cy="1463.1" r="8.14"/>
<circle class="c10" cx="1713.2" cy="1530.0" r="8.14"/>
<circle class="c3" cx="1648.9" cy="1432.1" r="8.14"/>
<circle class="c13" cx="1666.2" cy="1469.8" r="8.14"/>
<circle class="c5" cx="1702.0" cy="1362.3" r="8.14"/>
<circle class="c13" cx="1673.8" cy="1520.5" r="8.14"/>
<circle class="c8" cx="1649.6" cy="1526.7" r="8.14"/>
<circle class="c7" cx="1727.7" cy="1455.4" r="8.14"/>
<circle class="c7" cx="1676.8" cy="1529.6" r="8.14"/>
<circle class="c3" cx="1675.7" cy="1266.8" r="8.14"/>
<circle class="c10" cx="1653.5" cy="1528.4" r="8.14"/>
<circle class="c10" cx="1696.0" cy="1528.4" r="8.14"/>
<circle class="c9" cx="1664.9" cy="1527.7" r="8.14"/>
<circle class="c12" cx="1689.4" cy="1501.2" r="8.14"/>
<circle class="c5" cx="1682.4" cy="1434.0" r="8.14"/>
<circle class="c8" cx="1716.8" cy="1520.1" r="8.14"/>
<circle class="c0" cx="1671.0" cy="1454.8" r="8.14"/>
<circle class="c0" cx="1661.4" cy="1486.2" r="8.14"/>
<circle class="c11" cx="1691.0" cy="1529.8" r="8.14"/>
<circle class="c4" cx="1670.9" cy="1455.7" r="8.14"/>
<circle class="c9" cx="1694.8" cy="1513.2" r="8.14"/>
<circle class="c13" cx="1709.7" cy="1507.8" r="8.14"/>
<circle class="c3" cx="1668.9" cy="1337.8" r="8.14"/>
<circle class="c1" cx="1689.8" cy="1499.4" r="8.14"/>
<circle class="c7" cx="1656.6" cy="1498.4" r="8.14"/>
<circle class="c0" cx="1677.9" cy="1465.3" r="8.14"/>
<circle class="c6" cx="1701.4" cy="1483.2" r="8.14"/>
<circle class="c10" cx="1652.4" cy="1504.6" r="8.14"/>
<circle class="c6" cx="1686.8" cy="1482.6" r="8.14"/>
<circle class="c5" cx="1650.7" cy="1440.9" r="8.14"/>
<circle class="c10" cx="1718.4" cy="1504.7" r="8.14"/>
<circle class="c9" cx="1707.8" cy="1516.1" r="8.14"/>
<circle class="c3" cx="1704.5" cy="1453.8" r="8.14"/>
<circle class="c3" cx="1658.6" cy="1422.1" r="8.14"/>
<circle class="c5" cx="1661.5" cy="1487.8" r="8.14"/>
<circle class="c13" cx="1666.9" cy="1473.7" r="8.14"/>
<circle class="c13" cx="1665.7" cy="1481.4" r="8.14"/>
<circle class="c9" cx="1724.6" cy="1529.6" r="8.14"/>
<circle class="c0" cx="1722.0" cy="1485.7" r="8.14"/>
<circle class="c6" cx="1663.7" cy="1431.2" r="8.14"/>
<circle class="c1" cx="1695.5" cy="1470.0" r="8.14"/>
<circle class="c5" cx="1718.6" cy="1426.4" r="8.14"/>
<circle class="c13" cx="1716.3" cy="1519.0" r="8.14"/>
<circle class="c6" cx="1710.9" cy="1529.9" r="8.14"/>
<circle class="c6" cx="1649.4" cy="1512.3" r="8.14"/>
<circle class="c10" cx="1657.9" cy="1439.4" r="8.14"/>
<circle class="c3" cx="1666.0" cy="1485.9" r="8.14"/>
<circle class="c7" cx="1699.0" cy="1435.3" r="8.14"/>
<circle class="c8" cx="1675.6" cy="1529.0" r="8.14"/>
<circle class="c7" cx="1671.6" cy="1336.3" r="8.14"/>
<circle class="c5" cx="1734.6" cy="1530.0" r="8.14"/>
<circle class="c13" cx="1721.0" cy="1514.1" r="8.14"/>
<circle class="c9" cx="1649.7" cy="1508.7" r="8.14"/>
<circle class="c12" cx="1652.6" cy="1458.7" r="8.14"/>
<circle class="c5" cx="1729.5" cy="1449.7" r="8.14"/>
<circle class="c9" cx="1696.5" cy="1530.0" r="8.14"/>
<circle class="c9" cx="1691.1" cy="1508.6" r="8.14"/>
<circle class="c14" cx="1692.6" cy="1443.7" r="8.14"/>
<circle class="c10" cx="1652.1" cy="1529.3" r="8.14"/>
<circle class="c8" cx="1730.5" cy="1504.2" r="8.14"/>
<circle class="c10" cx="1657.4" cy="1506.9" r="8.14"/>
<circle class="c3" cx="1705.5" cy="1335.4" r="8.14"/>
<circle class="c3" cx="1683.6" cy="1393.1" r="8.14"/>
<circle class="c5" cx="1706.8" cy="1454.4" r="8.14"/>
<circle class="c10" cx="1682.0" cy="1455.6" r="8.14"/>
<circle class="c7" cx="1650.1" cy="1467.4" r="8.14"/>
<circle class="c6" cx="1685.5" cy="1512.0" r="8.14"/>
<circle class="c10" cx="1699.5" cy="1505.1" r="8.14"/>
<circle class="c3" cx="1710.9" cy="1188.0" r="8.14"/>
<circle class="c7" cx="1662.2" cy="1441.3" r="8.14"/>
<circle class="c8" cx="1734.8" cy="1516.2" r="8.14"/>
<circle class="c10" cx="1669.5" cy="1530.0" r="8.14"/>
<circle class="c6" cx="1715.5" cy="1325.4" r="8.14"/>
<circle class="c7" cx="1717.6" cy="1526.9" r="8.14"/>
<circle class="c5" cx="1667.6" cy="1492.1" r="8.14"/>
<circle class="c14" cx="1676.3" cy="1461.5" r="8.14"/>
<circle class="c3" cx="1705.1" cy="1335.5" r="8.14"/>
<circle class="c9" cx="1660.5" cy="1506.5" r="8.14"/>
<circle class="c3" cx="1680.3" cy="1413.3" r="8.14"/>
<circle class="c8" cx="1654.6" cy="1507.3" r="8.14"/>
<circle class="c6" cx="1697.4" cy="1433.9" r="8.14"/>
<circle class="c3" cx="1719.0" cy="1497.8" r="8.14"/>
<circle class="c10" cx="1701.4" cy="1353.1" r="8.14"/>
<circle class="c10" cx="1727.1" cy="1519.8" r="8.14"/>
<circle class="c10" cx="1670.1" cy="1529.9" r="8.14"/>
<circle class="c9" cx="1666.5" cy="1490.7" r="8.14"/>
<circle class="c9" cx="1721.6" cy="1526.8" r="8.14"/>
<circle class="c9" cx="1703.6" cy="1530.0" r="8.14"/>
<circle class="c10" cx="1649.4" cy="1529.8" r="8.14"/>
<circle class="c3" cx="1683.7" cy="1447.3" r="8.14"/>
<circle class="c10" cx="1731.7" cy="1484.5" r="8.14"/>
<circle class="c10" cx="1691.4" cy="1529.5" r="8.14"/>
<circle class="c13" cx="1653.8" cy="1493.1" r="8.14"/>
<circle class="c3" cx="1696.7" cy="1378.5" r="8.14"/>
<circle class="c10" cx="1718.4" cy="1498.1" r="8.14"/>
<circle class="c9" cx="1684.4" cy="1504.1" r="8.14"/>
<circle class="c12" cx="1705.0" cy="1526.8" r="8.14"/>
<circle class="c2" cx="1666.8" cy="1429.0" r="8.14"/>
<circle class="c6" cx="1646.0" cy="1378.4" r="8.14"/>
<circle class="c5" cx="1677.7" cy="1525.9" r="8.14"/>
<circle class="c3" cx="1672.2" cy="1414.9" r="8.14"/>
<circle class="c5" cx="1691.0" cy="1528.2" r="8.14"/>
<circle class="c9" cx="1649.4" cy="1440.6" r="8.14"/>
<circle class="c10" cx="1720.9" cy="1509.0" r="8.14"/>
<circle class="c13" cx="1661.7" cy="1498.7" r="8.14"/>
<circle class="c2" cx="1672.3" cy="1430.2" r="8.14"/>
<circle class="c11" cx="1728.1" cy="1529.9" r="8.14"/>
<circle class="c7" cx="1723.2" cy="1508.7" r="8.14"/>
<circle class="c5" cx="1731.1" cy="1528.6" r="8.14"/>
<circle class="c12" cx="1650.7" cy="1513.7" r="8.14"/>
<circle class="c14" cx="1662.0" cy="1470.0" r="8.14"/>
<circle class="c10" cx="1652.5" cy="1302.6" r="8.14"/>
<circle class="c5" cx="1694.3" cy="1505.3" r="8.14"/>
<circle class="c10" cx="1675.6" cy="1467.7" r="8.14"/>
<circle class="c3" cx="1654.1" cy="1334.9" r="8.14"/>
<circle class="c1" cx="1698.7" cy="1475.9" r="8.14"/>
<circle class="c7" cx="1675.3" cy="1505.5" r="8.14"/>
<circle class="c12" cx="1675.9" cy="1518.3" r="8.14"/>
<circle class="c10" cx="1719.4" cy="1518.3" r="8.14"/>
<circle class="c10" cx="1684.7" cy="1505.3" r="8.14"/>
<circle class="c6" cx="1710.0" cy="1505.8" r="8.14"/>
<circle class="c13" cx="1682.7" cy="1502.4" r="8.14"/>
<circle class="c3" cx="1678.8" cy="1331.4" r="8.14"/>
<circle class="c12" cx="1733.2" cy="1482.5" r="8.14"/>
<circle class="c10" cx="1651.6" cy="1529.5" r="8.14"/>
<circle class="c7" cx="1717.0" cy="1424.9" r="8.14"/>
<circle class="c10" cx="1722.6" cy="1520.8" r="8.14"/>
<circle class="c8" cx="1668.0" cy="1529.3" r="8.14"/>
<circle class="c14" cx="1720.1" cy="1498.9" r="8.14"/>
<circle class="c8" cx="1663.3" cy="1505.9" r="8.14"/>
<circle class="c10" cx="1713.6" cy="1505.2" r="8.14"/>
<circle class="c6" cx="1731.2" cy="1511.2" r="8.14"/>
<circle class="c11" cx="1730.2" cy="1529.6" r="8.14"/>
<circle class="c9" cx="1659.3" cy="1530.0" r="8.14"/>
<circle class="c7" cx="1645.7" cy="1502.3" r="8.14"/>
<circle class="c7" cx="1727.3" cy="1523.8" r="8.14"/>
<circle class="c10" cx="1646.1" cy="1516.9" r="8.14"/>
<circle class="c13" cx="1688.8" cy="1475.1" r="8.14"/>
<circle class="c11" cx="1724.0" cy="1519.6" r="8.14"/>
<circle class="c8" cx="1720.9" cy="1506.6" r="8.14"/>
<circle class="c4" cx="1698.2" cy="1355.4" r="8.14"/>
<circle class="c13" cx="1650.9" cy="1465.2" r="8.14"/>
<circle class="c9" cx="1660.1" cy="1472.4" r="8.14"/>
<circle class="c13" cx="1649.1" cy="1496.9" r="8.14"/>
<circle class="c8" cx="1679.4" cy="1476.0" r="8.14"/>
<circle class="c7" cx="1691.3" cy="1293.9" r="8.14"/>
<circle class="c8" cx="1733.2" cy="1529.9" r="8.14"/>
<circle class="c11" cx="1709.4" cy="1526.3" r="8.14"/>
<circle class="c7" cx="1663.8" cy="1527.8" r="8.14"/>
<circle class="c6" cx="1731.0" cy="1423.3" r="8.14"/>
<circle class="c12" cx="1684.2" cy="1521.4" r="8.14"/>
<circle class="c13" cx="1676.3" cy="1494.2" r="8.14"/>
<circle class="c10" cx="1715.5" cy="1503.7" r="8.14"/>
<circle class="c10" cx="1665.8" cy="1512.3" r="8.14"/>
<circle class="c6" cx="1699.5" cy="1530.0" r="8.14"/>
<circle class="c5" cx="1669.4" cy="1500.0" r="8.14"/>
<circle class="c8" cx="1672.6" cy="1530.0" r="8.14"/>
<circle class="c9" cx="1707.5" cy="1529.2" r="8.14"/>
<circle class="c7" cx="1709.2" cy="1489.9" r="8.14"/>
<circle class="c10" cx="1660.3" cy="1473.1" r="8.14"/>
<circle class="c7" cx="1727.4" cy="1522.8" r="8.14"/>
<circle class="c3" cx="1669.2" cy="1297.4" r="8.14"/>
<circle class="c15" cx="1652.8" cy="1451.5" r="8.14"/>
<circle class="c6" cx="1647.8" cy="1515.2" r="8.14"/>
<circle class="c6" cx="1680.3" cy="1431.2" r="8.14"/>
<circle class="c10" cx="1711.7" cy="1529.7" r="8.14"/>
<circle class="c14" cx="1673.1" cy="1489.9" r="8.14"/>
<circle class="c10" cx="1649.9" cy="1509.9" r="8.14"/>
<circle class="c9" cx="1725.4" cy="1525.7" r="8.14"/>
<circle class="c7" cx="1645.0" cy="1507.6" r="8.14"/>
<circle class="c8" cx="1678.4" cy="1530.0" r="8.14"/>
<circle class="c6" cx="1656.6" cy="1501.6" r="8.14"/>
<circle class="c12" cx="1726.2" cy="1498.8" r="8.14"/>
<circle class="c13" cx="1668.5" cy="1451.3" r="8.14"/>
<circle class="c10" cx="1673.0" cy="1528.1" r="8.14"/>
<circle class="c9" cx="1686.9" cy="1441.3" r="8.14"/>
<circle class="c4" cx="1684.7" cy="1440.1" r="8.14"/>
<circle class="c7" cx="1722.0" cy="1515.2" r="8.14"/>
<circle class="c6" cx="1704.8" cy="1529.0" r="8.14"/>
<circle class="c10" cx="1665.3" cy="1501.0" r="8.14"/>
<circle class="c3" cx="1729.3" cy="1443.3" r="8.14"/>
<circle class="c1" cx="1715.4" cy="1488.9" r="8.14"/>
<circle class="c7" cx="1666.1" cy="1397.4" r="8.14"/>
<circle class="c10" cx="1723.9" cy="1458.4" r="8.14"/>
<circle class="c2" cx="1684.6" cy="1453.7" r="8.14"/>
<circle class="c7" cx="1684.3" cy="1510.9" r="8.14"/>
<circle class="c8" cx="1715.8" cy="1519.8" r="8.14"/>
<circle class="c7" cx="1654.2" cy="1529.7" r="8.14"/>
<circle class="c6" cx="1684.6" cy="1461.9" r="8.14"/>
<circle class="c7" cx="1714.6" cy="1506.5" r="8.14"/>
<circle class="c1" cx="1688.1" cy="1437.8" r="8.14"/>
<circle class="c13" cx="1715.6" cy="1511.5" r="8.14"/>
<circle class="c7" cx="1713.2" cy="1528.4" r="8.14"/>
<circle class="c4" cx="1694.7" cy="1445.4" r="8.14"/>
<circle class="c8" cx="1681.7" cy="1525.5" r="8.14"/>
<circle class="c10" cx="1726.2" cy="1529.7" r="8.14"/>
<circle class="c10" cx="1704.1" cy="1487.4" r="8.14"/>
<circle class="c6" cx="1712.6" cy="1517.0" r="8.14"/>
<circle class="c8" cx="1727.2" cy="1528.0" r="8.14"/>
<circle class="c7" cx="1650.0" cy="1530.0" r="8.14"/>
<circle class="c13" cx="1675.5" cy="1513.5" r="8.14"/>
<circle class="c13" cx="1689.0" cy="1494.5" r="8.14"/>
<circle class="c8" cx="1649.6" cy="1522.3" r="8.14"/>
<circle class="c10" cx="1674.2" cy="1413.7" r="8.14"/>
<circle class="c13" cx="1683.8" cy="1462.5" r="8.14"/>
<circle class="c9" cx="1659.4" cy="1529.6" r="8.14"/>
<circle class="c7" cx="1696.0" cy="1529.9" r="8.14"/>
<circle class="c6" cx="1691.3" cy="1527.0" r="8.14"/>
<circle class="c10" cx="1662.0" cy="1530.0" r="8.14"/>
<circle class="c12" cx="1723.6" cy="1462.9" r="8.14"/>
<circle class="c12" cx="1706.2" cy="1507.9" r="8.14"/>
<circle class="c10" cx="1670.8" cy="1350.7" r="8.14"/>
<circle class="c12" cx="1701.1" cy="1529.3" r="8.14"/>
<circle class="c10" cx="1700.6" cy="1501.5" r="8.14"/>
<circle class="c4" cx="1662.4" cy="1432.0" r="8.14"/>
<circle class="c10" cx="1656.1" cy="1519.5" r="8.14"/>
<circle class="c9" cx="1670.3" cy="1530.0" r="8.14"/>
<circle class="c12" cx="1694.1" cy="1480.3" r="8.14"/>
<circle class="c8" cx="1730.7" cy="1501.4" r="8.14"/>
<circle class="c7" cx="1659.7" cy="1525.2" r="8.14"/>
<circle class="c8" cx="1698.5" cy="1476.2" r="8.14"/>
<circle class="c13" cx="1695.9" cy="1460.8" r="8.14"/>
<circle class="c10" cx="1694.5" cy="1530.0" r="8.14"/>
<circle class="c0" cx="1696.8" cy="1498.4" r="8.14"/>
<circle class="c13" cx="1689.8" cy="1522.6" r="8.14"/>
<circle class="c10" cx="1678.9" cy="1521.9" r="8.14"/>
<circle class="c3" cx="1661.3" cy="1424.4" r="8.14"/>
<circle class="c9" cx="1722.3" cy="1530.0" r="8.14"/>
<circle class="c9" cx="1702.2" cy="1528.2" r="8.14"/>
<circle class="c13" cx="1716.8" cy="1492.3" r="8.14"/>
<circle class="c12" cx="1662.1" cy="1504.6" r="8.14"/>
<circle class="c4" cx="1714.2" cy="1209.1" r="8.14"/>
<circle class="c6" cx="1659.8" cy="1529.1" r="8.14"/>
<circle class="c9" cx="1728.5" cy="1521.6" r="8.14"/>
<circle class="c7" cx="1697.3" cy="1497.1" r="8.14"/>
<circle class="c14" cx="1685.4" cy="1432.3" r="8.14"/>
<circle class="c7" cx="1733.4" cy="1436.6" r="8.14"/>
<circle class="c7" cx="1679.1" cy="1471.8" r="8.14"/>
<circle class="c7" cx="1646.7" cy="1513.6" r="8.14"/>
<circle class="c10" cx="1685.0" cy="1455.1" r="8.14"/>
<circle class="c10" cx="1651.2" cy="1526.4" r="8.14"/>
<circle class="c7" cx="1704.8" cy="1377.5" r="8.14"/>
<circle class="c6" cx="1660.2" cy="1530.0" r="8.14"/>
<circle class="c3" cx="1687.1" cy="1440.8" r="8.14"/>
<circle class="c0" cx="1718.5" cy="1421.1" r="8.14"/>
<circle class="c5" cx="1703.5" cy="1529.8" r="8.14"/>
<circle class="c6" cx="1724.1" cy="1456.7" r="8.14"/>
<circle class="c6" cx="1682.4" cy="1527.8" r="8.14"/>
<circle class="c3" cx="1732.3" cy="1350.2" r="8.14"/>
<circle class="c13" cx="1689.3" cy="1501.6" r="8.14"/>
<circle class="c9" cx="1712.6" cy="1529.4" r="8.14"/>
<circle class="c10" cx="1717.4" cy="1453.6" r="8.14"/>
<circle class="c6" cx="1733.4" cy="1529.9" r="8.14"/>
<circle class="c8" cx="1648.6" cy="1527.0" r="8.14"/>
<circle class="c9" cx="1725.1" cy="1511.2" r="8.14"/>
<circle class="c9" cx="1673.2" cy="1529.8" r="8.14"/>
<circle class="c1" cx="1647.0" cy="1420.8" r="8.14"/>
<circle class="c13" cx="1698.0" cy="1499.4" r="8.14"/>
<circle class="c11" cx="1659.3" cy="1504.4" r="8.14"/>
<circle class="c3" cx="1703.1" cy="1281.6" r="8.14"/>
<circle class="c8" cx="1646.7" cy="1530.0" r="8.14"/>
<circle class="c9" cx="1714.4" cy="1508.5" r="8.14"/>
<circle class="c14" cx="1656.5" cy="1523.0" r="8.14"/>
<circle class="c7" cx="1710.8" cy="1530.0" r="8.14"/>
<circle class="c12" cx="1694.7" cy="1481.4" r="8.14"/>
<circle class="c10" cx="1683.7" cy="1478.0" r="8.14"/>
<circle class="c3" cx="1680.0" cy="1384.0" r="8.14"/>
<circle class="c5" cx="1674.3" cy="1429.7" r="8.14"/>
<circle class="c7" cx="1706.2" cy="1470.0" r="8.14"/>
<circle class="c9" cx="1700.4" cy="1523.9" r="8.14"/>
<circle class="c10" cx="1655.6" cy="1526.0" r="8.14"/>
<circle class="c12" cx="1694.5" cy="1506.6" r="8.14"/>
<circle class="c13" cx="1712.5" cy="1426.4" r="8.14"/>
<circle class="c8" cx="1724.5" cy="1528.9" r="8.14"/>
<circle class="c3" cx="1696.6" cy="1495.0" r="8.14"/>
<circle class="c10" cx="1699.4" cy="1529.8" r="8.14"/>
<circle class="c14" cx="1685.2" cy="1476.0" r="8.14"/>
<circle class="c9" cx="1714.7" cy="1472.3" r="8.14"/>
<circle class="c3" cx="1648.6" cy="1220.7" r="8.14"/>
<circle class="c9" cx="1672.2" cy="1530.0" r="8.14"/>
<circle class="c9" cx="1657.1" cy="1475.3" r="8.14"/>
<circle class="c9" cx="1694.5" cy="1504.7" r="8.14"/>
<circle class="c6" cx="1666.6" cy="1528.4" r="8.14"/>
<circle class="c3" cx="1652.4" cy="1313.6" r="8.14"/>
<circle class="c13" cx="1665.0" cy="1464.5" r="8.14"/>
<circle class="c0" cx="1661.4" cy="1506.2" r="8.14"/>
<circle class="c10" cx="1692.1" cy="1512.2" r="8.14"/>
<circle class="c3" cx="1689.6" cy="1517.0" r="8.14"/>
<circle class="c5" cx="1659.2" cy="1527.5" r="8.14"/>
<circle class="c3" cx="1675.0" cy="1277.3" r="8.14"/>
<circle class="c9" cx="1727.1" cy="1501.6" r="8.14"/>
<circle class="c9" cx="1724.9" cy="1527.2" r="8.14"/>
<circle class="c12" cx="1693.1" cy="1465.5" r="8.14"/>
<circle class="c9" cx="1730.8" cy="1496.9" r="8.14"/>
<circle class="c3" cx="1670.3" cy="1265.0" r="8.14"/>
<circle class="c9" cx="1722.6" cy="1510.8" r="8.14"/>
<circle class="c13" cx="1662.6" cy="1462.5" r="8.14"/>
<circle class="c13" cx="1668.1" cy="1489.4" r="8.14"/>
<circle class="c14" cx="1719.0" cy="1438.6" r="8.14"/>
<circle class="c5" cx="1684.2" cy="1378.6" r="8.14"/>
<circle class="c7" cx="1660.6" cy="1518.2" r="8.14"/>
<circle class="c6" cx="1708.3" cy="1529.6" r="8.14"/>
<circle class="c13" cx="1666.1" cy="1471.1" r="8.14"/>
<circle class="c3" cx="1678.6" cy="1320.1" r="8.14"/>
<circle class="c7" cx="1683.5" cy="1504.7" r="8.14"/>
<circle class="c8" cx="1685.2" cy="1514.3" r="8.14"/>
<circle class="c13" cx="1663.8" cy="1512.0" r="8.14"/>
<circle class="c8" cx="1687.5" cy="1511.8" r="8.14"/>
<circle class="c9" cx="1667.7" cy="1530.0" r="8.14"/>
<circle class="c13" cx="1685.4" cy="1479.3" r="8.14"/>
<circle class="c8" cx="1649.0" cy="1529.2" r="8.14"/>
<circle class="c10" cx="1714.9" cy="1527.7" r="8.14"/>
<circle class="c9" cx="1726.9" cy="1501.7" r="8.14"/>
<circle class="c10" cx="1709.6" cy="1525.5" r="8.14"/>
<circle class="c3" cx="1718.1" cy="1491.6" r="8.14"/>
<circle class="c8" cx="1670.4" cy="1524.5" r="8.14"/>
<circle class="c8" cx="1724.1" cy="1502.0" r="8.14"/>
<circle class="c3" cx="1660.4" cy="1368.2" r="8.14"/>
<circle class="c8" cx="1704.2" cy="1509.4" r="8.14"/>
<circle class="c10" cx="1683.3" cy="1526.0" r="8.14"/>
<circle class="c10" cx="1680.2" cy="1529.9" r="8.14"/>
<circle class="c10" cx="1703.5" cy="1507.9" r="8.14"/>
<circle class="c8" cx="1688.0" cy="1505.8" r="8.14"/>
<circle class="c12" cx="1725.8" cy="1519.8" r="8.14"/>
<circle class="c3" cx="1656.3" cy="1385.9" r="8.14"/>
<circle class="c5" cx="1685.5" cy="1527.6" r="8.14"/>
<circle class="c3" cx="1698.3" cy="1492.1" r="8.14"/>
<circle class="c9" cx="1706.8" cy="1522.1" r="8.14"/>
<circle class="c7" cx="1718.9" cy="1503.0" r="8.14"/>
<circle class="c9" cx="1711.7" cy="1502.3" r="8.14"/>
<circle class="c7" cx="1718.5" cy="1520.1" r="8.14"/>
<circle class="c13" cx="1692.6" cy="1512.2" r="8.14"/>
<circle class="c9" cx="1707.1" cy="1528.3" r="8.14"/>
<circle class="c6" cx="1689.3" cy="1502.9" r="8.14"/>
<circle class="c13" cx="1727.4" cy="1488.8" r="8.14"/>
<circle class="c9" cx="1654.8" cy="1528.5" r="8.14"/>
<circle class="c9" cx="1662.1" cy="1529.8" r="8.14"/>
<circle class="c10" cx="1705.0" cy="1506.7" r="8.14"/>
<circle class="c3" cx="1661.2" cy="1424.1" r="8.14"/>
<circle class="c9" cx="1664.4" cy="1528.1" r="8.14"/>
<circle class="c13" cx="1668.0" cy="1456.9" r="8.14"/>
<circle class="c2" cx="1663.2" cy="1503.1" r="8.14"/>
<circle class="c7" cx="1686.2" cy="1528.5" r="8.14"/>
<circle class="c10" cx="1697.3" cy="1530.0" r="8.14"/>
<circle class="c9" cx="1657.2" cy="1529.5" r="8.14"/>
<circle class="c2" cx="1714.0" cy="1407.0" r="8.14"/>
<circle class="c9" cx="1650.7" cy="1524.9" r="8.14"/>
<circle class="c0" cx="1695.5" cy="1489.7" r="8.14"/>
<circle class="c5" cx="1678.6" cy="1439.1" r="8.14"/>
<circle class="c10" cx="1648.6" cy="1525.4" r="8.14"/>
<circle class="c9" cx="1677.4" cy="1507.1" r="8.14"/>
<circle class="c6" cx="1658.8" cy="1460.8" r="8.14"/>
<circle class="c2" cx="1716.3" cy="1458.7" r="8.14"/>
<circle class="c13" cx="1700.2" cy="1529.9" r="8.14"/>
<circle class="c9" cx="1659.2" cy="1521.6" r="8.14"/>
<circle class="c4" cx="1658.5" cy="1412.6" r="8.14"/>
<circle class="c9" cx="1733.2" cy="1526.5" r="8.14"/>
<circle class="c5" cx="1700.9" cy="1486.5" r="8.14"/>
<circle class="c10" cx="1684.3" cy="1515.5" r="8.14"/>
<circle class="c7" cx="1732.9" cy="1477.3" r="8.14"/>
<circle class="c9" cx="1709.1" cy="1527.9" r="8.14"/>
<circle class="c5" cx="1695.2" cy="1444.9" r="8.14"/>
<circle class="c6" cx="1715.1" cy="1516.3" r="8.14"/>
<circle class="c14" cx="1666.0" cy="1446.0" r="8.14"/>
<circle class="c8" cx="1717.0" cy="1492.7" r="8.14"/>
<circle class="c10" cx="1660.3" cy="1436.7" r="8.14"/>
<circle class="c5" cx="1685.6" cy="1525.0" r="8.14"/>
<circle class="c12" cx="1684.1" cy="1475.2" r="8.14"/>
<circle class="c8" cx="1690.9" cy="1530.0" r="8.14"/>
<circle class="c5" cx="1729.8" cy="1356.6" r="8.14"/>
<circle class="c10" cx="1719.8" cy="1503.1" r="8.14"/>
<circle class="c4" cx="1728.3" cy="1429.9" r="8.14"/>
<circle class="c9" cx="1646.9" cy="1530.0" r="8.14"/>
<circle class="c3" cx="1674.2" cy="1505.7" r="8.14"/>
<circle class="c5" cx="1705.0" cy="1476.7" r="8.14"/>
<circle class="c6" cx="1702.7" cy="1515.0" r="8.14"/>
<circle class="c6" cx="1685.4" cy="1454.1" r="8.14"/>
<circle class="c9" cx="1677.4" cy="1503.1" r="8.14"/>
<circle class="c9" cx="1717.7" cy="1529.8" r="8.14"/>
<circle class="c6" cx="1711.5" cy="1457.9" r="8.14"/>
<circle class="c13" cx="1696.2" cy="1492.0" r="8.14"/>
<circle class="c9" cx="1718.9" cy="1529.7" r="8.14"/>
<circle class="c7" cx="1720.5" cy="1479.6" r="8.14"/>
<circle class="c14" cx="1656.2" cy="1437.1" r="8.14"/>
<circle class="c3" cx="1725.5" cy="1380.9" r="8.14"/>
<circle class="c9" cx="1682.9" cy="1527.9" r="8.14"/>
<circle class="c7" cx="1708.8" cy="1529.0" r="8.14"/>
<circle class="c7" cx="1704.3" cy="1525.9" r="8.14"/>
<circle class="c12" cx="1695.5" cy="1477.3" r="8.14"/>
<circle class="c9" cx="1724.7" cy="1530.0" r="8.14"/>
<circle class="c4" cx="1712.2" cy="1453.2" r="8.14"/>
<circle class="c9" cx="1687.0" cy="1529.6" r="8.14"/>
<circle class="c10" cx="1695.5" cy="1503.3" r="8.14"/>
<circle class="c3" cx="1679.9" cy="1496.4" r="8.14"/>
<circle class="c10" cx="1686.5" cy="1525.9" r="8.14"/>
<circle class="c10" cx="1645.2" cy="1404.3" r="8.14"/>
<circle class="c9" cx="1704.9" cy="1529.7" r="8.14"/>
<circle class="c9" cx="1673.9" cy="1525.5" r="8.14"/>
<circle class="c13" cx="1729.7" cy="1504.5" r="8.14"/>
<circle class="c12" cx="1655.0" cy="1470.6" r="8.14"/>
<circle class="c9" cx="1726.1" cy="1522.3" r="8.14"/>
<circle class="c3" cx="1707.3" cy="1188.0" r="8.14"/>
<circle class="c8" cx="1646.4" cy="1511.8" r="8.14"/>
<circle class="c6" cx="1683.8" cy="1428.2" r="8.14"/>
<circle class="c6" cx="1691.8" cy="1526.5" r="8.14"/>
<circle class="c13" cx="1690.8" cy="1367.8" r="8.14"/>
<circle class="c7" cx="1713.1" cy="1527.4" r="8.14"/>
<circle class="c11" cx="1687.2" cy="1529.3" r="8.14"/>
<circle class="c3" cx="1698.6" cy="1493.3" r="8.14"/>
<circle class="c13" cx="1646.7" cy="1482.9" r="8.14"/>
<circle class="c7" cx="1680.5" cy="1529.9" r="8.14"/>
<circle class="c12" cx="1661.2" cy="1495.5" r="8.14"/>
<circle class="c9" cx="1729.6" cy="1523.3" r="8.14"/>
<circle class="c6" cx="1651.8" cy="1490.5" r="8.14"/>
<circle class="c9" cx="1646.9" cy="1513.5" r="8.14"/>
<circle class="c10" cx="1697.3" cy="1525.2" r="8.14"/>
<circle class="c14" cx="1677.8" cy="1512.4" r="8.14"/>
<circle class="c7" cx="1733.4" cy="1503.1" r="8.14"/>
<circle class="c13" cx="1717.6" cy="1503.7" r="8.14"/>
<circle class="c8" cx="1670.2" cy="1529.7" r="8.14"/>
<circle class="c10" cx="1705.0" cy="1428.3" r="8.14"/>
<circle class="c13" cx="1734.5" cy="1505.0" r="8.14"/>
<circle class="c10" cx="1694.5" cy="1512.8" r="8.14"/>
<circle class="c10" cx="1716.0" cy="1499.8" r="8.14"/>
<circle class="c1" cx="1668.5" cy="1474.8" r="8.14"/>
<circle class="c3" cx="1708.7" cy="1483.6" r="8.14"/>
<circle class="c8" cx="1690.1" cy="1513.5" r="8.14"/>
<circle class="c13" cx="1651.8" cy="1505.0" r="8.14"/>
<circle class="c9" cx="1734.9" cy="1529.8" r="8.14"/>
<circle class="c5" cx="1687.2" cy="1444.4" r="8.14"/>
<circle class="c4" cx="1661.3" cy="1435.0" r="8.14"/>
<circle class="c3" cx="1689.3" cy="1396.4" r="8.14"/>
<circle class="c3" cx="1710.7" cy="1386.5" r="8.14"/>
<circle class="c5" cx="1645.7" cy="1509.4" r="8.14"/>
<circle class="c13" cx="1735.0" cy="1492.3" r="8.14"/>
<circle class="c10" cx="1703.2" cy="1501.9" r="8.14"/>
<circle class="c7" cx="1664.4" cy="1528.2" r="8.14"/>
<circle class="c9" cx="1653.8" cy="1528.7" r="8.14"/>
<circle class="c4" cx="1675.9" cy="1201.6" r="8.14"/>
<circle class="c9" cx="1670.6" cy="1508.9" r="8.14"/>
<circle class="c3" cx="1691.6" cy="1478.8" r="8.14"/>
<circle class="c7" cx="1720.6" cy="1529.5" r="8.14"/>
<circle class="c5" cx="1727.0" cy="1466.0" r="8.14"/>
<circle class="c13" cx="1649.2" cy="1516.4" r="8.14"/>
<circle class="c9" cx="1715.0" cy="1527.4" r="8.14"/>
<circle class="c5" cx="1653.0" cy="1524.3" r="8.14"/>
<circle class="c9" cx="1680.4" cy="1530.0" r="8.14"/>
<circle class="c10" cx="1666.3" cy="1527.0" r="8.14"/>
<circle class="c3" cx="1660.3" cy="1358.9" r="8.14"/>
<circle class="c7" cx="1700.9" cy="1528.3" r="8.14"/>
<circle class="c9" cx="1713.4" cy="1528.7" r="8.14"/>
<circle class="c7" cx="1654.9" cy="1503.7" r="8.14"/>
<circle class="c6" cx="1695.3" cy="1529.9" r="8.14"/>
<circle class="c9" cx="1681.8" cy="1529.2" r="8.14"/>
<circle class="c3" cx="1653.2" cy="1438.5" r="8.14"/>
<circle class="c9" cx="1731.4" cy="1530.0" r="8.14"/>
<circle class="c5" cx="1717.3" cy="1443.9" r="8.14"/>
<circle class="c6" cx="1695.3" cy="1366.5" r="8.14"/>
<circle class="c5" cx="1645.4" cy="1424.7" r="8.14"/>
<circle class="c10" cx="1677.8" cy="1530.0" r="8.14"/>
<circle class="c13" cx="1646.6" cy="1463.9" r="8.14"/>
<circle class="c5" cx="1650.3" cy="1528.6" r="8.14"/>
<circle class="c9" cx="1674.6" cy="1529.1" r="8.14"/>
<circle class="c3" cx="1646.5" cy="1436.1" r="8.14"/>
<circle class="c8" cx="1692.7" cy="1530.0" r="8.14"/>
<circle class="c13" cx="1659.3" cy="1501.7" r="8.14"/>
<circle class="c2" cx="1727.0" cy="1503.9" r="8.14"/>
<circle class="c10" cx="1732.7" cy="1525.9" r="8.14"/>
<circle class="c8" cx="1732.4" cy="1524.7" r="8.14"/>
<circle class="c14" cx="1653.3" cy="1490.3" r="8.14"/>
<circle class="c5" cx="1717.6" cy="1506.1" r="8.14"/>
<circle class="c5" cx="1735.2" cy="1501.3" r="8.14"/>
<circle class="c10" cx="1666.5" cy="1465.0" r="8.14"/>
<circle class="c14" cx="1728.2" cy="1500.8" r="8.14"/>
<circle class="c10" cx="1650.5" cy="1516.8" r="8.14"/>
<circle class="c9" cx="1687.6" cy="1521.9" r="8.14"/>
<circle class="c4" cx="1714.6" cy="1421.1" r="8.14"/>
<circle class="c6" cx="1679.4" cy="1517.8" r="8.14"/>
<circle class="c7" cx="1653.7" cy="1471.8" r="8.14"/>
<circle class="c2" cx="1707.4" cy="1444.1" r="8.14"/>
<circle class="c8" cx="1725.6" cy="1502.0" r="8.14"/>
<circle class="c12" cx="1693.4" cy="1487.0" r="8.14"/>
<circle class="c10" cx="1734.1" cy="1466.1" r="8.14"/>
<circle class="c12" cx="1656.5" cy="1505.3" r="8.14"/>
<circle class="c7" cx="1680.1" cy="1499.8" r="8.14"/>
<circle class="c5" cx="1683.2" cy="1472.5" r="8.14"/>
<circle class="c10" cx="1720.9" cy="1527.2" r="8.14"/>
<circle class="c9" cx="1652.7" cy="1521.7" r="8.14"/>
<circle class="c9" cx="1650.4" cy="1517.6" r="8.14"/>
<circle class="c3" cx="1707.9" cy="1355.1" r="8.14"/>
<circle class="c13" cx="1680.4" cy="1500.3" r="8.14"/>
<circle class="c10" cx="1649.5" cy="1498.8" r="8.14"/>
<circle class="c6" cx="1707.3" cy="1423.3" r="8.14"/>
<circle class="c10" cx="1675.8" cy="1527.0" r="8.14"/>
<circle class="c12" cx="1668.0" cy="1502.0" r="8.14"/>
<circle class="c3" cx="1712.2" cy="1424.6" r="8.14"/>
<circle class="c7" cx="1671.1" cy="1426.5" r="8.14"/>
<circle class="c10" cx="1724.3" cy="1378.6" r="8.14"/>
<circle class="c10" cx="1731.8" cy="1424.2" r="8.14"/>
<circle class="c6" cx="1657.1" cy="1362.6" r="8.14"/>
<circle class="c6" cx="1676.6" cy="1502.4" r="8.14"/>
<circle class="c10" cx="1662.8" cy="1488.4" r="8.14"/>
<circle class="c3" cx="1702.2" cy="1372.5" r="8.14"/>
<circle class="c6" cx="1681.2" cy="1454.0" r="8.14"/>
<circle class="c5" cx="1645.5" cy="1393.6" r="8.14"/>
<circle class="c6" cx="1715.3" cy="1530.0" r="8.14"/>
<circle class="c10" cx="1715.3" cy="1524.1" r="8.14"/>
<circle class="c11" cx="1729.3" cy="1529.9" r="8.14"/>
<circle class="c8" cx="1709.2" cy="1492.8" r="8.14"/>
<circle class="c13" cx="1686.5" cy="1502.9" r="8.14"/>
<circle class="c8" cx="1700.9" cy="1469.3" r="8.14"/>
<circle class="c7" cx="1668.2" cy="1497.6" r="8.14"/>
<circle class="c11" cx="1726.7" cy="1459.8" r="8.14"/>
<circle class="c6" cx="1662.9" cy="1525.4" r="8.14"/>
<circle class="c6" cx="1723.7" cy="1523.5" r="8.14"/>
<circle class="c6" cx="1680.6" cy="1439.1" r="8.14"/>
<circle class="c8" cx="1652.0" cy="1505.3" r="8.14"/>
<circle class="c13" cx="1698.3" cy="1530.0" r="8.14"/>
<circle class="c10" cx="1647.4" cy="1518.0" r="8.14"/>
<circle class="c8" cx="1720.5" cy="1484.1" r="8.14"/>
<circle class="c14" cx="1717.9" cy="1452.2" r="8.14"/>
<circle class="c14" cx="1650.1" cy="1491.8" r="8.14"/>
<circle class="c7" cx="1669.3" cy="1501.9" r="8.14"/>
<circle class="c10" cx="1682.5" cy="1496.8" r="8.14"/>
<circle class="c10" cx="1653.2" cy="1505.1" r="8.14"/>
<circle class="c10" cx="1708.3" cy="1511.6" r="8.14"/>
<circle class="c9" cx="1683.1" cy="1519.8" r="8.14"/>
<circle class="c10" cx="1729.3" cy="1524.1" r="8.14"/>
<circle class="c8" cx="1713.9" cy="1525.1" r="8.14"/>
<circle class="c10" cx="1731.0" cy="1503.7" r="8.14"/>
<circle class="c9" cx="1664.0" cy="1520.1" r="8.14"/>
<circle class="c0" cx="1734.5" cy="1457.7" r="8.14"/>
<circle class="c7" cx="1730.4" cy="1429.8" r="8.14"/>
<circle class="c10" cx="1714.1" cy="1529.4" r="8.14"/>
<circle class="c6" cx="1671.8" cy="1457.6" r="8.14"/>
<circle class="c5" cx="1674.5" cy="1518.8" r="8.14"/>
<circle class="c13" cx="1671.3" cy="1505.2" r="8.14"/>
<circle class="c9" cx="1724.3" cy="1510.0" r="8.14"/>
<circle class="c3" cx="1666.7" cy="1496.3" r="8.14"/>
<circle class="c7" cx="1678.2" cy="1444.8" r="8.14"/>
<circle class="c8" cx="1693.5" cy="1527.3" r="8.14"/>
<circle class="c6" cx="1661.7" cy="1277.5" r="8.14"/>
<circle class="c13" cx="1672.0" cy="1493.7" r="8.14"/>
<circle class="c11" cx="1669.3" cy="1505.8" r="8.14"/>
<circle class="c10" cx="1716.5" cy="1505.0" r="8.14"/>
<circle class="c7" cx="1706.3" cy="1425.4" r="8.14"/>
<circle class="c8" cx="1655.4" cy="1528.6" r="8.14"/>
<circle class="c3" cx="1725.8" cy="1428.4" r="8.14"/>
<circle class="c7" cx="1654.3" cy="1460.8" r="8.14"/>
<circle class="c7" cx="1683.2" cy="1523.6" r="8.14"/>
<circle class="c13" cx="1702.6" cy="1412.6" r="8.14"/>
<circle class="c7" cx="1649.8" cy="1507.7" r="8.14"/>
<circle class="c9" cx="1674.1" cy="1529.0" r="8.14"/>
<circle class="c3" cx="1690.0" cy="1402.3" r="8.14"/>
<circle class="c7" cx="1704.6" cy="1521.9" r="8.14"/>
<circle class="c10" cx="1677.9" cy="1530.0" r="8.14"/>
<circle class="c2" cx="1655.6" cy="1426.4" r="8.14"/>
<circle class="c9" cx="1650.9" cy="1514.9" r="8.14"/>
<circle class="c7" cx="1647.0" cy="1457.8" r="8.14"/>
<circle class="c3" cx="1662.7" cy="1293.4" r="8.14"/>
<circle class="c13" cx="1710.8" cy="1497.2" r="8.14"/>
<circle class="c8" cx="1647.5" cy="1528.6" r="8.14"/>
<circle class="c10" cx="1706.3" cy="1509.4" r="8.14"/>
<circle class="c13" cx="1724.1" cy="1499.8" r="8.14"/>
<circle class="c9" cx="1708.8" cy="1515.4" r="8.14"/>
<circle class="c10" cx="1671.3" cy="1516.4" r="8.14"/>
<circle class="c7" cx="1660.5" cy="1477.5" r="8.14"/>
<circle class="c6" cx="1664.2" cy="1530.0" r="8.14"/>
<circle class="c10" cx="1722.7" cy="1525.1" r="8.14"/>
<circle class="c8" cx="1653.5" cy="1495.8" r="8.14"/>
<circle class="c1" cx="1654.3" cy="1485.2" r="8.14"/>
<circle class="c2" cx="1672.6" cy="1451.7" r="8.14"/>
<circle class="c7" cx="1728.4" cy="1528.8" r="8.14"/>
<circle class="c9" cx="1647.5" cy="1506.5" r="8.14"/>
<circle class="c8" cx="1716.2" cy="1522.5" r="8.14"/>
<circle class="c6" cx="1665.0" cy="1189.4" r="8.14"/>
<circle class="c8" cx="1723.9" cy="1491.9" r="8.14"/>
<circle class="c7" cx="1671.0" cy="1501.7" r="8.14"/>
<circle class="c10" cx="1659.3" cy="1466.0" r="8.14"/>
<circle class="c6" cx="1679.9" cy="1529.9" r="8.14"/>
<circle class="c6" cx="1656.4" cy="1421.2" r="8.14"/>
<circle class="c12" cx="1647.2" cy="1510.9" r="8.14"/>
<circle class="c10" cx="1651.6" cy="1509.2" r="8.14"/>
<circle class="c7" cx="1665.0" cy="1527.3" r="8.14"/>
<circle class="c7" cx="1707.7" cy="1462.7" r="8.14"/>
<circle class="c3" cx="1657.1" cy="1192.8" r="8.14"/>
<circle class="c9" cx="1691.9" cy="1515.9" r="8.14"/>
<circle class="c10" cx="1648.0" cy="1490.9" r="8.14"/>
<circle class="c3" cx="1668.5" cy="1269.7" r="8.14"/>
<circle class="c6" cx="1689.4" cy="1526.7" r="8.14"/>
<circle class="c3" cx="1714.2" cy="1426.2" r="8.14"/>
<circle class="c13" cx="1690.8" cy="1525.0" r="8.14"/>
<circle class="c13" cx="1704.8" cy="1472.3" r="8.14"/>
<circle class="c3" cx="1658.2" cy="1314.4" r="8.14"/>
<circle class="c9" cx="1673.4" cy="1529.1" r="8.14"/>
<circle class="c7" cx="1714.9" cy="1528.2" r="8.14"/>
<circle class="c10" cx="1661.7" cy="1432.7" r="8.14"/>
<circle class="c13" cx="1647.5" cy="1465.9" r="8.14"/>
<circle class="c12" cx="1716.5" cy="1466.5" r="8.14"/>
<circle class="c6" cx="1700.4" cy="1528.9" r="8.14"/>
<circle class="c8" cx="1716.8" cy="1529.8" r="8.14"/>
<circle class="c14" cx="1725.3" cy="1442.6" r="8.14"/>
<circle class="c7" cx="1688.4" cy="1474.8" r="8.14"/>
<circle class="c8" cx="1687.5" cy="1504.9" r="8.14"/>
<circle class="c13" cx="1711.7" cy="1471.4" r="8.14"/>
<circle class="c7" cx="1721.8" cy="1507.1" r="8.14"/>
<circle class="c5" cx="1724.4" cy="1425.9" r="8.14"/>
<circle class="c9" cx="1693.9" cy="1529.7" r="8.14"/>
<circle class="c3" cx="1698.1" cy="1450.0" r="8.14"/>
<circle class="c9" cx="1706.5" cy="1526.8" r="8.14"/>
<circle class="c6" cx="1664.2" cy="1510.1" r="8.14"/>
<circle class="c5" cx="1660.5" cy="1519.6" r="8.14"/>
<circle class="c13" cx="1703.3" cy="1501.9" r="8.14"/>
<circle class="c9" cx="1651.5" cy="1515.0" r="8.14"/>
<circle class="c7" cx="1695.3" cy="1530.0" r="8.14"/>
<circle class="c11" cx="1688.2" cy="1529.3" r="8.14"/>
<circle class="c7" cx="1686.6" cy="1510.7" r="8.14"/>
<circle class="c13" cx="1693.1" cy="1474.9" r="8.14"/>
<circle class="c13" cx="1653.0" cy="1467.0" r="8.14"/>
<circle class="c11" cx="1707.1" cy="1527.7" r="8.14"/>
<circle class="c6" cx="1684.2" cy="1509.9" r="8.14"/>
<circle class="c5" cx="1704.9" cy="1530.0" r="8.14"/>
<circle class="c13" cx="1664.8" cy="1462.5" r="8.14"/>
<circle class="c3" cx="1726.3" cy="1529.8" r="8.14"/>
<circle class="c6" cx="1649.5" cy="1530.0" r="8.14"/>
<circle class="c7" cx="1668.2" cy="1529.2" r="8.14"/>
<circle class="c3" cx="1694.9" cy="1427.2" r="8.14"/>
<circle class="c13" cx="1687.3" cy="1430.3" r="8.14"/>
<circle class="c13" cx="1676.7" cy="1471.8" r="8.14"/>
<circle class="c3" cx="1662.5" cy="1502.3" r="8.14"/>
<circle class="c9" cx="1731.8" cy="1497.5" r="8.14"/>
<circle class="c7" cx="1680.5" cy="1528.1" r="8.14"/>
<circle class="c10" cx="1709.6" cy="1484.0" r="8.14"/>
<circle class="c10" cx="1729.0" cy="1516.0" r="8.14"/>
<circle class="c12" cx="1718.5" cy="1528.4" r="8.14"/>
<circle class="c7" cx="1722.2" cy="1529.7" r="8.14"/>
<circle class="c10" cx="1663.6" cy="1530.0" r="8.14"/>
<circle class="c6" cx="1715.0" cy="1494.4" r="8.14"/>
<circle class="c9" cx="1724.6" cy="1509.1" r="8.14"/>
<circle class="c9" cx="1654.3" cy="1513.1" r="8.14"/>
<circle class="c3" cx="1663.2" cy="1329.5" r="8.14"/>
<circle class="c7" cx="1709.1" cy="1514.2" r="8.14"/>
<circle class="c7" cx="1693.0" cy="1530.0" r="8.14"/>
<circle class="c13" cx="1679.7" cy="1392.7" r="8.14"/>
<circle class="c10" cx="1733.3" cy="1529.2" r="8.14"/>
<circle class="c7" cx="1647.3" cy="1524.8" r="8.14"/>
<circle class="c3" cx="1657.4" cy="1442.9" r="8.14"/>
<circle class="c5" cx="1696.8" cy="1455.3" r="8.14"/>
<circle class="c12" cx="1653.8" cy="1506.7" r="8.14"/>
<circle class="c13" cx="1694.6" cy="1482.7" r="8.14"/>
<circle class="c5" cx="1688.5" cy="1430.4" r="8.14"/>
<circle class="c7" cx="1714.5" cy="1529.3" r="8.14"/>
<circle class="c8" cx="1654.6" cy="1529.3" r="8.14"/>
<circle class="c7" cx="1721.0" cy="1517.0" r="8.14"/>
<circle class="c13" cx="1646.4" cy="1384.5" r="8.14"/>
<circle class="c8" cx="1650.5" cy="1519.9" r="8.14"/>
<circle class="c6" cx="1706.6" cy="1491.4" r="8.14"/>
<circle class="c9" cx="1724.7" cy="1529.7" r="8.14"/>
<circle class="c4" cx="1702.3" cy="1402.8" r="8.14"/>
<circle class="c14" cx="1709.0" cy="1467.6" r="8.14"/>
<circle class="c13" cx="1728.8" cy="1505.5" r="8.14"/>
<circle class="c6" cx="1678.9" cy="1520.5" r="8.14"/>
<circle class="c6" cx="1730.0" cy="1507.7" r="8.14"/>
<circle class="c6" cx="1665.3" cy="1501.0" r="8.14"/>
<circle class="c14" cx="1649.9" cy="1466.7" r="8.14"/>
<circle class="c9" cx="1665.4" cy="1522.3" r="8.14"/>
<circle class="c7" cx="1726.2" cy="1529.6" r="8.14"/>
<circle class="c8" cx="1733.5" cy="1529.2" r="8.14"/>
<circle class="c3" cx="1677.9" cy="1291.7" r="8.14"/>
<circle class="c7" cx="1722.2" cy="1508.7" r="8.14"/>
<circle class="c3" cx="1663.1" cy="1394.3" r="8.14"/>
<circle class="c3" cx="1730.0" cy="1470.0" r="8.14"/>
<circle class="c9" cx="1694.7" cy="1517.0" r="8.14"/>
<circle class="c8" cx="1671.4" cy="1514.2" r="8.14"/>
<circle class="c9" cx="1645.3" cy="1525.2" r="8.14"/>
<circle class="c3" cx="1666.5" cy="1442.5" r="8.14"/>
<circle class="c10" cx="1709.1" cy="1464.3" r="8.14"/>
<circle class="c14" cx="1699.2" cy="1502.9" r="8.14"/>
<circle class="c8" cx="1712.7" cy="1529.1" r="8.14"/>
<circle class="c7" cx="1708.7" cy="1515.9" r="8.14"/>
<circle class="c7" cx="1646.7" cy="1526.9" r="8.14"/>
<circle class="c7" cx="1718.7" cy="1512.0" r="8.14"/>
<circle class="c7" cx="1645.0" cy="1506.7" r="8.14"/>
<circle class="c10" cx="1680.5" cy="1509.6" r="8.14"/>
<circle class="c9" cx="1664.9" cy="1510.7" r="8.14"/>
<circle class="c5" cx="1690.5" cy="1441.4" r="8.14"/>
<circle class="c8" cx="1663.2" cy="1526.9" r="8.14"/>
<circle class="c7" cx="1655.3" cy="1514.7" r="8.14"/>
<circle class="c9" cx="1731.0" cy="1492.0" r="8.14"/>
<circle class="c9" cx="1713.0" cy="1527.2" r="8.14"/>
<circle class="c5" cx="1696.4" cy="1529.7" r="8.14"/>
<circle class="c10" cx="1686.7" cy="1424.2" r="8.14"/>
<circle class="c9" cx="1682.3" cy="1528.8" r="8.14"/>
<circle class="c3" cx="1648.5" cy="1226.8" r="8.14"/>
<circle class="c10" cx="1692.7" cy="1526.0" r="8.14"/>
<circle class="c13" cx="1663.7" cy="1496.0" r="8.14"/>
<circle class="c9" cx="1696.9" cy="1524.9" r="8.14"/>
<circle class="c7" cx="1723.9" cy="1523.3" r="8.14"/>
<circle class="c13" cx="1650.7" cy="1480.3" r="8.14"/>
<circle class="c3" cx="1702.1" cy="1192.8" r="8.14"/>
<circle class="c3" cx="1716.1" cy="1294.9" r="8.14"/>
<circle class="c10" cx="1646.0" cy="1528.5" r="8.14"/>
<circle class="c3" cx="1699.3" cy="1483.2" r="8.14"/>
<circle class="c9" cx="1647.4" cy="1513.7" r="8.14"/>
<circle class="c6" cx="1656.6" cy="1526.9" r="8.14"/>
<circle class="c13" cx="1658.4" cy="1443.6" r="8.14"/>
<circle class="c14" cx="1678.4" cy="1488.2" r="8.14"/>
<circle class="c7" cx="1648.1" cy="1438.6" r="8.14"/>
<circle class="c10" cx="1727.4" cy="1524.9" r="8.14"/>
<circle class="c10" cx="1704.9" cy="1515.0" r="8.14"/>
<circle class="c9" cx="1700.8" cy="1525.6" r="8.14"/>
<circle class="c13" cx="1725.8" cy="1478.0" r="8.14"/>
<circle class="c9" cx="1731.8" cy="1507.8" r="8.14"/>
<circle class="c13" cx="1732.7" cy="1506.7" r="8.14"/>
<circle class="c9" cx="1692.9" cy="1527.5" r="8.14"/>
<circle class="c9" cx="1706.3" cy="1529.1" r="8.14"/>
<circle class="c10" cx="1732.9" cy="1501.8" r="8.14"/>
<circle class="c11" cx="1733.0" cy="1516.2" r="8.14"/>
<circle class="c9" cx="1721.9" cy="1529.9" r="8.14"/>
<circle class="c10" cx="1699.6" cy="1508.0" r="8.14"/>
<circle class="c6" cx="1729.4" cy="1529.8" r="8.14"/>
<circle class="c7" cx="1697.9" cy="1441.1" r="8.14"/>
<circle class="c9" cx="1730.2" cy="1515.5" r="8.14"/>
<circle class="c7" cx="1683.7" cy="1506.3" r="8.14"/>
<circle class="c3" cx="1681.8" cy="1344.8" r="8.14"/>
<circle class="c12" cx="1730.9" cy="1496.4" r="8.14"/>
<circle class="c7" cx="1709.5" cy="1518.1" r="8.14"/>
<circle class="c6" cx="1652.7" cy="1530.0" r="8.14"/>
<circle class="c5" cx="1725.2" cy="1523.9" r="8.14"/>
<circle class="c10" cx="1648.4" cy="1528.8" r="8.14"/>
<circle class="c7" cx="1648.9" cy="1505.4" r="8.14"/>
<circle class="c7" cx="1725.1" cy="1512.0" r="8.14"/>
<circle class="c7" cx="1664.3" cy="1529.9" r="8.14"/>
<circle class="c14" cx="1694.0" cy="1488.3" r="8.14"/>
<circle class="c12" cx="1673.2" cy="1506.4" r="8.14"/>
<circle class="c10" cx="1652.2" cy="1343.1" r="8.14"/>
<circle class="c8" cx="1649.2" cy="1471.4" r="8.14"/>
<circle class="c1" cx="1720.1" cy="1467.1" r="8.14"/>
<circle class="c13" cx="1723.0" cy="1528.2" r="8.14"/>
<circle class="c9" cx="1667.2" cy="1489.2" r="8.14"/>
<circle class="c4" cx="1682.8" cy="1440.3" r="8.14"/>
<circle class="c5" cx="1699.5" cy="1434.1" r="8.14"/>
<circle class="c10" cx="1709.0" cy="1515.2" r="8.14"/>
<circle class="c1" cx="1724.5" cy="1455.9" r="8.14"/>
<circle class="c9" cx="1667.8" cy="1529.8" r="8.14"/>
<circle class="c9" cx="1666.1" cy="1505.8" r="8.14"/>
<circle class="c5" cx="1720.3" cy="1515.0" r="8.14"/>
<circle class="c7" cx="1649.5" cy="1529.9" r="8.14"/>
<circle class="c13" cx="1659.4" cy="1480.2" r="8.14"/>
<circle class="c10" cx="1666.0" cy="1528.8" r="8.14"/>
<circle class="c3" cx="1648.0" cy="1359.0" r="8.14"/>
<circle class="c13" cx="1699.5" cy="1475.7" r="8.14"/>
<circle class="c5" cx="1705.9" cy="1523.0" r="8.14"/>
<circle class="c6" cx="1701.5" cy="1529.8" r="8.14"/>
<circle class="c8" cx="1672.5" cy="1520.1" r="8.14"/>
<circle class="c7" cx="1732.1" cy="1426.1" r="8.14"/>
<circle class="c7" cx="1718.2" cy="1526.3" r="8.14"/>
<circle class="c0" cx="1718.0" cy="1438.1" r="8.14"/>
<circle class="c7" cx="1662.6" cy="1457.5" r="8.14"/>
<circle class="c10" cx="1706.6" cy="1529.6" r="8.14"/>
<circle class="c10" cx="1726.9" cy="1528.6" r="8.14"/>
<circle class="c1" cx="1653.6" cy="1494.8" r="8.14"/>
<circle class="c3" cx="1713.2" cy="1486.7" r="8.14"/>
<circle class="c3" cx="1711.9" cy="1475.6" r="8.14"/>
<circle class="c3" cx="1706.3" cy="1507.5" r="8.14"/>
<circle class="c14" cx="1706.0" cy="1459.6" r="8.14"/>
<circle class="c8" cx="1647.8" cy="1501.1" r="8.14"/>
<circle class="c8" cx="1664.2" cy="1507.5" r="8.14"/>
<circle class="c7" cx="1704.3" cy="1437.3" r="8.14"/>
<circle class="c10" cx="1685.9" cy="1444.6" r="8.14"/>
<circle class="c10" cx="1672.7" cy="1524.3" r="8.14"/>
<circle class="c5" cx="1677.0" cy="1380.3" r="8.14"/>
<circle class="c5" cx="1652.8" cy="1434.3" r="8.14"/>
<circle class="c10" cx="1711.9" cy="1504.6" r="8.14"/>
<circle class="c10" cx="1682.0" cy="1529.3" r="8.14"/>
<circle class="c5" cx="1705.3" cy="1529.6" r="8.14"/>
<circle class="c3" cx="1658.0" cy="1328.4" r="8.14"/>
<circle class="c9" cx="1652.9" cy="1499.3" r="8.14"/>
<circle class="c13" cx="1700.9" cy="1506.3" r="8.14"/>
<circle class="c13" cx="1711.3" cy="1471.6" r="8.14"/>
<circle class="c3" cx="1727.8" cy="1448.2" r="8.14"/>
<circle class="c5" cx="1715.0" cy="1489.6" r="8.14"/>
<circle class="c9" cx="1690.3" cy="1516.1" r="8.14"/>
<circle class="c10" cx="1655.3" cy="1527.4" r="8.14"/>
<circle class="c10" cx="1717.9" cy="1507.7" r="8.14"/>
<circle class="c10" cx="1686.8" cy="1501.5" r="8.14"/>
<circle class="c6" cx="1675.7" cy="1322.3" r="8.14"/>
<circle class="c13" cx="1646.1" cy="1501.3" r="8.14"/>
<circle class="c8" cx="1645.0" cy="1525.5" r="8.14"/>
<circle class="c8" cx="1730.8" cy="1530.0" r="8.14"/>
<circle class="c10" cx="1690.1" cy="1529.6" r="8.14"/>
<circle class="c12" cx="1679.8" cy="1518.1" r="8.14"/>
<circle class="c13" cx="1722.1" cy="1503.2" r="8.14"/>
<circle class="c13" cx="1675.1" cy="1507.0" r="8.14"/>
<circle class="c13" cx="1699.5" cy="1489.4" r="8.14"/>
<circle class="c3" cx="1671.7" cy="1415.6" r="8.14"/>
<circle class="c6" cx="1717.5" cy="1446.3" r="8.14"/>
<circle class="c10" cx="1650.2" cy="1528.7" r="8.14"/>
<circle class="c5" cx="1692.6" cy="1438.9" r="8.14"/>
<circle class="c9" cx="1693.3" cy="1527.5" r="8.14"/>
<circle class="c13" cx="1724.9" cy="1468.8" r="8.14"/>
<circle class="c15" cx="1699.3" cy="1445.1" r="8.14"/>
<circle class="c11" cx="1659.7" cy="1528.5" r="8.14"/>
<circle class="c3" cx="1720.2" cy="1228.2" r="8.14"/>
<circle class="c4" cx="1698.9" cy="1441.8" r="8.14"/>
<circle class="c12" cx="1665.4" cy="1506.7" r="8.14"/>
<circle class="c10" cx="1687.6" cy="1510.2" r="8.14"/>
<circle class="c10" cx="1646.0" cy="1527.8" r="8.14"/>
<circle class="c3" cx="1656.1" cy="1491.4" r="8.14"/>
<circle class="c8" cx="1666.4" cy="1526.1" r="8.14"/>
<circle class="c5" cx="1651.6" cy="1527.2" r="8.14"/>
<circle class="c6" cx="1703.3" cy="1530.0" r="8.14"/>
<circle class="c1" cx="1688.3" cy="1472.6" r="8.14"/>
<circle class="c6" cx="1672.2" cy="1190.2" r="8.14"/>
<circle class="c12" cx="1663.1" cy="1527.1" r="8.14"/>
<circle class="c13" cx="1672.5" cy="1511.7" r="8.14"/>
<circle class="c7" cx="1664.0" cy="1529.8" r="8.14"/>
<circle class="c3" cx="1645.1" cy="1461.1" r="8.14"/>
<circle class="c7" cx="1686.6" cy="1528.9" r="8.14"/>
<circle class="c9" cx="1701.8" cy="1518.7" r="8.14"/>
<circle class="c13" cx="1701.9" cy="1514.0" r="8.14"/>
<circle class="c9" cx="1717.6" cy="1512.0" r="8.14"/>
<circle class="c3" cx="1667.1" cy="1323.8" r="8.14"/>
<circle class="c6" cx="1672.0" cy="1473.8" r="8.14"/>
<circle class="c13" cx="1656.8" cy="1514.5" r="8.14"/>
<circle class="c10" cx="1658.5" cy="1529.9" r="8.14"/>
<circle class="c6" cx="1685.0" cy="1441.2" r="8.14"/>
<circle class="c7" cx="1731.1" cy="1530.0" r="8.14"/>
<circle class="c10" cx="1666.5" cy="1484.7" r="8.14"/>
<circle class="c6" cx="1666.3" cy="1506.2" r="8.14"/>
<circle class="c10" cx="1688.0" cy="1508.1" r="8.14"/>
<circle class="c5" cx="1714.0" cy="1525.5" r="8.14"/>
<circle class="c10" cx="1731.6" cy="1523.3" r="8.14"/>
<circle class="c7" cx="1667.5" cy="1528.2" r="8.14"/>
<circle class="c9" cx="1665.2" cy="1514.8" r="8.14"/>
<circle class="c9" cx="1726.0" cy="1519.9" r="8.14"/>
<circle class="c9" cx="1662.1" cy="1513.3" r="8.14"/>
<circle class="c7" cx="1645.0" cy="1509.7" r="8.14"/>
<circle class="c7" cx="1674.7" cy="1493.3" r="8.14"/>
<circle class="c9" cx="1680.2" cy="1530.0" r="8.14"/>
<circle class="c8" cx="1671.1" cy="1519.4" r="8.14"/>
<circle class="c9" cx="1658.3" cy="1529.8" r="8.14"/>
<circle class="c3" cx="1712.9" cy="1440.4" r="8.14"/>
<circle class="c13" cx="1668.3" cy="1474.5" r="8.14"/>
<circle class="c8" cx="1650.8" cy="1503.3" r="8.14"/>
<circle class="c10" cx="1694.0" cy="1516.1" r="8.14"/>
<circle class="c8" cx="1699.6" cy="1527.0" r="8.14"/>
<circle class="c9" cx="1725.5" cy="1524.8" r="8.14"/>
<circle class="c12" cx="1705.3" cy="1478.4" r="8.14"/>
<circle class="c8" cx="1672.9" cy="1509.1" r="8.14"/>
<circle class="c13" cx="1676.2" cy="1498.8" r="8.14"/>
<circle class="c13" cx="1665.0" cy="1462.1" r="8.14"/>
<circle class="c6" cx="1658.1" cy="1506.1" r="8.14"/>
<circle class="c9" cx="1677.7" cy="1529.8" r="8.14"/>
<circle class="c13" cx="1717.1" cy="1501.9" r="8.14"/>
<circle class="c10" cx="1666.4" cy="1529.4" r="8.14"/>
<circle class="c12" cx="1731.8" cy="1486.4" r="8.14"/>
<circle class="c3" cx="1713.7" cy="1344.8" r="8.14"/>
<circle class="c5" cx="1681.1" cy="1423.7" r="8.14"/>
<circle class="c13" cx="1727.0" cy="1504.0" r="8.14"/>
<circle class="c3" cx="1683.9" cy="1528.8" r="8.14"/>
<circle class="c12" cx="1714.7" cy="1498.5" r="8.14"/>
<circle class="c6" cx="1697.9" cy="1501.3" r="8.14"/>
<circle class="c11" cx="1697.4" cy="1512.7" r="8.14"/>
<circle class="c1" cx="1702.4" cy="1485.7" r="8.14"/>
<circle class="c8" cx="1703.1" cy="1516.2" r="8.14"/>
<circle class="c3" cx="1734.5" cy="1205.0" r="8.14"/>
<circle class="c3" cx="1702.9" cy="1431.4" r="8.14"/>
<circle class="c10" cx="1732.9" cy="1502.6" r="8.14"/>
<circle class="c13" cx="1721.7" cy="1485.6" r="8.14"/>
<circle class="c3" cx="1687.9" cy="1288.6" r="8.14"/>
<circle class="c9" cx="1709.4" cy="1525.8" r="8.14"/>
<circle class="c6" cx="1680.6" cy="1527.6" r="8.14"/>
<circle class="c7" cx="1646.2" cy="1519.8" r="8.14"/>
<circle class="c7" cx="1706.7" cy="1530.0" r="8.14"/>
<circle class="c12" cx="1686.6" cy="1467.9" r="8.14"/>
<circle class="c12" cx="1682.2" cy="1527.4" r="8.14"/>
<circle class="c4" cx="1720.6" cy="1457.4" r="8.14"/>
<circle class="c13" cx="1698.5" cy="1517.9" r="8.14"/>
<circle class="c4" cx="1690.4" cy="1456.4" r="8.14"/>
<circle class="c3" cx="1707.4" cy="1322.8" r="8.14"/>
<circle class="c4" cx="1660.4" cy="1442.6" r="8.14"/>
<circle class="c5" cx="1708.1" cy="1359.2" r="8.14"/>
<circle class="c10" cx="1651.3" cy="1512.9" r="8.14"/>
<circle class="c8" cx="1733.0" cy="1528.2" r="8.14"/>
<circle class="c10" cx="1662.2" cy="1524.7" r="8.14"/>
<circle class="c8" cx="1703.3" cy="1504.6" r="8.14"/>
<circle class="c8" cx="1655.4" cy="1482.0" r="8.14"/>
<circle class="c10" cx="1655.9" cy="1510.2" r="8.14"/>
<circle class="c11" cx="1733.4" cy="1505.3" r="8.14"/>
<circle class="c6" cx="1733.7" cy="1459.6" r="8.14"/>
<circle class="c3" cx="1673.6" cy="1501.4" r="8.14"/>
<circle class="c9" cx="1669.5" cy="1524.4" r="8.14"/>
<circle class="c13" cx="1724.8" cy="1529.9" r="8.14"/>
<circle class="c5" cx="1731.4" cy="1485.3" r="8.14"/>
<circle class="c2" cx="1669.2" cy="1496.4" r="8.14"/>
<circle class="c3" cx="1710.3" cy="1502.4" r="8.14"/>
<circle class="c14" cx="1727.4" cy="1514.2" r="8.14"/>
<circle class="c9" cx="1725.5" cy="1522.4" r="8.14"/>
<circle class="c13" cx="1733.9" cy="1467.1" r="8.14"/>
<circle class="c13" cx="1679.7" cy="1529.9" r="8.14"/>
<circle class="c12" cx="1656.7" cy="1481.9" r="8.14"/>
<circle class="c3" cx="1722.7" cy="1425.8" r="8.14"/>
<circle class="c1" cx="1659.6" cy="1472.2" r="8.14"/>
<circle class="c9" cx="1658.6" cy="1499.7" r="8.14"/>
<circle class="c9" cx="1681.9" cy="1434.1" r="8.14"/>
<circle class="c3" cx="1722.9" cy="1292.5" r="8.14"/>
<circle class="c7" cx="1667.8" cy="1520.9" r="8.14"/>
<circle class="c8" cx="1658.8" cy="1505.5" r="8.14"/>
<circle class="c7" cx="1645.2" cy="1446.1" r="8.14"/>
<circle class="c3" cx="1702.2" cy="1384.2" r="8.14"/>
<circle class="c9" cx="1716.4" cy="1530.0" r="8.14"/>
<circle class="c9" cx="1723.0" cy="1527.6" r="8.14"/>
<circle class="c5" cx="1725.3" cy="1520.9" r="8.14"/>
<circle class="c11" cx="1702.8" cy="1529.6" r="8.14"/>
<circle class="c9" cx="1722.2" cy="1528.0" r="8.14"/>
<circle class="c10" cx="1655.7" cy="1530.0" r="8.14"/>
<circle class="c8" cx="1678.2" cy="1508.2" r="8.14"/>
<circle class="c7" cx="1715.2" cy="1529.1" r="8.14"/>
<circle class="c8" cx="1687.3" cy="1509.0" r="8.14"/>
<circle class="c6" cx="1674.1" cy="1525.3" r="8.14"/>
<circle class="c9" cx="1668.4" cy="1529.8" r="8.14"/>
<circle class="c10" cx="1688.6" cy="1529.3" r="8.14"/>
<circle class="c12" cx="1656.9" cy="1528.1" r="8.14"/>
<circle class="c7" cx="1663.8" cy="1501.1" r="8.14"/>
<circle class="c5" cx="1687.3" cy="1527.6" r="8.14"/>
<circle class="c5" cx="1690.1" cy="1509.0" r="8.14"/>
<circle class="c7" cx="1673.5" cy="1509.0" r="8.14"/>
<circle class="c9" cx="1707.2" cy="1512.3" r="8.14"/>
<circle class="c2" cx="1698.0" cy="1434.1" r="8.14"/>
<circle class="c2" cx="1683.8" cy="1432.9" r="8.14"/>
<circle class="c5" cx="1669.4" cy="1527.8" r="8.14"/>
<circle class="c9" cx="1691.5" cy="1503.9" r="8.14"/>
<circle class="c8" cx="1650.2" cy="1520.6" r="8.14"/>
<circle class="c14" cx="1667.9" cy="1470.7" r="8.14"/>
<circle class="c10" cx="1655.2" cy="1434.2" r="8.14"/>
<circle class="c13" cx="1681.8" cy="1511.3" r="8.14"/>
<circle class="c6" cx="1716.5" cy="1526.2" r="8.14"/>
<circle class="c9" cx="1657.5" cy="1527.4" r="8.14"/>
<circle class="c9" cx="1669.3" cy="1524.7" r="8.14"/>
<circle class="c8" cx="1681.4" cy="1529.2" r="8.14"/>
<circle class="c7" cx="1650.8" cy="1526.8" r="8.14"/>
<circle class="c3" cx="1657.7" cy="1438.0" r="8.14"/>
<circle class="c10" cx="1653.7" cy="1530.0" r="8.14"/>
<circle class="c0" cx="1695.9" cy="1421.7" r="8.14"/>
<circle class="c9" cx="1688.7" cy="1529.7" r="8.14"/>
<circle class="c12" cx="1734.7" cy="1509.9" r="8.14"/>
<circle class="c4" cx="1713.1" cy="1372.1" r="8.14"/>
<circle class="c13" cx="1663.7" cy="1370.2" r="8.14"/>
<circle class="c9" cx="1678.8" cy="1524.8" r="8.14"/>
<circle class="c10" cx="1654.8" cy="1455.3" r="8.14"/>
<circle class="c9" cx="1688.5" cy="1524.5" r="8.14"/>
<circle class="c3" cx="1703.1" cy="1304.6" r="8.14"/>
<circle class="c8" cx="1689.6" cy="1529.8" r="8.14"/>
<circle class="c7" cx="1660.7" cy="1530.0" r="8.14"/>
<circle class="c2" cx="1652.7" cy="1450.9" r="8.14"/>
<circle class="c5" cx="1665.7" cy="1454.2" r="8.14"/>
<circle class="c8" cx="1676.5" cy="1530.0" r="8.14"/>
<circle class="c12" cx="1650.0" cy="1507.1" r="8.14"/>
<circle class="c10" cx="1692.7" cy="1433.6" r="8.14"/>
<circle class="c6" cx="1718.5" cy="1360.4" r="8.14"/>
<circle class="c10" cx="1725.9" cy="1529.9" r="8.14"/>
<circle class="c8" cx="1668.2" cy="1504.2" r="8.14"/>
<circle class="c7" cx="1665.4" cy="1524.5" r="8.14"/>
<circle class="c10" cx="1687.4" cy="1519.2" r="8.14"/>
<circle class="c12" cx="1650.7" cy="1505.5" r="8.14"/>
<circle class="c7" cx="1678.3" cy="1523.0" r="8.14"/>
<circle class="c6" cx="1716.8" cy="1503.0" r="8.14"/>
<circle class="c3" cx="1693.8" cy="1427.5" r="8.14"/>
<circle class="c8" cx="1649.7" cy="1529.5" r="8.14"/>
<circle class="c5" cx="1701.5" cy="1318.9" r="8.14"/>
<circle class="c8" cx="1672.9" cy="1529.7" r="8.14"/>
<circle class="c9" cx="1725.0" cy="1505.7" r="8.14"/>
<circle class="c5" cx="1717.5" cy="1425.7" r="8.14"/>
<circle class="c10" cx="1672.3" cy="1529.5" r="8.14"/>
<circle class="c2" cx="1701.4" cy="1488.3" r="8.14"/>
<circle class="c12" cx="1727.0" cy="1509.5" r="8.14"/>
<circle class="c9" cx="1673.3" cy="1443.4" r="8.14"/>
<circle class="c4" cx="1679.5" cy="1373.8" r="8.14"/>
<circle class="c3" cx="1733.0" cy="1331.2" r="8.14"/>
<circle class="c3" cx="1678.1" cy="1271.3" r="8.14"/>
<circle class="c4" cx="1656.5" cy="1221.5" r="8.14"/>
<circle class="c6" cx="1696.4" cy="1401.0" r="8.14"/>
<circle class="c3" cx="1658.2" cy="1281.3" r="8.14"/>
<circle class="c3" cx="1693.1" cy="1366.1" r="8.14"/>
<circle class="c3" cx="1689.7" cy="1194.9" r="8.14"/>
<circle class="c4" cx="1716.3" cy="1313.7" r="8.14"/>
<circle class="c6" cx="1726.3" cy="1223.1" r="8.14"/>
<circle class="c5" cx="1704.4" cy="1235.1" r="8.14"/>
<circle class="c3" cx="1646.5" cy="1258.0" r="8.14"/>
<circle class="c0" cx="1711.4" cy="1328.2" r="8.14"/>
<circle class="c3" cx="1686.4" cy="1309.5" r="8.14"/>
<circle class="c6" cx="1676.1" cy="1298.7" r="8.14"/>
<circle class="c3" cx="1653.2" cy="1360.2" r="8.14"/>
<circle class="c4" cx="1735.9" cy="1268.8" r="8.14"/>
<circle class="c6" cx="1692.2" cy="1320.4" r="8.14"/>
<circle class="c2" cx="1726.3" cy="1220.6" r="8.14"/>
<circle class="c7" cx="1735.4" cy="1277.1" r="8.14"/>
<circle class="c4" cx="1686.4" cy="1223.1" r="8.14"/>
<circle class="c3" cx="1701.4" cy="1279.6" r="8.14"/>
<circle class="c7" cx="1694.7" cy="1246.4" r="8.14"/>
<circle class="c13" cx="1735.9" cy="1412.6" r="8.14"/>
<circle class="c4" cx="1703.4" cy="1188.2" r="8.14"/>
<circle class="c2" cx="1708.0" cy="1279.6" r="8.14"/>
<circle class="c3" cx="1733.0" cy="1290.4" r="8.14"/>
<circle class="c3" cx="1693.9" cy="1290.4" r="8.14"/>
<circle class="c3" cx="1674.8" cy="1286.3" r="8.14"/>
<circle class="c5" cx="1663.5" cy="1183.2" r="8.14"/>
<circle class="c3" cx="1699.7" cy="1253.0" r="8.14"/>
<circle class="c10" cx="1719.7" cy="1361.1" r="8.14"/>
<circle class="c3" cx="1647.4" cy="1284.6" r="8.14"/>
<circle class="c3" cx="1693.1" cy="1215.6" r="8.14"/>
<circle class="c3" cx="1679.8" cy="1332.8" r="8.14"/>
<circle class="c7" cx="1649.0" cy="1174.9" r="8.14"/>
<circle class="c3" cx="1673.1" cy="1185.7" r="8.14"/>
<circle class="c3" cx="1674.8" cy="1364.4" r="8.14"/>
<circle class="c3" cx="1716.3" cy="1228.1" r="8.14"/>
<circle class="c3" cx="1664.8" cy="1199.9" r="8.14"/>
<circle class="c8" cx="1666.5" cy="1253.0" r="8.14"/>
<circle class="c7" cx="1706.4" cy="1363.6" r="8.14"/>
<circle class="c4" cx="1723.3" cy="1198.7" r="8.14"/>
<circle class="c5" cx="1658.2" cy="1390.2" r="8.14"/>
<circle class="c3" cx="1652.9" cy="1303.7" r="8.14"/>
<circle class="c3" cx="1716.3" cy="1336.1" r="8.14"/>
<circle class="c3" cx="1681.4" cy="1249.7" r="8.14"/>
<circle class="c10" cx="1733.0" cy="1377.7" r="8.14"/>
<circle class="c3" cx="1644.3" cy="1251.4" r="8.14"/>
<circle class="c13" cx="1656.5" cy="1414.3" r="8.14"/>
<circle class="c9" cx="1652.9" cy="1196.2" r="8.14"/>
<circle class="c3" cx="1723.0" cy="1274.6" r="8.14"/>
<circle class="c3" cx="1698.1" cy="1203.2" r="8.14"/>
<circle class="c10" cx="1674.8" cy="1414.3" r="8.14"/>
<circle class="c7" cx="1663.2" cy="1404.3" r="8.14"/>
<circle class="c10" cx="1650.7" cy="1242.2" r="8.14"/>
<circle class="c3" cx="1733.0" cy="1179.9" r="8.14"/>
<circle class="c10" cx="1735.9" cy="1360.2" r="8.14"/>
<circle class="c3" cx="1733.8" cy="1312.0" r="8.14"/>
<circle class="c10" cx="1693.1" cy="1334.5" r="8.14"/>
<circle class="c10" cx="1664.8" cy="1274.6" r="8.14"/>
<circle class="c2" cx="1722.2" cy="1399.3" r="8.14"/>
<circle class="c7" cx="1648.2" cy="1401.0" r="8.14"/>
<circle class="c10" cx="1703.0" cy="1273.0" r="8.14"/>
<circle class="c4" cx="1728.0" cy="1250.5" r="8.14"/>
<circle class="c10" cx="1646.5" cy="1360.2" r="8.14"/>
<circle class="c6" cx="1683.1" cy="1218.1" r="8.14"/>
<circle class="c12" cx="1659.8" cy="1319.5" r="8.14"/>
<circle class="c3" cx="1658.2" cy="1329.5" r="8.14"/>
<circle class="c3" cx="1649.9" cy="1343.6" r="8.14"/>
<circle class="c3" cx="1735.9" cy="1371.0" r="8.14"/>
<circle class="c3" cx="1733.0" cy="1279.6" r="8.14"/>
<circle class="c2" cx="1663.2" cy="1227.3" r="8.14"/>
<circle class="c4" cx="1647.4" cy="1272.2" r="8.14"/>
<circle class="c5" cx="1648.2" cy="1243.9" r="8.14"/>
<circle class="c5" cx="1676.1" cy="1344.1" r="8.14"/>
<circle class="c4" cx="1713.0" cy="1346.9" r="8.14"/>
<circle class="c4" cx="1735.9" cy="1405.9" r="8.14"/>
<circle class="c5" cx="1728.0" cy="1235.6" r="8.14"/>
<circle class="c10" cx="1714.7" cy="1267.2" r="8.14"/>
<circle class="c5" cx="1684.8" cy="1382.7" r="8.14"/>
<circle class="c4" cx="1657.8" cy="1254.7" r="8.14"/>
<circle class="c2" cx="1656.5" cy="1382.7" r="8.14"/>
<circle class="c3" cx="1644.3" cy="1389.3" r="8.14"/>
<circle class="c4" cx="1716.3" cy="1391.0" r="8.14"/>
<circle class="c4" cx="1709.7" cy="1304.6" r="8.14"/>
<circle class="c4" cx="1708.4" cy="1217.3" r="8.14"/>
<circle class="c3" cx="1644.9" cy="1178.3" r="8.14"/>
<circle class="c10" cx="1644.3" cy="1384.3" r="8.14"/>
<circle class="c3" cx="1699.7" cy="1389.3" r="8.14"/>
<circle class="c3" cx="1654.8" cy="1349.4" r="8.14"/>
<circle class="c2" cx="1666.5" cy="1236.4" r="8.14"/>
<circle class="c3" cx="1713.0" cy="1205.7" r="8.14"/>
<circle class="c7" cx="1681.1" cy="1196.2" r="8.14"/>
<circle class="c3" cx="1644.9" cy="1227.3" r="8.14"/>
<circle class="c15" cx="1669.8" cy="1382.7" r="8.14"/>
<circle class="c6" cx="1681.4" cy="1398.5" r="8.14"/>
<circle class="c3" cx="1679.8" cy="1371.0" r="8.14"/>
<circle class="c3" cx="1724.6" cy="1171.6" r="8.14"/>
<circle class="c3" cx="1729.6" cy="1349.4" r="8.14"/>
<circle class="c3" cx="1693.1" cy="1266.3" r="8.14"/>
<circle class="c3" cx="1729.6" cy="1324.5" r="8.14"/>
<circle class="c3" cx="1699.7" cy="1379.4" r="8.14"/>
<circle class="c4" cx="1723.0" cy="1375.2" r="8.14"/>
<circle class="c5" cx="1735.9" cy="1391.0" r="8.14"/>
<circle class="c12" cx="1672.3" cy="1330.3" r="8.14"/>
<circle class="c13" cx="1695.1" cy="1351.1" r="8.14"/>
<circle class="c10" cx="1659.8" cy="1353.6" r="8.14"/>
<circle class="c3" cx="1648.2" cy="1332.8" r="8.14"/>
<circle class="c4" cx="1706.4" cy="1405.9" r="8.14"/>
<circle class="c6" cx="1705.0" cy="1297.1" r="8.14"/>
<circle class="c3" cx="1674.8" cy="1239.7" r="8.14"/>
<circle class="c3" cx="1734.6" cy="1321.2" r="8.14"/>
<circle class="c8" cx="1693.9" cy="1239.7" r="8.14"/>
<circle class="c3" cx="1714.7" cy="1248.1" r="8.14"/>
<circle class="c10" cx="1644.9" cy="1399.3" r="8.14"/>
<circle class="c3" cx="1718.8" cy="1190.7" r="8.14"/>
<circle class="c14" cx="1659.3" cy="1305.4" r="8.14"/>
<circle class="c7" cx="1716.3" cy="1316.2" r="8.14"/>
<circle class="c10" cx="1647.7" cy="1403.7" r="8.14"/>
<circle class="c7" cx="1662.5" cy="1406.5" r="8.14"/>
<circle class="c5" cx="1680.0" cy="1401.8" r="8.14"/>
<circle class="c4" cx="1693.9" cy="1405.5" r="8.14"/>
<circle class="c2" cx="1721.6" cy="1402.8" r="8.14"/>
<circle class="c2" cx="1722.5" cy="1404.2" r="8.14"/>
<circle class="c3" cx="1735.4" cy="1407.4" r="8.14"/>
<circle class="c13" cx="1735.9" cy="1412.0" r="8.14"/>
<circle class="c3" cx="1644.3" cy="1418.5" r="8.14"/>
<circle class="c13" cx="1657.9" cy="1416.6" r="8.14"/>
<circle class="c7" cx="1675.4" cy="1418.5" r="8.14"/>
<circle class="c5" cx="1692.0" cy="1423.1" r="8.14"/>
<circle class="c5" cx="1692.9" cy="1424.0" r="8.14"/>
<circle class="c7" cx="1703.1" cy="1426.8" r="8.14"/>
<circle class="c10" cx="1717.0" cy="1431.4" r="8.14"/>
<circle class="c5" cx="1734.5" cy="1428.6" r="8.14"/>
<circle class="c5" cx="1735.4" cy="1429.5" r="8.14"/>
<circle class="c14" cx="1646.8" cy="1435.1" r="8.14"/>
<circle class="c1" cx="1658.8" cy="1441.6" r="8.14"/>
<circle class="c4" cx="1676.3" cy="1436.0" r="8.14"/>
<circle class="c13" cx="1694.8" cy="1446.2" r="8.14"/>
<circle class="c4" cx="1726.2" cy="1442.5" r="8.14"/>
<circle class="c0" cx="1728.0" cy="1449.9" r="8.14"/>
<circle class="c10" cx="1735.9" cy="1441.6" r="8.14"/>
<circle class="c4" cx="1644.9" cy="1448.9" r="8.14"/>
<circle class="c7" cx="1676.3" cy="1453.6" r="8.14"/>
<circle class="c9" cx="1699.4" cy="1462.8" r="8.14"/>
<circle class="c12" cx="1715.1" cy="1463.7" r="8.14"/>
<circle class="c2" cx="1729.0" cy="1462.8" r="8.14"/>
<circle class="c6" cx="1735.9" cy="1455.4" r="8.14"/>
<circle class="c2" cx="1653.2" cy="1466.5" r="8.14"/>
<circle class="c12" cx="1669.9" cy="1471.1" r="8.14"/>
<circle class="c13" cx="1684.6" cy="1473.9" r="8.14"/>
<circle class="c13" cx="1712.3" cy="1472.0" r="8.14"/>
<circle class="c13" cx="1713.3" cy="1473.9" r="8.14"/>
<circle class="c4" cx="1644.3" cy="1470.2" r="8.14"/>
<circle class="c5" cx="1730.8" cy="1476.6" r="8.14"/>
<circle class="c13" cx="1644.3" cy="1487.7" r="8.14"/>
<circle class="c13" cx="1644.9" cy="1489.6" r="8.14"/>
<circle class="c7" cx="1652.3" cy="1483.1" r="8.14"/>
<circle class="c15" cx="1668.0" cy="1486.8" r="8.14"/>
<circle class="c13" cx="1682.8" cy="1483.1" r="8.14"/>
<circle class="c1" cx="1703.1" cy="1490.5" r="8.14"/>
<circle class="c7" cx="1717.9" cy="1489.6" r="8.14"/>
<circle class="c7" cx="1718.8" cy="1490.5" r="8.14"/>
<circle class="c5" cx="1734.5" cy="1495.1" r="8.14"/>
<circle class="c13" cx="1735.9" cy="1484.9" r="8.14"/>
<circle class="c13" cx="1645.9" cy="1497.9" r="8.14"/>
<circle class="c12" cx="1646.8" cy="1510.8" r="8.14"/>
<circle class="c7" cx="1664.3" cy="1509.0" r="8.14"/>
<circle class="c8" cx="1666.2" cy="1510.8" r="8.14"/>
<circle class="c2" cx="1683.7" cy="1513.6" r="8.14"/>
<circle class="c10" cx="1703.1" cy="1501.6" r="8.14"/>
<circle class="c2" cx="1703.1" cy="1503.4" r="8.14"/>
<circle class="c7" cx="1724.3" cy="1509.0" r="8.14"/>
<circle class="c13" cx="1727.1" cy="1519.1" r="8.14"/>
<circle class="c7" cx="1644.3" cy="1529.3" r="8.14"/>
<circle class="c9" cx="1647.7" cy="1529.3" r="8.14"/>
<circle class="c9" cx="1648.6" cy="1530.2" r="8.14"/>
<circle class="c5" cx="1663.4" cy="1531.1" r="8.14"/>
<circle class="c12" cx="1665.2" cy="1525.6" r="8.14"/>
<circle class="c6" cx="1680.0" cy="1529.3" r="8.14"/>
<circle class="c6" cx="1693.9" cy="1529.3" r="8.14"/>
<circle class="c7" cx="1707.7" cy="1529.3" r="8.14"/>
<circle class="c3" cx="1712.3" cy="1529.3" r="8.14"/>
<circle class="c9" cx="1726.2" cy="1529.3" r="8.14"/>
<circle class="c9" cx="1727.1" cy="1530.2" r="8.14"/>
<circle class="c10" cx="1735.4" cy="1529.3" r="8.14"/>
<circle class="c10" cx="1735.9" cy="1529.7" r="8.14"/>
<circle class="c9" cx="1735.9" cy="1527.4" r="8.14"/>
<circle class="c6" cx="1927.4" cy="1134.0" r="8.14"/>
<circle class="c11" cx="1967.0" cy="1342.1" r="8.14"/>
<circle class="c13" cx="1950.3" cy="1362.0" r="8.14"/>
<circle class="c11" cx="1958.2" cy="1390.3" r="8.14"/>
<circle class="c6" cx="1907.5" cy="1439.3" r="8.14"/>
<circle class="c11" cx="1918.3" cy="1441.0" r="8.14"/>
<circle class="c3" cx="1960.2" cy="1449.8" r="8.14"/>
<circle class="c13" cx="1955.7" cy="1455.4" r="8.14"/>
<circle class="c7" cx="1964.8" cy="1470.2" r="8.14"/>
<circle class="c10" cx="1880.6" cy="1475.8" r="8.14"/>
<circle class="c11" cx="1894.0" cy="1475.2" r="8.14"/>
<circle class="c2" cx="1900.2" cy="1474.4" r="8.14"/>
<circle class="c14" cx="1928.5" cy="1472.4" r="8.14"/>
<circle class="c11" cx="1930.8" cy="1474.4" r="8.14"/>
<circle class="c2" cx="1920.9" cy="1480.9" r="8.14"/>
<circle class="c12" cx="1947.8" cy="1478.1" r="8.14"/>
<circle class="c14" cx="1953.4" cy="1482.3" r="8.14"/>
<circle class="c7" cx="1920.0" cy="1530.0" r="8.14"/>
<circle class="c13" cx="1882.7" cy="1492.5" r="8.14"/>
<circle class="c0" cx="1931.0" cy="1530.0" r="8.14"/>
<circle class="c0" cx="1946.8" cy="1530.0" r="8.14"/>
<circle class="c2" cx="1888.9" cy="1527.0" r="8.14"/>
<circle class="c12" cx="1965.3" cy="1529.8" r="8.14"/>
<circle class="c7" cx="1935.5" cy="1528.4" r="8.14"/>
<circle class="c0" cx="1947.8" cy="1526.7" r="8.14"/>
<circle class="c0" cx="1898.8" cy="1528.9" r="8.14"/>
<circle class="c1" cx="1881.5" cy="1517.4" r="8.14"/>
<circle class="c12" cx="1931.3" cy="1506.4" r="8.14"/>
<circle class="c0" cx="1884.9" cy="1525.8" r="8.14"/>
<circle class="c1" cx="1931.8" cy="1520.0" r="8.14"/>
<circle class="c1" cx="1947.0" cy="1529.1" r="8.14"/>
<circle class="c8" cx="1920.6" cy="1527.9" r="8.14"/>
<circle class="c8" cx="1965.4" cy="1528.8" r="8.14"/>
<circle class="c1" cx="1899.5" cy="1529.9" r="8.14"/>
<circle class="c8" cx="1963.2" cy="1507.0" r="8.14"/>
<circle class="c13" cx="1891.5" cy="1529.8" r="8.14"/>
<circle class="c7" cx="1886.3" cy="1529.2" r="8.14"/>
<circle class="c1" cx="1915.7" cy="1529.3" r="8.14"/>
<circle class="c12" cx="1886.6" cy="1494.0" r="8.14"/>
<circle class="c9" cx="1915.0" cy="1494.4" r="8.14"/>
<circle class="c8" cx="1902.2" cy="1521.9" r="8.14"/>
<circle class="c1" cx="1902.1" cy="1525.2" r="8.14"/>
<circle class="c15" cx="1953.9" cy="1526.5" r="8.14"/>
<circle class="c13" cx="1956.5" cy="1499.2" r="8.14"/>
<circle class="c1" cx="1938.8" cy="1529.2" r="8.14"/>
<circle class="c13" cx="1889.8" cy="1487.7" r="8.14"/>
<circle class="c12" cx="1912.1" cy="1525.3" r="8.14"/>
<circle class="c1" cx="1880.8" cy="1526.5" r="8.14"/>
<circle class="c1" cx="1930.9" cy="1526.5" r="8.14"/>
<circle class="c5" cx="1896.0" cy="1521.0" r="8.14"/>
<circle class="c0" cx="1958.8" cy="1529.9" r="8.14"/>
<circle class="c7" cx="1899.4" cy="1519.4" r="8.14"/>
<circle class="c9" cx="1929.6" cy="1525.8" r="8.14"/>
<circle class="c12" cx="1913.5" cy="1529.7" r="8.14"/>
<circle class="c0" cx="1886.2" cy="1529.6" r="8.14"/>
<circle class="c0" cx="1940.7" cy="1529.7" r="8.14"/>
<circle class="c15" cx="1909.6" cy="1527.2" r="8.14"/>
<circle class="c7" cx="1954.1" cy="1516.6" r="8.14"/>
<circle class="c8" cx="1913.7" cy="1528.9" r="8.14"/>
<circle class="c7" cx="1950.0" cy="1512.4" r="8.14"/>
<circle class="c9" cx="1964.4" cy="1527.2" r="8.14"/>
<circle class="c7" cx="1940.8" cy="1527.4" r="8.14"/>
<circle class="c7" cx="1930.0" cy="1529.5" r="8.14"/>
<circle class="c2" cx="1934.6" cy="1527.9" r="8.14"/>
<circle class="c7" cx="1924.7" cy="1529.5" r="8.14"/>
<circle class="c1" cx="1918.1" cy="1530.0" r="8.14"/>
<circle class="c0" cx="1961.2" cy="1530.0" r="8.14"/>
<circle class="c5" cx="1938.5" cy="1519.8" r="8.14"/>
<circle class="c13" cx="1942.9" cy="1528.4" r="8.14"/>
<circle class="c12" cx="1944.0" cy="1499.3" r="8.14"/>
<circle class="c2" cx="1877.7" cy="1529.5" r="8.14"/>
<circle class="c5" cx="1944.0" cy="1529.2" r="8.14"/>
<circle class="c1" cx="1901.2" cy="1525.5" r="8.14"/>
<circle class="c1" cx="1913.1" cy="1530.0" r="8.14"/>
<circle class="c5" cx="1914.3" cy="1511.9" r="8.14"/>
<circle class="c14" cx="1919.1" cy="1499.3" r="8.14"/>
<circle class="c8" cx="1954.5" cy="1519.1" r="8.14"/>
<circle class="c13" cx="1895.9" cy="1485.6" r="8.14"/>
<circle class="c13" cx="1954.1" cy="1529.9" r="8.14"/>
<circle class="c14" cx="1897.9" cy="1489.2" r="8.14"/>
<circle class="c1" cx="1909.9" cy="1518.4" r="8.14"/>
<circle class="c15" cx="1894.9" cy="1529.5" r="8.14"/>
<circle class="c5" cx="1924.0" cy="1529.8" r="8.14"/>
<circle class="c8" cx="1942.2" cy="1530.0" r="8.14"/>
<circle class="c9" cx="1908.6" cy="1517.4" r="8.14"/>
<circle class="c7" cx="1937.3" cy="1522.7" r="8.14"/>
<circle class="c9" cx="1925.4" cy="1529.6" r="8.14"/>
<circle class="c13" cx="1884.3" cy="1525.6" r="8.14"/>
<circle class="c7" cx="1933.5" cy="1527.4" r="8.14"/>
<circle class="c0" cx="1934.8" cy="1515.8" r="8.14"/>
<circle class="c5" cx="1946.3" cy="1519.3" r="8.14"/>
<circle class="c7" cx="1913.8" cy="1492.6" r="8.14"/>
<circle class="c1" cx="1890.3" cy="1528.5" r="8.14"/>
<circle class="c8" cx="1955.0" cy="1528.9" r="8.14"/>
<circle class="c13" cx="1907.8" cy="1522.8" r="8.14"/>
<circle class="c7" cx="1951.6" cy="1515.1" r="8.14"/>
<circle class="c11" cx="1944.5" cy="1529.1" r="8.14"/>
<circle class="c8" cx="1962.7" cy="1529.1" r="8.14"/>
<circle class="c5" cx="1952.0" cy="1530.0" r="8.14"/>
<circle class="c7" cx="1878.1" cy="1529.0" r="8.14"/>
<circle class="c5" cx="1927.8" cy="1529.0" r="8.14"/>
<circle class="c2" cx="1922.5" cy="1529.9" r="8.14"/>
<circle class="c12" cx="1958.1" cy="1506.7" r="8.14"/>
<circle class="c1" cx="1937.5" cy="1530.0" r="8.14"/>
<circle class="c15" cx="1936.3" cy="1529.4" r="8.14"/>
<circle class="c14" cx="1911.0" cy="1492.1" r="8.14"/>
<circle class="c11" cx="1901.1" cy="1517.3" r="8.14"/>
<circle class="c2" cx="1909.1" cy="1530.0" r="8.14"/>
<circle class="c15" cx="1962.9" cy="1529.9" r="8.14"/>
<circle class="c15" cx="1893.2" cy="1529.6" r="8.14"/>
<circle class="c8" cx="1935.6" cy="1515.9" r="8.14"/>
<circle class="c12" cx="1924.4" cy="1490.8" r="8.14"/>
<circle class="c8" cx="1927.5" cy="1519.5" r="8.14"/>
<circle class="c9" cx="1950.9" cy="1520.0" r="8.14"/>
<circle class="c7" cx="1952.2" cy="1512.3" r="8.14"/>
<circle class="c1" cx="1878.5" cy="1529.8" r="8.14"/>
<circle class="c2" cx="1953.3" cy="1530.0" r="8.14"/>
<circle class="c12" cx="1965.8" cy="1499.1" r="8.14"/>
<circle class="c15" cx="1916.0" cy="1529.8" r="8.14"/>
<circle class="c1" cx="1917.7" cy="1529.9" r="8.14"/>
<circle class="c1" cx="1917.1" cy="1520.0" r="8.14"/>
<circle class="c8" cx="1924.6" cy="1514.1" r="8.14"/>
<circle class="c11" cx="1907.9" cy="1519.5" r="8.14"/>
<circle class="c7" cx="1908.1" cy="1517.5" r="8.14"/>
<circle class="c8" cx="1885.6" cy="1527.1" r="8.14"/>
<circle class="c7" cx="1902.4" cy="1529.0" r="8.14"/>
<circle class="c13" cx="1888.8" cy="1492.9" r="8.14"/>
<circle class="c9" cx="1877.4" cy="1526.4" r="8.14"/>
<circle class="c13" cx="1891.1" cy="1486.8" r="8.14"/>
<circle class="c12" cx="1966.3" cy="1487.5" r="8.14"/>
<circle class="c12" cx="1878.7" cy="1529.8" r="8.14"/>
<circle class="c5" cx="1966.5" cy="1529.7" r="8.14"/>
<circle class="c15" cx="1925.8" cy="1530.0" r="8.14"/>
<circle class="c1" cx="1926.2" cy="1528.0" r="8.14"/>
<circle class="c0" cx="1944.8" cy="1528.0" r="8.14"/>
<circle class="c0" cx="1934.8" cy="1529.7" r="8.14"/>
<circle class="c2" cx="1901.0" cy="1530.0" r="8.14"/>
<circle class="c0" cx="1920.1" cy="1530.0" r="8.14"/>
<circle class="c8" cx="1929.4" cy="1523.0" r="8.14"/>
<circle class="c5" cx="1949.7" cy="1518.4" r="8.14"/>
<circle class="c12" cx="1921.4" cy="1506.6" r="8.14"/>
<circle class="c9" cx="1919.2" cy="1513.0" r="8.14"/>
<circle class="c0" cx="1943.9" cy="1529.9" r="8.14"/>
<circle class="c7" cx="1963.3" cy="1519.8" r="8.14"/>
<circle class="c5" cx="1903.7" cy="1515.1" r="8.14"/>
<circle class="c5" cx="1936.1" cy="1513.1" r="8.14"/>
<circle class="c0" cx="1892.2" cy="1526.0" r="8.14"/>
<circle class="c9" cx="1938.4" cy="1529.7" r="8.14"/>
<circle class="c15" cx="1930.6" cy="1528.5" r="8.14"/>
<circle class="c1" cx="1959.8" cy="1528.8" r="8.14"/>
<circle class="c5" cx="1965.1" cy="1524.0" r="8.14"/>
<circle class="c15" cx="1907.7" cy="1529.8" r="8.14"/>
<circle class="c13" cx="1956.0" cy="1491.3" r="8.14"/>
<circle class="c8" cx="1934.8" cy="1523.6" r="8.14"/>
<circle class="c9" cx="1936.4" cy="1525.2" r="8.14"/>
<circle class="c0" cx="1953.8" cy="1529.4" r="8.14"/>
<circle class="c12" cx="1946.2" cy="1530.0" r="8.14"/>
<circle class="c2" cx="1925.6" cy="1505.9" r="8.14"/>
<circle class="c1" cx="1922.0" cy="1529.7" r="8.14"/>
<circle class="c8" cx="1891.6" cy="1528.4" r="8.14"/>
<circle class="c14" cx="1942.5" cy="1505.5" r="8.14"/>
<circle class="c14" cx="1882.2" cy="1503.1" r="8.14"/>
<circle class="c15" cx="1941.6" cy="1527.9" r="8.14"/>
<circle class="c13" cx="1893.6" cy="1518.3" r="8.14"/>
<circle class="c5" cx="1908.9" cy="1530.0" r="8.14"/>
<circle class="c14" cx="1966.5" cy="1485.9" r="8.14"/>
<circle class="c8" cx="1937.8" cy="1529.7" r="8.14"/>
<circle class="c12" cx="1901.7" cy="1513.4" r="8.14"/>
<circle class="c5" cx="1894.5" cy="1528.6" r="8.14"/>
<circle class="c8" cx="1888.5" cy="1528.5" r="8.14"/>
<circle class="c5" cx="1928.8" cy="1518.3" r="8.14"/>
<circle class="c13" cx="1924.4" cy="1526.5" r="8.14"/>
<circle class="c9" cx="1964.6" cy="1497.5" r="8.14"/>
<circle class="c5" cx="1881.6" cy="1516.5" r="8.14"/>
<circle class="c9" cx="1953.7" cy="1529.4" r="8.14"/>
<circle class="c2" cx="1927.1" cy="1529.7" r="8.14"/>
<circle class="c9" cx="1877.7" cy="1521.9" r="8.14"/>
<circle class="c1" cx="1942.5" cy="1529.1" r="8.14"/>
<circle class="c0" cx="1921.5" cy="1528.2" r="8.14"/>
<circle class="c8" cx="1946.2" cy="1529.9" r="8.14"/>
<circle class="c0" cx="1948.6" cy="1526.8" r="8.14"/>
<circle class="c8" cx="1939.9" cy="1513.0" r="8.14"/>
<circle class="c12" cx="1957.8" cy="1529.9" r="8.14"/>
<circle class="c1" cx="1879.2" cy="1529.9" r="8.14"/>
<circle class="c11" cx="1922.4" cy="1529.4" r="8.14"/>
<circle class="c0" cx="1925.9" cy="1530.0" r="8.14"/>
<circle class="c5" cx="1886.0" cy="1524.7" r="8.14"/>
<circle class="c11" cx="1881.1" cy="1529.0" r="8.14"/>
<circle class="c9" cx="1881.6" cy="1530.0" r="8.14"/>
<circle class="c5" cx="1905.6" cy="1512.3" r="8.14"/>
<circle class="c7" cx="1938.8" cy="1517.8" r="8.14"/>
<circle class="c12" cx="1915.3" cy="1516.4" r="8.14"/>
<circle class="c12" cx="1945.0" cy="1500.5" r="8.14"/>
<circle class="c8" cx="1961.4" cy="1496.5" r="8.14"/>
<circle class="c5" cx="1939.0" cy="1515.8" r="8.14"/>
<circle class="c13" cx="1906.2" cy="1501.3" r="8.14"/>
<circle class="c14" cx="1878.1" cy="1502.1" r="8.14"/>
<circle class="c9" cx="1876.8" cy="1510.9" r="8.14"/>
<circle class="c12" cx="1919.1" cy="1512.0" r="8.14"/>
<circle class="c5" cx="1922.2" cy="1518.9" r="8.14"/>
<circle class="c12" cx="1885.6" cy="1529.5" r="8.14"/>
<circle class="c12" cx="1962.7" cy="1530.0" r="8.14"/>
<circle class="c7" cx="1891.1" cy="1529.6" r="8.14"/>
<circle class="c13" cx="1891.9" cy="1530.0" r="8.14"/>
<circle class="c5" cx="1956.2" cy="1522.5" r="8.14"/>
<circle class="c0" cx="1961.9" cy="1529.9" r="8.14"/>
<circle class="c13" cx="1959.0" cy="1511.3" r="8.14"/>
<circle class="c1" cx="1889.8" cy="1529.3" r="8.14"/>
<circle class="c0" cx="1908.2" cy="1528.7" r="8.14"/>
<circle class="c13" cx="1921.5" cy="1527.7" r="8.14"/>
<circle class="c5" cx="1928.5" cy="1520.1" r="8.14"/>
<circle class="c13" cx="1946.9" cy="1510.8" r="8.14"/>
<circle class="c0" cx="1957.6" cy="1527.2" r="8.14"/>
<circle class="c5" cx="1903.5" cy="1523.8" r="8.14"/>
<circle class="c1" cx="1884.9" cy="1529.9" r="8.14"/>
<circle class="c1" cx="1881.7" cy="1529.7" r="8.14"/>
<circle class="c1" cx="1931.9" cy="1526.2" r="8.14"/>
<circle class="c5" cx="1958.8" cy="1518.0" r="8.14"/>
<circle class="c13" cx="1893.7" cy="1529.4" r="8.14"/>
<circle class="c15" cx="1930.0" cy="1529.3" r="8.14"/>
<circle class="c1" cx="1880.5" cy="1529.1" r="8.14"/>
<circle class="c8" cx="1906.5" cy="1529.9" r="8.14"/>
<circle class="c12" cx="1934.2" cy="1493.5" r="8.14"/>
<circle class="c5" cx="1883.4" cy="1526.5" r="8.14"/>
<circle class="c1" cx="1905.5" cy="1530.0" r="8.14"/>
<circle class="c5" cx="1949.1" cy="1513.3" r="8.14"/>
<circle class="c7" cx="1888.6" cy="1527.2" r="8.14"/>
<circle class="c11" cx="1942.7" cy="1496.3" r="8.14"/>
<circle class="c1" cx="1879.5" cy="1529.9" r="8.14"/>
<circle class="c8" cx="1919.0" cy="1519.6" r="8.14"/>
<circle class="c7" cx="1913.9" cy="1517.3" r="8.14"/>
<circle class="c0" cx="1900.5" cy="1528.0" r="8.14"/>
<circle class="c8" cx="1941.6" cy="1529.6" r="8.14"/>
<circle class="c12" cx="1956.8" cy="1521.0" r="8.14"/>
<circle class="c8" cx="1918.6" cy="1530.0" r="8.14"/>
<circle class="c13" cx="1899.9" cy="1513.4" r="8.14"/>
<circle class="c9" cx="1898.2" cy="1517.8" r="8.14"/>
<circle class="c2" cx="1914.1" cy="1528.8" r="8.14"/>
<circle class="c5" cx="1967.2" cy="1529.7" r="8.14"/>
<circle class="c11" cx="1926.7" cy="1520.2" r="8.14"/>
<circle class="c12" cx="1935.6" cy="1496.7" r="8.14"/>
<circle class="c12" cx="1881.3" cy="1529.4" r="8.14"/>
<circle class="c11" cx="1928.3" cy="1515.1" r="8.14"/>
<circle class="c12" cx="1885.6" cy="1530.0" r="8.14"/>
<circle class="c12" cx="1949.5" cy="1529.3" r="8.14"/>
<circle class="c1" cx="1961.8" cy="1530.0" r="8.14"/>
<circle class="c9" cx="1950.7" cy="1522.4" r="8.14"/>
<circle class="c15" cx="1881.4" cy="1526.7" r="8.14"/>
<circle class="c0" cx="1952.7" cy="1529.7" r="8.14"/>
<circle class="c0" cx="1907.1" cy="1530.0" r="8.14"/>
<circle class="c12" cx="1947.8" cy="1528.1" r="8.14"/>
<circle class="c0" cx="1938.3" cy="1529.9" r="8.14"/>
<circle class="c12" cx="1950.5" cy="1504.7" r="8.14"/>
<circle class="c0" cx="1956.0" cy="1525.4" r="8.14"/>
<circle class="c11" cx="1878.3" cy="1523.9" r="8.14"/>
<circle class="c9" cx="1944.7" cy="1521.9" r="8.14"/>
<circle class="c15" cx="1948.6" cy="1529.5" r="8.14"/>
<circle class="c1" cx="1906.1" cy="1526.7" r="8.14"/>
<circle class="c2" cx="1906.5" cy="1529.9" r="8.14"/>
<circle class="c5" cx="1927.1" cy="1530.0" r="8.14"/>
<circle class="c1" cx="1958.4" cy="1529.7" r="8.14"/>
<circle class="c1" cx="1935.8" cy="1529.9" r="8.14"/>
<circle class="c8" cx="1956.5" cy="1529.8" r="8.14"/>
<circle class="c0" cx="1896.7" cy="1528.5" r="8.14"/>
<circle class="c7" cx="1939.4" cy="1529.9" r="8.14"/>
<circle class="c8" cx="1902.5" cy="1514.9" r="8.14"/>
<circle class="c1" cx="1885.3" cy="1530.0" r="8.14"/>
<circle class="c13" cx="1942.4" cy="1521.3" r="8.14"/>
<circle class="c13" cx="1912.1" cy="1492.7" r="8.14"/>
<circle class="c5" cx="1891.5" cy="1529.5" r="8.14"/>
<circle class="c5" cx="1917.0" cy="1518.1" r="8.14"/>
<circle class="c2" cx="1939.0" cy="1529.1" r="8.14"/>
<circle class="c8" cx="1933.4" cy="1516.8" r="8.14"/>
<circle class="c5" cx="1922.5" cy="1514.3" r="8.14"/>
<circle class="c13" cx="1913.1" cy="1503.9" r="8.14"/>
<circle class="c2" cx="1966.1" cy="1529.6" r="8.14"/>
<circle class="c1" cx="1939.4" cy="1526.2" r="8.14"/>
<circle class="c5" cx="1934.7" cy="1519.5" r="8.14"/>
<circle class="c0" cx="1961.3" cy="1525.9" r="8.14"/>
<circle class="c12" cx="1898.5" cy="1495.4" r="8.14"/>
<circle class="c5" cx="1939.2" cy="1530.0" r="8.14"/>
<circle class="c2" cx="1880.9" cy="1529.9" r="8.14"/>
<circle class="c5" cx="1912.6" cy="1528.8" r="8.14"/>
<circle class="c13" cx="1926.6" cy="1528.8" r="8.14"/>
<circle class="c12" cx="1913.8" cy="1503.6" r="8.14"/>
<circle class="c9" cx="1882.1" cy="1527.1" r="8.14"/>
<circle class="c1" cx="1934.9" cy="1529.6" r="8.14"/>
<circle class="c13" cx="1908.4" cy="1530.0" r="8.14"/>
<circle class="c12" cx="1878.9" cy="1525.2" r="8.14"/>
<circle class="c15" cx="1953.2" cy="1530.0" r="8.14"/>
<circle class="c1" cx="1939.9" cy="1526.0" r="8.14"/>
<circle class="c1" cx="1935.2" cy="1528.8" r="8.14"/>
<circle class="c0" cx="1953.5" cy="1530.0" r="8.14"/>
<circle class="c12" cx="1960.2" cy="1498.9" r="8.14"/>
<circle class="c5" cx="1887.1" cy="1519.2" r="8.14"/>
<circle class="c9" cx="1880.3" cy="1492.1" r="8.14"/>
<circle class="c7" cx="1919.7" cy="1527.5" r="8.14"/>
<circle class="c7" cx="1886.8" cy="1492.0" r="8.14"/>
<circle class="c7" cx="1951.5" cy="1504.3" r="8.14"/>
<circle class="c7" cx="1885.2" cy="1512.0" r="8.14"/>
<circle class="c14" cx="1884.0" cy="1495.6" r="8.14"/>
<circle class="c7" cx="1956.5" cy="1522.3" r="8.14"/>
<circle class="c13" cx="1927.5" cy="1527.6" r="8.14"/>
<circle class="c12" cx="1951.9" cy="1493.7" r="8.14"/>
<circle class="c8" cx="1880.9" cy="1512.2" r="8.14"/>
<circle class="c5" cx="1953.1" cy="1527.3" r="8.14"/>
<circle class="c8" cx="1912.0" cy="1514.2" r="8.14"/>
<circle class="c12" cx="1889.3" cy="1516.2" r="8.14"/>
<circle class="c13" cx="1948.1" cy="1500.6" r="8.14"/>
<circle class="c9" cx="1913.3" cy="1521.4" r="8.14"/>
<circle class="c8" cx="1967.5" cy="1515.1" r="8.14"/>
<circle class="c5" cx="1920.3" cy="1513.9" r="8.14"/>
<circle class="c2" cx="1917.8" cy="1480.9" r="8.14"/>
<circle class="c2" cx="1930.9" cy="1485.3" r="8.14"/>
<circle class="c7" cx="1934.4" cy="1476.6" r="8.14"/>
<circle class="c11" cx="1930.0" cy="1474.8" r="8.14"/>
<circle class="c14" cx="1928.7" cy="1473.1" r="8.14"/>
<circle class="c12" cx="1948.3" cy="1478.3" r="8.14"/>
<circle class="c14" cx="1952.7" cy="1482.7" r="8.14"/>
<circle class="c9" cx="1879.5" cy="1495.7" r="8.14"/>
<circle class="c2" cx="1889.1" cy="1488.8" r="8.14"/>
<circle class="c12" cx="1904.8" cy="1491.4" r="8.14"/>
<circle class="c7" cx="1900.4" cy="1494.0" r="8.14"/>
<circle class="c13" cx="1922.2" cy="1497.5" r="8.14"/>
<circle class="c12" cx="1923.9" cy="1499.2" r="8.14"/>
<circle class="c12" cx="1941.3" cy="1494.0" r="8.14"/>
<circle class="c11" cx="1943.1" cy="1495.7" r="8.14"/>
<circle class="c15" cx="1956.1" cy="1486.2" r="8.14"/>
<circle class="c12" cx="1960.5" cy="1499.2" r="8.14"/>
<circle class="c13" cx="1967.9" cy="1495.7" r="8.14"/>
<circle class="c14" cx="1876.3" cy="1507.9" r="8.14"/>
<circle class="c13" cx="1896.9" cy="1500.1" r="8.14"/>
<circle class="c13" cx="1897.8" cy="1501.0" r="8.14"/>
<circle class="c5" cx="1903.0" cy="1507.1" r="8.14"/>
<circle class="c5" cx="1900.4" cy="1509.7" r="8.14"/>
<circle class="c9" cx="1909.1" cy="1504.5" r="8.14"/>
<circle class="c5" cx="1924.8" cy="1514.0" r="8.14"/>
<circle class="c5" cx="1922.2" cy="1513.2" r="8.14"/>
<circle class="c8" cx="1944.0" cy="1507.9" r="8.14"/>
<circle class="c8" cx="1945.7" cy="1508.8" r="8.14"/>
<circle class="c9" cx="1950.9" cy="1504.5" r="8.14"/>
<circle class="c7" cx="1939.6" cy="1514.9" r="8.14"/>
<circle class="c1" cx="1967.9" cy="1512.3" r="8.14"/>
<circle class="c1" cx="1967.9" cy="1513.2" r="8.14"/>
<circle class="c12" cx="1957.9" cy="1515.8" r="8.14"/>
<circle class="c12" cx="1903.9" cy="1515.8" r="8.14"/>
<circle class="c5" cx="1883.0" cy="1512.3" r="8.14"/>
<circle class="c7" cx="1876.3" cy="1518.4" r="8.14"/>
<circle class="c1" cx="1888.2" cy="1516.7" r="8.14"/>
<circle class="c10" cx="1881.2" cy="1501.0" r="8.14"/>
<circle class="c2" cx="1876.3" cy="1529.7" r="8.14"/>
<circle class="c2" cx="1876.3" cy="1529.7" r="8.14"/>
<circle class="c8" cx="1877.7" cy="1529.7" r="8.14"/>
<circle class="c6" cx="1884.7" cy="1529.7" r="8.14"/>
<circle class="c0" cx="1900.4" cy="1530.6" r="8.14"/>
<circle class="c0" cx="1909.1" cy="1529.7" r="8.14"/>
<circle class="c0" cx="1910.0" cy="1529.7" r="8.14"/>
<circle class="c12" cx="1896.9" cy="1529.7" r="8.14"/>
<circle class="c2" cx="1916.1" cy="1527.1" r="8.14"/>
<circle class="c5" cx="1925.7" cy="1528.0" r="8.14"/>
<circle class="c4" cx="1926.5" cy="1529.7" r="8.14"/>
<circle class="c5" cx="1927.4" cy="1529.7" r="8.14"/>
<circle class="c0" cx="1937.9" cy="1529.7" r="8.14"/>
<circle class="c14" cx="1937.0" cy="1529.7" r="8.14"/>
<circle class="c1" cx="1948.3" cy="1530.6" r="8.14"/>
<circle class="c0" cx="1954.4" cy="1529.7" r="8.14"/>
<circle class="c0" cx="1955.3" cy="1529.7" r="8.14"/>
<circle class="c15" cx="1956.1" cy="1529.7" r="8.14"/>
<circle class="c12" cx="1965.7" cy="1529.7" r="8.14"/>
<circle class="c1" cx="1967.9" cy="1529.7" r="8.14"/>
<circle class="c1" cx="1967.9" cy="1529.7" r="8.14"/>
<circle class="c10" cx="2134.2" cy="542.1" r="8.14"/>
<circle class="c10" cx="2175.6" cy="693.9" r="8.14"/>
<circle class="c10" cx="2178.3" cy="715.2" r="8.14"/>
<circle class="c6" cx="2195.4" cy="729.9" r="8.14"/>
<circle class="c3" cx="2172.3" cy="794.1" r="8.14"/>
<circle class="c6" cx="2146.4" cy="856.6" r="8.14"/>
<circle class="c9" cx="2151.9" cy="964.1" r="8.14"/>
<circle class="c3" cx="2110.0" cy="1051.2" r="8.14"/>
<circle class="c10" cx="2113.1" cy="1067.6" r="8.14"/>
<circle class="c7" cx="2164.1" cy="1073.2" r="8.14"/>
<circle class="c12" cx="2175.6" cy="1071.9" r="8.14"/>
<circle class="c3" cx="2130.6" cy="1085.4" r="8.14"/>
<circle class="c9" cx="2170.3" cy="1094.9" r="8.14"/>
<circle class="c15" cx="2186.3" cy="1096.5" r="8.14"/>
<circle class="c3" cx="2172.7" cy="1103.8" r="8.14"/>
<circle class="c6" cx="2135.3" cy="1131.0" r="8.14"/>
<circle class="c3" cx="2175.4" cy="1131.5" r="8.14"/>
<circle class="c3" cx="2193.4" cy="1139.7" r="8.14"/>
<circle class="c3" cx="2125.3" cy="1151.2" r="8.14"/>
<circle class="c12" cx="2169.2" cy="1161.4" r="8.14"/>
<circle class="c7" cx="2164.1" cy="1169.6" r="8.14"/>
<circle class="c10" cx="2157.9" cy="1174.0" r="8.14"/>
<circle class="c3" cx="2167.4" cy="1175.1" r="8.14"/>
<circle class="c3" cx="2110.9" cy="1180.9" r="8.14"/>
<circle class="c13" cx="2179.2" cy="1184.7" r="8.14"/>
<circle class="c2" cx="2193.4" cy="1184.0" r="8.14"/>
<circle class="c3" cx="2139.5" cy="1188.0" r="8.14"/>
<circle class="c3" cx="2126.4" cy="1190.9" r="8.14"/>
<circle class="c13" cx="2154.1" cy="1204.8" r="8.14"/>
<circle class="c4" cx="2167.0" cy="1203.7" r="8.14"/>
<circle class="c3" cx="2118.7" cy="1213.7" r="8.14"/>
<circle class="c3" cx="2125.3" cy="1230.5" r="8.14"/>
<circle class="c12" cx="2128.2" cy="1231.6" r="8.14"/>
<circle class="c4" cx="2181.8" cy="1226.5" r="8.14"/>
<circle class="c3" cx="2188.5" cy="1235.4" r="8.14"/>
<circle class="c3" cx="2177.4" cy="1237.2" r="8.14"/>
<circle class="c3" cx="2148.8" cy="1241.0" r="8.14"/>
<circle class="c4" cx="2166.8" cy="1253.1" r="8.14"/>
<circle class="c2" cx="2197.6" cy="1257.1" r="8.14"/>
<circle class="c7" cx="2129.3" cy="1262.5" r="8.14"/>
<circle class="c12" cx="2126.9" cy="1272.4" r="8.14"/>
<circle class="c3" cx="2137.9" cy="1269.8" r="8.14"/>
<circle class="c9" cx="2153.5" cy="1276.6" r="8.14"/>
<circle class="c13" cx="2175.6" cy="1277.5" r="8.14"/>
<circle class="c3" cx="2180.3" cy="1286.8" r="8.14"/>
<circle class="c11" cx="2186.9" cy="1289.1" r="8.14"/>
<circle class="c6" cx="2197.1" cy="1296.8" r="8.14"/>
<circle class="c3" cx="2116.4" cy="1294.2" r="8.14"/>
<circle class="c12" cx="2150.6" cy="1294.2" r="8.14"/>
<circle class="c12" cx="2153.2" cy="1304.1" r="8.14"/>
<circle class="c8" cx="2108.3" cy="1303.7" r="8.14"/>
<circle class="c4" cx="2131.1" cy="1304.6" r="8.14"/>
<circle class="c13" cx="2178.5" cy="1306.3" r="8.14"/>
<circle class="c3" cx="2115.3" cy="1315.7" r="8.14"/>
<circle class="c3" cx="2164.3" cy="1317.9" r="8.14"/>
<circle class="c4" cx="2167.4" cy="1325.8" r="8.14"/>
<circle class="c14" cx="2113.8" cy="1341.8" r="8.14"/>
<circle class="c5" cx="2108.3" cy="1344.7" r="8.14"/>
<circle class="c3" cx="2120.4" cy="1351.8" r="8.14"/>
<circle class="c13" cx="2133.5" cy="1348.9" r="8.14"/>
<circle class="c12" cx="2132.0" cy="1359.1" r="8.14"/>
<circle class="c3" cx="2155.0" cy="1355.1" r="8.14"/>
<circle class="c4" cx="2111.1" cy="1370.2" r="8.14"/>
<circle class="c5" cx="2169.6" cy="1368.4" r="8.14"/>
<circle class="c7" cx="2178.1" cy="1366.2" r="8.14"/>
<circle class="c7" cx="2190.0" cy="1370.2" r="8.14"/>
<circle class="c3" cx="2198.9" cy="1371.7" r="8.14"/>
<circle class="c3" cx="2154.1" cy="1373.9" r="8.14"/>
<circle class="c3" cx="2126.4" cy="1379.5" r="8.14"/>
<circle class="c13" cx="2160.3" cy="1383.5" r="8.14"/>
<circle class="c4" cx="2174.5" cy="1382.2" r="8.14"/>
<circle class="c3" cx="2189.6" cy="1376.2" r="8.14"/>
<circle class="c13" cx="2109.1" cy="1384.4" r="8.14"/>
<circle class="c11" cx="2113.1" cy="1383.9" r="8.14"/>
<circle class="c14" cx="2118.2" cy="1388.4" r="8.14"/>
<circle class="c12" cx="2141.9" cy="1396.8" r="8.14"/>
<circle class="c14" cx="2109.1" cy="1403.9" r="8.14"/>
<circle class="c14" cx="2117.6" cy="1398.3" r="8.14"/>
<circle class="c13" cx="2126.4" cy="1401.7" r="8.14"/>
<circle class="c12" cx="2182.9" cy="1403.9" r="8.14"/>
<circle class="c11" cx="2194.5" cy="1403.2" r="8.14"/>
<circle class="c12" cx="2120.9" cy="1412.7" r="8.14"/>
<circle class="c7" cx="2138.6" cy="1411.6" r="8.14"/>
<circle class="c2" cx="2173.6" cy="1415.4" r="8.14"/>
<circle class="c11" cx="2196.2" cy="1412.7" r="8.14"/>
<circle class="c8" cx="2198.5" cy="1421.6" r="8.14"/>
<circle class="c3" cx="2164.5" cy="1422.7" r="8.14"/>
<circle class="c12" cx="2184.1" cy="1423.8" r="8.14"/>
<circle class="c15" cx="2143.0" cy="1423.8" r="8.14"/>
<circle class="c7" cx="2132.6" cy="1424.9" r="8.14"/>
<circle class="c3" cx="2113.8" cy="1428.9" r="8.14"/>
<circle class="c13" cx="2199.6" cy="1436.7" r="8.14"/>
<circle class="c7" cx="2130.4" cy="1438.9" r="8.14"/>
<circle class="c12" cx="2161.4" cy="1442.0" r="8.14"/>
<circle class="c12" cx="2184.1" cy="1438.2" r="8.14"/>
<circle class="c10" cx="2189.1" cy="1443.3" r="8.14"/>
<circle class="c2" cx="2108.3" cy="1446.0" r="8.14"/>
<circle class="c6" cx="2123.1" cy="1447.1" r="8.14"/>
<circle class="c15" cx="2148.1" cy="1450.0" r="8.14"/>
<circle class="c5" cx="2173.4" cy="1456.4" r="8.14"/>
<circle class="c14" cx="2197.4" cy="1459.7" r="8.14"/>
<circle class="c7" cx="2108.3" cy="1462.6" r="8.14"/>
<circle class="c11" cx="2115.3" cy="1459.7" r="8.14"/>
<circle class="c0" cx="2125.3" cy="1465.9" r="8.14"/>
<circle class="c6" cx="2138.6" cy="1464.8" r="8.14"/>
<circle class="c1" cx="2151.9" cy="1463.7" r="8.14"/>
<circle class="c12" cx="2163.0" cy="1468.2" r="8.14"/>
<circle class="c13" cx="2182.9" cy="1465.9" r="8.14"/>
<circle class="c1" cx="2148.0" cy="1526.2" r="8.14"/>
<circle class="c13" cx="2146.7" cy="1529.8" r="8.14"/>
<circle class="c5" cx="2150.4" cy="1530.0" r="8.14"/>
<circle class="c0" cx="2190.2" cy="1522.4" r="8.14"/>
<circle class="c13" cx="2192.0" cy="1444.8" r="8.14"/>
<circle class="c1" cx="2136.1" cy="1530.0" r="8.14"/>
<circle class="c13" cx="2172.2" cy="1530.0" r="8.14"/>
<circle class="c6" cx="2117.8" cy="1513.9" r="8.14"/>
<circle class="c13" cx="2126.1" cy="1499.4" r="8.14"/>
<circle class="c6" cx="2165.1" cy="1493.1" r="8.14"/>
<circle class="c0" cx="2132.8" cy="1527.3" r="8.14"/>
<circle class="c12" cx="2119.1" cy="1518.0" r="8.14"/>
<circle class="c0" cx="2139.4" cy="1527.2" r="8.14"/>
<circle class="c6" cx="2177.9" cy="1524.4" r="8.14"/>
<circle class="c7" cx="2120.2" cy="1515.5" r="8.14"/>
<circle class="c15" cx="2124.9" cy="1523.8" r="8.14"/>
<circle class="c0" cx="2176.0" cy="1530.0" r="8.14"/>
<circle class="c4" cx="2149.8" cy="1530.0" r="8.14"/>
<circle class="c15" cx="2160.3" cy="1529.8" r="8.14"/>
<circle class="c4" cx="2113.1" cy="1519.6" r="8.14"/>
<circle class="c5" cx="2196.5" cy="1529.2" r="8.14"/>
<circle class="c13" cx="2169.8" cy="1495.2" r="8.14"/>
<circle class="c12" cx="2151.5" cy="1529.1" r="8.14"/>
<circle class="c13" cx="2175.9" cy="1514.4" r="8.14"/>
<circle class="c13" cx="2148.9" cy="1512.8" r="8.14"/>
<circle class="c6" cx="2115.5" cy="1522.3" r="8.14"/>
<circle class="c0" cx="2190.4" cy="1530.0" r="8.14"/>
<circle class="c4" cx="2194.7" cy="1529.8" r="8.14"/>
<circle class="c0" cx="2125.2" cy="1518.8" r="8.14"/>
<circle class="c6" cx="2168.3" cy="1516.1" r="8.14"/>
<circle class="c1" cx="2145.7" cy="1529.3" r="8.14"/>
<circle class="c13" cx="2179.3" cy="1506.9" r="8.14"/>
<circle class="c14" cx="2172.3" cy="1524.5" r="8.14"/>
<circle class="c13" cx="2128.3" cy="1529.8" r="8.14"/>
<circle class="c13" cx="2165.9" cy="1527.7" r="8.14"/>
<circle class="c14" cx="2164.2" cy="1460.5" r="8.14"/>
<circle class="c1" cx="2112.8" cy="1522.3" r="8.14"/>
<circle class="c4" cx="2199.3" cy="1499.6" r="8.14"/>
<circle class="c12" cx="2162.8" cy="1530.0" r="8.14"/>
<circle class="c11" cx="2142.1" cy="1529.8" r="8.14"/>
<circle class="c6" cx="2144.3" cy="1530.0" r="8.14"/>
<circle class="c4" cx="2188.2" cy="1529.2" r="8.14"/>
<circle class="c3" cx="2174.0" cy="1529.9" r="8.14"/>
<circle class="c6" cx="2119.3" cy="1530.0" r="8.14"/>
<circle class="c15" cx="2136.2" cy="1509.6" r="8.14"/>
<circle class="c13" cx="2112.2" cy="1523.3" r="8.14"/>
<circle class="c4" cx="2174.7" cy="1448.8" r="8.14"/>
<circle class="c5" cx="2151.3" cy="1499.8" r="8.14"/>
<circle class="c3" cx="2116.9" cy="1433.4" r="8.14"/>
<circle class="c12" cx="2151.9" cy="1513.0" r="8.14"/>
<circle class="c14" cx="2192.1" cy="1529.3" r="8.14"/>
<circle class="c14" cx="2129.4" cy="1530.0" r="8.14"/>
<circle class="c15" cx="2161.2" cy="1530.0" r="8.14"/>
<circle class="c14" cx="2128.1" cy="1502.8" r="8.14"/>
<circle class="c13" cx="2146.7" cy="1494.3" r="8.14"/>
<circle class="c4" cx="2132.8" cy="1523.9" r="8.14"/>
<circle class="c15" cx="2140.0" cy="1453.1" r="8.14"/>
<circle class="c6" cx="2177.5" cy="1530.0" r="8.14"/>
<circle class="c4" cx="2138.4" cy="1530.0" r="8.14"/>
<circle class="c0" cx="2109.1" cy="1524.9" r="8.14"/>
<circle class="c13" cx="2158.2" cy="1468.5" r="8.14"/>
<circle class="c5" cx="2170.5" cy="1523.3" r="8.14"/>
<circle class="c3" cx="2122.9" cy="1510.0" r="8.14"/>
<circle class="c6" cx="2156.5" cy="1501.7" r="8.14"/>
<circle class="c5" cx="2129.6" cy="1530.0" r="8.14"/>
<circle class="c13" cx="2173.3" cy="1502.7" r="8.14"/>
<circle class="c7" cx="2121.9" cy="1475.9" r="8.14"/>
<circle class="c13" cx="2192.1" cy="1529.5" r="8.14"/>
<circle class="c12" cx="2113.9" cy="1505.8" r="8.14"/>
<circle class="c12" cx="2127.3" cy="1529.2" r="8.14"/>
<circle class="c12" cx="2174.8" cy="1491.1" r="8.14"/>
<circle class="c13" cx="2153.8" cy="1529.9" r="8.14"/>
<circle class="c5" cx="2138.1" cy="1521.3" r="8.14"/>
<circle class="c4" cx="2166.3" cy="1523.4" r="8.14"/>
<circle class="c11" cx="2145.9" cy="1520.0" r="8.14"/>
<circle class="c13" cx="2142.7" cy="1529.8" r="8.14"/>
<circle class="c5" cx="2159.3" cy="1524.9" r="8.14"/>
<circle class="c1" cx="2116.8" cy="1487.1" r="8.14"/>
<circle class="c13" cx="2140.2" cy="1529.7" r="8.14"/>
<circle class="c6" cx="2125.3" cy="1528.9" r="8.14"/>
<circle class="c1" cx="2112.5" cy="1524.5" r="8.14"/>
<circle class="c13" cx="2169.2" cy="1503.8" r="8.14"/>
<circle class="c1" cx="2190.6" cy="1530.0" r="8.14"/>
<circle class="c11" cx="2174.2" cy="1527.0" r="8.14"/>
<circle class="c7" cx="2127.1" cy="1502.6" r="8.14"/>
<circle class="c5" cx="2113.6" cy="1530.0" r="8.14"/>
<circle class="c1" cx="2131.6" cy="1529.9" r="8.14"/>
<circle class="c0" cx="2126.9" cy="1525.1" r="8.14"/>
<circle class="c5" cx="2120.8" cy="1523.5" r="8.14"/>
<circle class="c4" cx="2109.6" cy="1529.7" r="8.14"/>
<circle class="c4" cx="2136.9" cy="1529.9" r="8.14"/>
<circle class="c4" cx="2175.3" cy="1529.7" r="8.14"/>
<circle class="c6" cx="2195.0" cy="1530.0" r="8.14"/>
<circle class="c15" cx="2180.9" cy="1529.6" r="8.14"/>
<circle class="c4" cx="2141.8" cy="1530.0" r="8.14"/>
<circle class="c14" cx="2183.0" cy="1493.0" r="8.14"/>
<circle class="c3" cx="2174.5" cy="1519.3" r="8.14"/>
<circle class="c7" cx="2149.5" cy="1502.9" r="8.14"/>
<circle class="c5" cx="2121.9" cy="1529.8" r="8.14"/>
<circle class="c1" cx="2137.7" cy="1529.9" r="8.14"/>
<circle class="c7" cx="2131.8" cy="1497.6" r="8.14"/>
<circle class="c15" cx="2129.3" cy="1527.6" r="8.14"/>
<circle class="c5" cx="2185.9" cy="1529.2" r="8.14"/>
<circle class="c14" cx="2109.7" cy="1507.5" r="8.14"/>
<circle class="c7" cx="2159.7" cy="1515.2" r="8.14"/>
<circle class="c3" cx="2128.2" cy="1525.5" r="8.14"/>
<circle class="c0" cx="2167.3" cy="1525.9" r="8.14"/>
<circle class="c0" cx="2197.8" cy="1529.9" r="8.14"/>
<circle class="c15" cx="2163.7" cy="1529.5" r="8.14"/>
<circle class="c4" cx="2120.0" cy="1442.6" r="8.14"/>
<circle class="c13" cx="2164.7" cy="1530.0" r="8.14"/>
<circle class="c0" cx="2163.0" cy="1528.5" r="8.14"/>
<circle class="c14" cx="2120.9" cy="1459.3" r="8.14"/>
<circle class="c11" cx="2131.3" cy="1510.4" r="8.14"/>
<circle class="c13" cx="2163.4" cy="1522.7" r="8.14"/>
<circle class="c13" cx="2190.8" cy="1494.7" r="8.14"/>
<circle class="c3" cx="2170.0" cy="1513.9" r="8.14"/>
<circle class="c7" cx="2111.8" cy="1503.2" r="8.14"/>
<circle class="c1" cx="2130.2" cy="1529.5" r="8.14"/>
<circle class="c12" cx="2164.5" cy="1523.7" r="8.14"/>
<circle class="c5" cx="2152.7" cy="1502.2" r="8.14"/>
<circle class="c1" cx="2178.9" cy="1528.3" r="8.14"/>
<circle class="c5" cx="2117.8" cy="1468.8" r="8.14"/>
<circle class="c15" cx="2129.6" cy="1527.4" r="8.14"/>
<circle class="c12" cx="2130.3" cy="1493.7" r="8.14"/>
<circle class="c12" cx="2149.3" cy="1464.5" r="8.14"/>
<circle class="c5" cx="2144.4" cy="1510.8" r="8.14"/>
<circle class="c3" cx="2130.9" cy="1528.6" r="8.14"/>
<circle class="c13" cx="2134.4" cy="1529.9" r="8.14"/>
<circle class="c0" cx="2124.6" cy="1510.2" r="8.14"/>
<circle class="c4" cx="2190.4" cy="1524.9" r="8.14"/>
<circle class="c0" cx="2163.2" cy="1524.9" r="8.14"/>
<circle class="c12" cx="2118.4" cy="1510.1" r="8.14"/>
<circle class="c1" cx="2166.1" cy="1529.5" r="8.14"/>
<circle class="c5" cx="2189.8" cy="1529.5" r="8.14"/>
<circle class="c11" cx="2155.6" cy="1528.1" r="8.14"/>
<circle class="c14" cx="2117.5" cy="1510.8" r="8.14"/>
<circle class="c12" cx="2114.3" cy="1516.8" r="8.14"/>
<circle class="c7" cx="2111.8" cy="1446.2" r="8.14"/>
<circle class="c11" cx="2195.5" cy="1529.5" r="8.14"/>
<circle class="c1" cx="2193.7" cy="1529.4" r="8.14"/>
<circle class="c1" cx="2170.9" cy="1527.6" r="8.14"/>
<circle class="c5" cx="2194.9" cy="1529.9" r="8.14"/>
<circle class="c4" cx="2117.7" cy="1529.5" r="8.14"/>
<circle class="c13" cx="2186.5" cy="1491.9" r="8.14"/>
<circle class="c1" cx="2137.7" cy="1522.3" r="8.14"/>
<circle class="c4" cx="2198.9" cy="1530.0" r="8.14"/>
<circle class="c5" cx="2188.4" cy="1530.0" r="8.14"/>
<circle class="c6" cx="2119.4" cy="1500.9" r="8.14"/>
<circle class="c14" cx="2149.5" cy="1506.6" r="8.14"/>
<circle class="c5" cx="2133.1" cy="1529.4" r="8.14"/>
<circle class="c12" cx="2149.3" cy="1509.6" r="8.14"/>
<circle class="c5" cx="2150.6" cy="1517.4" r="8.14"/>
<circle class="c4" cx="2145.0" cy="1529.8" r="8.14"/>
<circle class="c5" cx="2154.9" cy="1529.8" r="8.14"/>
<circle class="c0" cx="2183.7" cy="1527.9" r="8.14"/>
<circle class="c1" cx="2126.3" cy="1529.8" r="8.14"/>
<circle class="c14" cx="2197.9" cy="1515.5" r="8.14"/>
<circle class="c7" cx="2157.4" cy="1498.2" r="8.14"/>
<circle class="c0" cx="2189.2" cy="1529.1" r="8.14"/>
<circle class="c13" cx="2168.3" cy="1524.6" r="8.14"/>
<circle class="c4" cx="2173.9" cy="1529.1" r="8.14"/>
<circle class="c5" cx="2180.2" cy="1525.7" r="8.14"/>
<circle class="c0" cx="2121.9" cy="1530.0" r="8.14"/>
<circle class="c6" cx="2195.9" cy="1528.2" r="8.14"/>
<circle class="c4" cx="2158.2" cy="1502.1" r="8.14"/>
<circle class="c4" cx="2180.4" cy="1529.4" r="8.14"/>
<circle class="c4" cx="2177.7" cy="1527.4" r="8.14"/>
<circle class="c14" cx="2169.5" cy="1473.7" r="8.14"/>
<circle class="c13" cx="2170.3" cy="1500.6" r="8.14"/>
<circle class="c14" cx="2171.3" cy="1459.8" r="8.14"/>
<circle class="c15" cx="2173.2" cy="1529.0" r="8.14"/>
<circle class="c6" cx="2141.1" cy="1494.7" r="8.14"/>
<circle class="c5" cx="2179.7" cy="1517.5" r="8.14"/>
<circle class="c11" cx="2136.5" cy="1529.7" r="8.14"/>
<circle class="c1" cx="2142.3" cy="1529.8" r="8.14"/>
<circle class="c5" cx="2150.9" cy="1530.0" r="8.14"/>
<circle class="c6" cx="2161.7" cy="1491.2" r="8.14"/>
<circle class="c6" cx="2142.3" cy="1526.0" r="8.14"/>
<circle class="c5" cx="2127.8" cy="1528.2" r="8.14"/>
<circle class="c5" cx="2189.1" cy="1528.2" r="8.14"/>
<circle class="c13" cx="2118.5" cy="1528.8" r="8.14"/>
<circle class="c1" cx="2142.2" cy="1523.0" r="8.14"/>
<circle class="c4" cx="2110.9" cy="1526.1" r="8.14"/>
<circle class="c5" cx="2191.6" cy="1527.6" r="8.14"/>
<circle class="c0" cx="2198.2" cy="1528.3" r="8.14"/>
<circle class="c15" cx="2150.9" cy="1525.9" r="8.14"/>
<circle class="c5" cx="2124.5" cy="1523.4" r="8.14"/>
<circle class="c14" cx="2137.8" cy="1498.9" r="8.14"/>
<circle class="c0" cx="2123.8" cy="1529.1" r="8.14"/>
<circle class="c0" cx="2197.1" cy="1529.5" r="8.14"/>
<circle class="c0" cx="2126.1" cy="1530.0" r="8.14"/>
<circle class="c12" cx="2110.9" cy="1491.0" r="8.14"/>
<circle class="c0" cx="2168.4" cy="1529.4" r="8.14"/>
<circle class="c5" cx="2134.6" cy="1515.2" r="8.14"/>
<circle class="c7" cx="2186.6" cy="1520.7" r="8.14"/>
<circle class="c1" cx="2141.8" cy="1527.0" r="8.14"/>
<circle class="c5" cx="2180.0" cy="1529.4" r="8.14"/>
<circle class="c14" cx="2143.1" cy="1442.5" r="8.14"/>
<circle class="c1" cx="2147.7" cy="1528.6" r="8.14"/>
<circle class="c12" cx="2168.8" cy="1470.8" r="8.14"/>
<circle class="c13" cx="2117.0" cy="1443.4" r="8.14"/>
<circle class="c13" cx="2196.7" cy="1491.8" r="8.14"/>
<circle class="c5" cx="2154.8" cy="1530.0" r="8.14"/>
<circle class="c4" cx="2157.2" cy="1529.7" r="8.14"/>
<circle class="c5" cx="2178.4" cy="1527.5" r="8.14"/>
<circle class="c6" cx="2114.2" cy="1529.4" r="8.14"/>
<circle class="c13" cx="2174.1" cy="1527.1" r="8.14"/>
<circle class="c5" cx="2177.5" cy="1442.4" r="8.14"/>
<circle class="c13" cx="2142.5" cy="1511.3" r="8.14"/>
<circle class="c13" cx="2125.3" cy="1530.0" r="8.14"/>
<circle class="c13" cx="2148.0" cy="1529.7" r="8.14"/>
<circle class="c5" cx="2169.5" cy="1528.1" r="8.14"/>
<circle class="c14" cx="2133.0" cy="1460.9" r="8.14"/>
<circle class="c13" cx="2108.7" cy="1512.4" r="8.14"/>
<circle class="c4" cx="2189.6" cy="1529.2" r="8.14"/>
<circle class="c4" cx="2134.7" cy="1499.4" r="8.14"/>
<circle class="c11" cx="2199.4" cy="1529.6" r="8.14"/>
<circle class="c13" cx="2174.9" cy="1511.4" r="8.14"/>
<circle class="c5" cx="2147.6" cy="1528.5" r="8.14"/>
<circle class="c13" cx="2128.3" cy="1443.4" r="8.14"/>
<circle class="c15" cx="2153.5" cy="1529.8" r="8.14"/>
<circle class="c14" cx="2136.0" cy="1524.7" r="8.14"/>
<circle class="c5" cx="2145.8" cy="1530.0" r="8.14"/>
<circle class="c1" cx="2111.7" cy="1529.4" r="8.14"/>
<circle class="c14" cx="2184.8" cy="1528.1" r="8.14"/>
<circle class="c4" cx="2120.6" cy="1526.3" r="8.14"/>
<circle class="c6" cx="2118.9" cy="1529.9" r="8.14"/>
<circle class="c5" cx="2199.0" cy="1529.7" r="8.14"/>
<circle class="c4" cx="2151.4" cy="1526.0" r="8.14"/>
<circle class="c11" cx="2172.5" cy="1530.0" r="8.14"/>
<circle class="c4" cx="2136.9" cy="1498.6" r="8.14"/>
<circle class="c15" cx="2129.4" cy="1491.4" r="8.14"/>
<circle class="c7" cx="2190.0" cy="1521.5" r="8.14"/>
<circle class="c3" cx="2196.6" cy="1526.6" r="8.14"/>
<circle class="c13" cx="2194.0" cy="1529.3" r="8.14"/>
<circle class="c1" cx="2145.6" cy="1526.7" r="8.14"/>
<circle class="c0" cx="2192.9" cy="1529.5" r="8.14"/>
<circle class="c3" cx="2131.8" cy="1436.8" r="8.14"/>
<circle class="c7" cx="2189.2" cy="1508.3" r="8.14"/>
<circle class="c13" cx="2188.4" cy="1493.3" r="8.14"/>
<circle class="c13" cx="2193.8" cy="1529.9" r="8.14"/>
<circle class="c1" cx="2153.3" cy="1523.3" r="8.14"/>
<circle class="c4" cx="2119.6" cy="1489.7" r="8.14"/>
<circle class="c12" cx="2145.4" cy="1530.0" r="8.14"/>
<circle class="c13" cx="2117.0" cy="1526.7" r="8.14"/>
<circle class="c14" cx="2135.7" cy="1465.9" r="8.14"/>
<circle class="c15" cx="2163.6" cy="1529.1" r="8.14"/>
<circle class="c3" cx="2145.0" cy="1523.5" r="8.14"/>
<circle class="c13" cx="2125.3" cy="1501.5" r="8.14"/>
<circle class="c0" cx="2159.5" cy="1498.9" r="8.14"/>
<circle class="c5" cx="2154.5" cy="1528.5" r="8.14"/>
<circle class="c5" cx="2167.6" cy="1523.9" r="8.14"/>
<circle class="c7" cx="2117.1" cy="1448.7" r="8.14"/>
<circle class="c1" cx="2146.3" cy="1474.9" r="8.14"/>
<circle class="c0" cx="2117.6" cy="1522.9" r="8.14"/>
<circle class="c14" cx="2141.0" cy="1438.2" r="8.14"/>
<circle class="c13" cx="2197.2" cy="1529.7" r="8.14"/>
<circle class="c11" cx="2109.6" cy="1508.7" r="8.14"/>
<circle class="c11" cx="2193.9" cy="1522.8" r="8.14"/>
<circle class="c1" cx="2161.9" cy="1526.9" r="8.14"/>
<circle class="c5" cx="2129.9" cy="1530.0" r="8.14"/>
<circle class="c5" cx="2142.8" cy="1507.4" r="8.14"/>
<circle class="c1" cx="2198.1" cy="1528.3" r="8.14"/>
<circle class="c3" cx="2133.8" cy="1530.0" r="8.14"/>
<circle class="c5" cx="2111.6" cy="1530.0" r="8.14"/>
<circle class="c15" cx="2170.3" cy="1528.2" r="8.14"/>
<circle class="c4" cx="2191.0" cy="1523.0" r="8.14"/>
<circle class="c1" cx="2176.5" cy="1530.0" r="8.14"/>
<circle class="c12" cx="2157.8" cy="1434.4" r="8.14"/>
<circle class="c5" cx="2142.3" cy="1504.6" r="8.14"/>
<circle class="c12" cx="2114.8" cy="1529.9" r="8.14"/>
<circle class="c5" cx="2155.7" cy="1527.6" r="8.14"/>
<circle class="c14" cx="2150.2" cy="1468.9" r="8.14"/>
<circle class="c5" cx="2137.8" cy="1530.0" r="8.14"/>
<circle class="c5" cx="2137.9" cy="1525.6" r="8.14"/>
<circle class="c11" cx="2165.1" cy="1527.4" r="8.14"/>
<circle class="c14" cx="2117.9" cy="1490.0" r="8.14"/>
<circle class="c1" cx="2143.1" cy="1508.3" r="8.14"/>
<circle class="c1" cx="2174.1" cy="1529.7" r="8.14"/>
<circle class="c14" cx="2140.2" cy="1503.5" r="8.14"/>
<circle class="c4" cx="2152.7" cy="1525.3" r="8.14"/>
<circle class="c5" cx="2126.7" cy="1505.3" r="8.14"/>
<circle class="c3" cx="2193.8" cy="1529.5" r="8.14"/>
<circle class="c13" cx="2125.9" cy="1530.0" r="8.14"/>
<circle class="c0" cx="2133.1" cy="1529.2" r="8.14"/>
<circle class="c0" cx="2162.7" cy="1529.2" r="8.14"/>
<circle class="c15" cx="2157.3" cy="1530.0" r="8.14"/>
<circle class="c1" cx="2152.9" cy="1529.6" r="8.14"/>
<circle class="c4" cx="2144.3" cy="1499.2" r="8.14"/>
<circle class="c6" cx="2164.7" cy="1525.6" r="8.14"/>
<circle class="c6" cx="2116.1" cy="1528.7" r="8.14"/>
<circle class="c0" cx="2137.4" cy="1529.8" r="8.14"/>
<circle class="c0" cx="2185.8" cy="1530.0" r="8.14"/>
<circle class="c1" cx="2168.8" cy="1491.1" r="8.14"/>
<circle class="c3" cx="2199.1" cy="1492.0" r="8.14"/>
<circle class="c13" cx="2164.2" cy="1529.3" r="8.14"/>
<circle class="c0" cx="2120.3" cy="1530.0" r="8.14"/>
<circle class="c3" cx="2159.0" cy="1526.4" r="8.14"/>
<circle class="c4" cx="2182.4" cy="1530.0" r="8.14"/>
<circle class="c14" cx="2199.2" cy="1468.1" r="8.14"/>
<circle class="c5" cx="2181.5" cy="1509.0" r="8.14"/>
<circle class="c5" cx="2147.5" cy="1527.6" r="8.14"/>
<circle class="c5" cx="2123.3" cy="1526.7" r="8.14"/>
<circle class="c4" cx="2192.8" cy="1529.3" r="8.14"/>
<circle class="c12" cx="2110.5" cy="1530.0" r="8.14"/>
<circle class="c1" cx="2161.6" cy="1508.6" r="8.14"/>
<circle class="c11" cx="2147.7" cy="1507.3" r="8.14"/>
<circle class="c4" cx="2109.2" cy="1507.1" r="8.14"/>
<circle class="c5" cx="2115.9" cy="1530.0" r="8.14"/>
<circle class="c13" cx="2124.0" cy="1493.8" r="8.14"/>
<circle class="c1" cx="2147.1" cy="1489.9" r="8.14"/>
<circle class="c5" cx="2179.2" cy="1451.0" r="8.14"/>
<circle class="c5" cx="2184.0" cy="1529.4" r="8.14"/>
<circle class="c13" cx="2188.6" cy="1518.0" r="8.14"/>
<circle class="c1" cx="2167.8" cy="1507.1" r="8.14"/>
<circle class="c13" cx="2129.2" cy="1520.8" r="8.14"/>
<circle class="c4" cx="2190.3" cy="1530.0" r="8.14"/>
<circle class="c4" cx="2195.6" cy="1505.7" r="8.14"/>
<circle class="c13" cx="2161.5" cy="1512.0" r="8.14"/>
<circle class="c6" cx="2161.0" cy="1519.0" r="8.14"/>
<circle class="c4" cx="2133.0" cy="1528.1" r="8.14"/>
<circle class="c6" cx="2136.6" cy="1530.0" r="8.14"/>
<circle class="c13" cx="2194.7" cy="1439.8" r="8.14"/>
<circle class="c3" cx="2115.9" cy="1523.4" r="8.14"/>
<circle class="c12" cx="2164.4" cy="1489.9" r="8.14"/>
<circle class="c4" cx="2114.5" cy="1528.8" r="8.14"/>
<circle class="c6" cx="2123.4" cy="1530.0" r="8.14"/>
<circle class="c0" cx="2162.9" cy="1436.5" r="8.14"/>
<circle class="c15" cx="2131.9" cy="1527.2" r="8.14"/>
<circle class="c13" cx="2111.6" cy="1528.8" r="8.14"/>
<circle class="c3" cx="2184.1" cy="1524.4" r="8.14"/>
<circle class="c6" cx="2126.3" cy="1528.7" r="8.14"/>
<circle class="c12" cx="2110.2" cy="1515.2" r="8.14"/>
<circle class="c6" cx="2133.8" cy="1494.6" r="8.14"/>
<circle class="c7" cx="2187.8" cy="1469.2" r="8.14"/>
<circle class="c1" cx="2163.1" cy="1525.3" r="8.14"/>
<circle class="c1" cx="2137.8" cy="1530.0" r="8.14"/>
<circle class="c1" cx="2139.5" cy="1522.0" r="8.14"/>
<circle class="c3" cx="2178.6" cy="1523.4" r="8.14"/>
<circle class="c15" cx="2180.6" cy="1525.1" r="8.14"/>
<circle class="c0" cx="2191.2" cy="1525.0" r="8.14"/>
<circle class="c3" cx="2114.6" cy="1499.8" r="8.14"/>
<circle class="c5" cx="2144.9" cy="1528.8" r="8.14"/>
<circle class="c0" cx="2192.6" cy="1434.7" r="8.14"/>
<circle class="c11" cx="2139.1" cy="1527.3" r="8.14"/>
<circle class="c13" cx="2193.1" cy="1530.0" r="8.14"/>
<circle class="c12" cx="2121.4" cy="1518.0" r="8.14"/>
<circle class="c12" cx="2169.4" cy="1524.0" r="8.14"/>
<circle class="c12" cx="2198.5" cy="1476.5" r="8.14"/>
<circle class="c5" cx="2165.8" cy="1523.1" r="8.14"/>
<circle class="c4" cx="2127.3" cy="1529.6" r="8.14"/>
<circle class="c1" cx="2122.8" cy="1525.2" r="8.14"/>
<circle class="c1" cx="2116.2" cy="1515.2" r="8.14"/>
<circle class="c1" cx="2128.1" cy="1510.8" r="8.14"/>
<circle class="c12" cx="2115.6" cy="1525.4" r="8.14"/>
<circle class="c5" cx="2125.9" cy="1529.6" r="8.14"/>
<circle class="c6" cx="2153.5" cy="1528.3" r="8.14"/>
<circle class="c13" cx="2136.6" cy="1530.0" r="8.14"/>
<circle class="c13" cx="2189.3" cy="1490.0" r="8.14"/>
<circle class="c15" cx="2111.9" cy="1504.6" r="8.14"/>
<circle class="c12" cx="2166.8" cy="1504.8" r="8.14"/>
<circle class="c11" cx="2145.4" cy="1528.0" r="8.14"/>
<circle class="c3" cx="2170.2" cy="1529.9" r="8.14"/>
<circle class="c0" cx="2121.9" cy="1510.8" r="8.14"/>
<circle class="c13" cx="2171.2" cy="1516.9" r="8.14"/>
<circle class="c14" cx="2194.8" cy="1528.1" r="8.14"/>
<circle class="c7" cx="2129.4" cy="1491.9" r="8.14"/>
<circle class="c5" cx="2197.7" cy="1529.9" r="8.14"/>
<circle class="c13" cx="2163.2" cy="1527.6" r="8.14"/>
<circle class="c13" cx="2193.4" cy="1513.7" r="8.14"/>
<circle class="c4" cx="2183.3" cy="1529.4" r="8.14"/>
<circle class="c13" cx="2145.8" cy="1437.7" r="8.14"/>
<circle class="c5" cx="2126.5" cy="1490.4" r="8.14"/>
<circle class="c4" cx="2175.6" cy="1528.8" r="8.14"/>
<circle class="c7" cx="2125.8" cy="1499.3" r="8.14"/>
<circle class="c13" cx="2172.5" cy="1519.6" r="8.14"/>
<circle class="c1" cx="2124.2" cy="1501.4" r="8.14"/>
<circle class="c1" cx="2173.4" cy="1499.1" r="8.14"/>
<circle class="c4" cx="2182.9" cy="1529.9" r="8.14"/>
<circle class="c7" cx="2185.5" cy="1437.7" r="8.14"/>
<circle class="c0" cx="2197.9" cy="1527.2" r="8.14"/>
<circle class="c11" cx="2185.9" cy="1506.0" r="8.14"/>
<circle class="c6" cx="2186.7" cy="1530.0" r="8.14"/>
<circle class="c15" cx="2142.7" cy="1529.5" r="8.14"/>
<circle class="c4" cx="2113.6" cy="1526.8" r="8.14"/>
<circle class="c1" cx="2196.8" cy="1525.2" r="8.14"/>
<circle class="c1" cx="2113.1" cy="1448.3" r="8.14"/>
<circle class="c5" cx="2148.1" cy="1525.5" r="8.14"/>
<circle class="c1" cx="2116.7" cy="1529.9" r="8.14"/>
<circle class="c13" cx="2129.3" cy="1500.7" r="8.14"/>
<circle class="c0" cx="2177.9" cy="1464.3" r="8.14"/>
<circle class="c1" cx="2166.2" cy="1530.0" r="8.14"/>
<circle class="c13" cx="2185.1" cy="1504.6" r="8.14"/>
<circle class="c15" cx="2112.6" cy="1526.2" r="8.14"/>
<circle class="c5" cx="2143.2" cy="1499.3" r="8.14"/>
<circle class="c5" cx="2143.3" cy="1529.7" r="8.14"/>
<circle class="c6" cx="2123.7" cy="1529.1" r="8.14"/>
<circle class="c4" cx="2194.4" cy="1492.3" r="8.14"/>
<circle class="c0" cx="2162.3" cy="1525.9" r="8.14"/>
<circle class="c14" cx="2121.1" cy="1529.8" r="8.14"/>
<circle class="c6" cx="2116.0" cy="1527.2" r="8.14"/>
<circle class="c5" cx="2165.7" cy="1529.8" r="8.14"/>
<circle class="c4" cx="2145.4" cy="1519.4" r="8.14"/>
<circle class="c3" cx="2188.2" cy="1527.0" r="8.14"/>
<circle class="c14" cx="2142.0" cy="1477.0" r="8.14"/>
<circle class="c5" cx="2133.5" cy="1489.8" r="8.14"/>
<circle class="c15" cx="2193.3" cy="1490.1" r="8.14"/>
<circle class="c15" cx="2159.8" cy="1510.6" r="8.14"/>
<circle class="c3" cx="2169.8" cy="1502.6" r="8.14"/>
<circle class="c13" cx="2138.5" cy="1493.5" r="8.14"/>
<circle class="c1" cx="2125.6" cy="1530.0" r="8.14"/>
<circle class="c12" cx="2141.2" cy="1521.2" r="8.14"/>
<circle class="c5" cx="2125.1" cy="1530.0" r="8.14"/>
<circle class="c4" cx="2176.9" cy="1529.8" r="8.14"/>
<circle class="c15" cx="2162.7" cy="1527.7" r="8.14"/>
<circle class="c5" cx="2146.2" cy="1514.9" r="8.14"/>
<circle class="c13" cx="2150.5" cy="1524.7" r="8.14"/>
<circle class="c1" cx="2137.4" cy="1527.9" r="8.14"/>
<circle class="c0" cx="2122.3" cy="1529.6" r="8.14"/>
<circle class="c5" cx="2158.6" cy="1509.1" r="8.14"/>
<circle class="c13" cx="2114.6" cy="1518.1" r="8.14"/>
<circle class="c5" cx="2129.8" cy="1528.5" r="8.14"/>
<circle class="c5" cx="2161.7" cy="1529.9" r="8.14"/>
<circle class="c6" cx="2121.7" cy="1492.1" r="8.14"/>
<circle class="c6" cx="2116.4" cy="1524.2" r="8.14"/>
<circle class="c6" cx="2177.2" cy="1529.8" r="8.14"/>
<circle class="c5" cx="2142.7" cy="1527.1" r="8.14"/>
<circle class="c13" cx="2146.6" cy="1528.4" r="8.14"/>
<circle class="c0" cx="2184.9" cy="1528.8" r="8.14"/>
<circle class="c3" cx="2114.0" cy="1428.8" r="8.14"/>
<circle class="c7" cx="2132.0" cy="1424.8" r="8.14"/>
<circle class="c15" cx="2144.8" cy="1426.4" r="8.14"/>
<circle class="c3" cx="2164.1" cy="1424.8" r="8.14"/>
<circle class="c12" cx="2182.5" cy="1424.0" r="8.14"/>
<circle class="c8" cx="2199.3" cy="1422.4" r="8.14"/>
<circle class="c2" cx="2108.3" cy="1445.6" r="8.14"/>
<circle class="c7" cx="2130.4" cy="1439.2" r="8.14"/>
<circle class="c6" cx="2121.6" cy="1447.2" r="8.14"/>
<circle class="c12" cx="2161.7" cy="1441.2" r="8.14"/>
<circle class="c13" cx="2199.9" cy="1436.8" r="8.14"/>
<circle class="c12" cx="2183.3" cy="1438.4" r="8.14"/>
<circle class="c10" cx="2189.7" cy="1444.0" r="8.14"/>
<circle class="c15" cx="2148.1" cy="1448.8" r="8.14"/>
<circle class="c5" cx="2173.7" cy="1456.0" r="8.14"/>
<circle class="c11" cx="2115.2" cy="1457.6" r="8.14"/>
<circle class="c7" cx="2108.3" cy="1462.4" r="8.14"/>
<circle class="c14" cx="2196.9" cy="1460.0" r="8.14"/>
<circle class="c0" cx="2125.6" cy="1465.6" r="8.14"/>
<circle class="c6" cx="2138.4" cy="1464.8" r="8.14"/>
<circle class="c1" cx="2152.9" cy="1464.8" r="8.14"/>
<circle class="c13" cx="2168.1" cy="1466.4" r="8.14"/>
<circle class="c13" cx="2184.1" cy="1468.0" r="8.14"/>
<circle class="c13" cx="2172.1" cy="1472.0" r="8.14"/>
<circle class="c4" cx="2152.9" cy="1477.6" r="8.14"/>
<circle class="c4" cx="2154.5" cy="1479.2" r="8.14"/>
<circle class="c1" cx="2181.7" cy="1479.2" r="8.14"/>
<circle class="c2" cx="2176.1" cy="1486.5" r="8.14"/>
<circle class="c4" cx="2199.9" cy="1480.8" r="8.14"/>
<circle class="c14" cx="2197.7" cy="1479.2" r="8.14"/>
<circle class="c13" cx="2110.4" cy="1482.4" r="8.14"/>
<circle class="c12" cx="2116.0" cy="1479.2" r="8.14"/>
<circle class="c15" cx="2136.0" cy="1481.6" r="8.14"/>
<circle class="c14" cx="2125.6" cy="1496.9" r="8.14"/>
<circle class="c13" cx="2127.2" cy="1495.3" r="8.14"/>
<circle class="c12" cx="2160.9" cy="1492.1" r="8.14"/>
<circle class="c11" cx="2165.7" cy="1500.1" r="8.14"/>
<circle class="c5" cx="2111.2" cy="1504.9" r="8.14"/>
<circle class="c7" cx="2144.8" cy="1493.7" r="8.14"/>
<circle class="c7" cx="2172.1" cy="1508.1" r="8.14"/>
<circle class="c4" cx="2188.1" cy="1500.1" r="8.14"/>
<circle class="c2" cx="2186.5" cy="1496.9" r="8.14"/>
<circle class="c12" cx="2149.7" cy="1506.5" r="8.14"/>
<circle class="c13" cx="2160.1" cy="1512.1" r="8.14"/>
<circle class="c13" cx="2198.5" cy="1512.9" r="8.14"/>
<circle class="c13" cx="2196.1" cy="1516.1" r="8.14"/>
<circle class="c4" cx="2132.0" cy="1514.5" r="8.14"/>
<circle class="c0" cx="2108.3" cy="1529.7" r="8.14"/>
<circle class="c1" cx="2110.4" cy="1527.3" r="8.14"/>
<circle class="c4" cx="2116.0" cy="1524.1" r="8.14"/>
<circle class="c1" cx="2132.0" cy="1528.1" r="8.14"/>
<circle class="c11" cx="2120.0" cy="1529.7" r="8.14"/>
<circle class="c12" cx="2152.9" cy="1527.3" r="8.14"/>
<circle class="c4" cx="2158.5" cy="1528.9" r="8.14"/>
<circle class="c1" cx="2187.3" cy="1532.1" r="8.14"/>
<circle class="c0" cx="2192.1" cy="1529.7" r="8.14"/>
<circle class="c6" cx="2199.9" cy="1527.3" r="8.14"/>
<circle class="c5" cx="2176.9" cy="1524.9" r="8.14"/>
<circle class="c5" cx="2177.7" cy="1525.7" r="8.14"/>
</g>
<path d="M147.5 1530.0H159.0M147.5 1207.4H159.0M147.5 884.9H159.0M147.5 562.3H159.0M147.5 239.8H159.0M298.1 1597.6V1609.1M530.1 1597.6V1609.1M762.1 1597.6V1609.1M994.1 1597.6V1609.1M1226.1 1597.6V1609.1M1458.1 1597.6V1609.1M1690.1 1597.6V1609.1M1922.1 1597.6V1609.1M2154.1 1597.6V1609.1" stroke="#333" stroke-width="4.4" fill="none"/>
<text x="138.2" y="1543.1" font-size="36.67" fill="#4D4D4D" text-anchor="end">0</text>
<text x="138.2" y="1220.5" font-size="36.67" fill="#4D4D4D" text-anchor="end">200</text>
<text x="138.2" y="898.0" font-size="36.67" fill="#4D4D4D" text-anchor="end">400</text>
<text x="138.2" y="575.4" font-size="36.67" fill="#4D4D4D" text-anchor="end">600</text>
<text x="138.2" y="252.9" font-size="36.67" fill="#4D4D4D" text-anchor="end">800</text>
<text transform="translate(311.0 1618.3) rotate(-90)" font-size="36.67" fill="#4D4D4D" text-anchor="end">Bcell</text>
<text transform="translate(543.0 1618.3) rotate(-90)" font-size="36.67" fill="#4D4D4D" text-anchor="end">endothelium</text>
<text transform="translate(775.0 1618.3) rotate(-90)" font-size="36.67" fill="#4D4D4D" text-anchor="end">fibroblast</text>
<text transform="translate(1007.0 1618.3) rotate(-90)" font-size="36.67" fill="#4D4D4D" text-anchor="end">myeloid_cell</text>
<text transform="translate(1239.0 1618.3) rotate(-90)" font-size="36.67" fill="#4D4D4D" text-anchor="end">pDC</text>
<text transform="translate(1471.0 1618.3) rotate(-90)" font-size="36.67" fill="#4D4D4D" text-anchor="end">schwann_cell</text>
<text transform="translate(1703.0 1618.3) rotate(-90)" font-size="36.67" fill="#4D4D4D" text-anchor="end">Tcell</text>
<text transform="translate(1935.0 1618.3) rotate(-90)" font-size="36.67" fill="#4D4D4D" text-anchor="end">tumor</text>
<text transform="translate(2167.0 1618.3) rotate(-90)" font-size="36.67" fill="#4D4D4D" text-anchor="end">unknown</text>
<text x="159" y="62.2" font-size="54.45" fill="#000">Split0 20. Cytotoxic T Cell_1</text>
<text x="1226" y="1883" font-size="45.83" fill="#000" text-anchor="middle">Original Author Cell Annotation</text>
<text transform="translate(55.6 847.6) rotate(-90)" font-size="45.83" fill="#000" text-anchor="middle">Activity Score</text>
<text x="2361.7" y="276.3" font-size="45.83" fill="#000">SampleNames</text>
<rect x="2361.7" y="305" width="72.3" height="1152" fill="#F2F2F2"/>
<g fill-opacity=".5" stroke-opacity=".5" stroke-width="2.95">
<circle class="c0" cx="2397.8" cy="341.0" r="8.14"/>
<circle class="c1" cx="2397.8" cy="413.0" r="8.14"/>
<circle class="c2" cx="2397.8" cy="485.0" r="8.14"/>
<circle class="c3" cx="2397.8" cy="557.0" r="8.14"/>
<circle class="c4" cx="2397.8" cy="629.0" r="8.14"/>
<circle class="c5" cx="2397.8" cy="701.0" r="8.14"/>
<circle class="c6" cx="2397.8" cy="773.0" r="8.14"/>
<circle class="c7" cx="2397.8" cy="845.0" r="8.14"/>
<circle class="c8" cx="2397.8" cy="917.0" r="8.14"/>
<circle class="c9" cx="2397.8" cy="989.0" r="8.14"/>
<circle class="c10" cx="2397.8" cy="1061.0" r="8.14"/>
<circle class="c11" cx="2397.8" cy="1133.0" r="8.14"/>
<circle class="c12" cx="2397.8" cy="1205.0" r="8.14"/>
<circle class="c13" cx="2397.8" cy="1277.0" r="8.14"/>
<circle class="c14" cx="2397.8" cy="1349.0" r="8.14"/>
<circle class="c15" cx="2397.8" cy="1421.0" r="8.14"/>
</g>
<text x="2456.9" y="354.1" font-size="36.67" fill="#000">T10</text>
<text x="2456.9" y="426.1" font-size="36.67" fill="#000">T162</text>
<text x="2456.9" y="498.1" font-size="36.67" fill="#000">T175</text>
<text x="2456.9" y="570.1" font-size="36.67" fill="#000">T188</text>
<text x="2456.9" y="642.1" font-size="36.67" fill="#000">T19</text>
<text x="2456.9" y="714.1" font-size="36.67" fill="#000">T200</text>
<text x="2456.9" y="786.1" font-size="36.67" fill="#000">T214</text>
<text x="2456.9" y="858.1" font-size="36.67" fill="#000">T230</text>
<text x="2456.9" y="930.1" font-size="36.67" fill="#000">T27</text>
<text x="2456.9" y="1002.1" font-size="36.67" fill="#000">T34</text>
<text x="2456.9" y="1074.1" font-size="36.67" fill="#000">T40</text>
<text x="2456.9" y="1146.1" font-size="36.67" fill="#000">T44</text>
<text x="2456.9" y="1218.1" font-size="36.67" fill="#000">T69</text>
<text x="2456.9" y="1290.1" font-size="36.67" fill="#000">T71</text>
<text x="2456.9" y="1362.1" font-size="36.67" fill="#000">T75</text>
<text x="2456.9" y="1434.1" font-size="36.67" fill="#000">T92</text>
</svg></body></html>
